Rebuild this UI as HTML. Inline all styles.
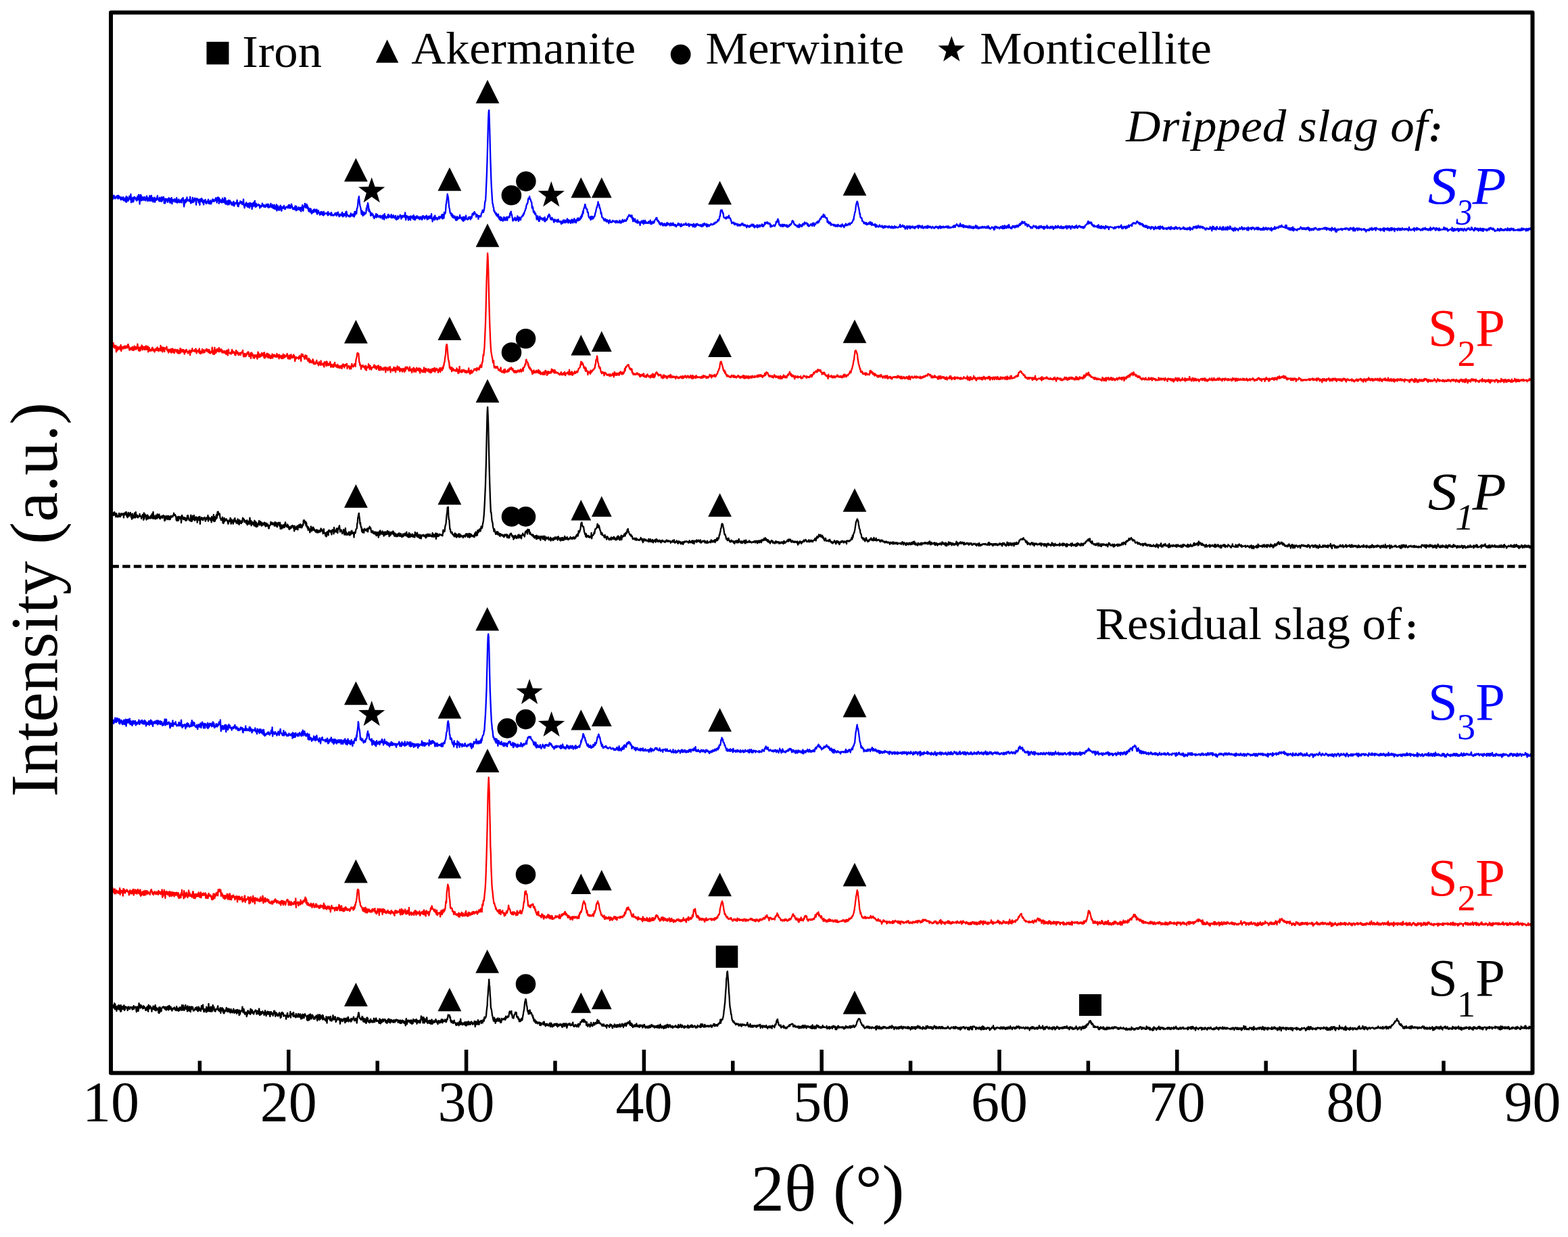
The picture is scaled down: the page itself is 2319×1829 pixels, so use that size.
<!DOCTYPE html>
<html><head><meta charset="utf-8"><title>XRD patterns</title><style>html,body{margin:0;padding:0;background:#fff;}svg{display:block;}</style></head><body>
<svg width="2319" height="1829" viewBox="0 0 2319 1829" font-family="'Liberation Serif', 'Times New Roman', serif">
<rect width="100%" height="100%" fill="#fff"/>
<path transform="translate(164.00 0) scale(0.52560 0.1)" vector-effect="non-scaling-stroke" fill="none" stroke="#0000ff" stroke-width="2.3" stroke-linejoin="round" d="M0 2914l1-17 1 6 1 34 1-67 1 52 1 21 1-34 1 12 1-29 1 32 1-9 1 21 1-8 1 2 1-29 1 0 1 5 1 14 1-29 1 48 1-9 1-36 1 8 1 16 1 14 1-14 1 14 1 22 1-40 1 33 1-17 1 21 1-10 1-23 1-3 1 51 1-8 1-7 1 1 1-22 1 52 1-26 1-51 1 84 1-29 1-45 1 29 1 12 1 14 1-20 1-23 1-26 1 39 1-31 1 41 1-79 1 123 1-78 1 24 1 22 1 20 1 5 1-65 1 51 1-26 1-36 1 2 1 10 1 15 1-1 1 21 1-31 1 41 1-36 1-29 1 37 1 12 1-74 1 73 1-10 1 75 1-65 1-69 1 15 1-11 1 80 1-51 1 43 1-42 1 4 1-5 1 43 1-9 1-25 1-11 1 41 1 12 1-8 1-10 1-32 1-18 1 43 1 32 1-18 1-28 1 29 1 13 1-3 1-72 1 39 1 2 1 37 1-59 1-22 1 73 1-12 1 21 1-49 1 62 1-40 1 8 1-7 1-28 1 70 1-36 1-1 1-15 1 23 1-29 1-11 1-26 1 43 1 15 1 6 1-18 1 37 1-53 1-4 1 50 1-28 1-1 1 39 1-67 1 58 1-45 1 26 1-7 1-33 1 10 1 85 1-46 1-13 1 55 1-63 1 36 1-35 1 13 1-7 1-4 1 48 1-23 1-22 1-21 1 28 1 8 1 33 1 6 1-65 1 1 1 46 1-59 1 91 1-48 1-7 1-6 1 3 1 4 1 24 1-41 1 4 1 0 1 4 1 41 1-5 1-64 1 45 1 31 1-36 1 0 1 22 1-39 1 42 1 5 1-1 1-5 1-28 1 20 1-22 1 39 1-58 1 1 1 16 1-32 1 36 1 57 1 39 1-92 1 47 1-29 1-31 1 10 1 26 1-15 1-54 1 49 1-7 1-4 1 14 1-1 1-17 1 3 1 25 1-67 1 58 1 37 1-24 1 11 1-31 1 1 1-43 1 72 1-48 1 40 1-14 1-20 1-23 1 25 1-3 1 22 1 56 1-95 1 21 1 0 1-14 1 14 1 14 1 28 1-16 1-32 1 84 1-78 1-10 1 18 1 14 1-41 1 40 1-31 1 51 1-14 1 1 1 45 1-66 1 10 1 12 1-9 1-22 1 49 1 8 1 2 1-33 1 0 1-5 1 17 1-42 1 61 1-32 1 5 1 31 1-9 1-39 1 16 1 34 1-20 1-13 1-19 1-18 1 30 1-6 1-16 1 26 1-13 1 7 1-10 1-22 1-15 1 38 1-21 1 53 1-70 1 39 1-48 1 3 1 5 1 84 1-79 1 30 1 25 1-31 1 7 1 31 1-33 1 29 1 7 1-63 1 54 1-31 1 15 1 22 1-26 1-43 1 84 1-76 1 61 1 28 1-21 1-20 1-7 1 11 1 45 1-20 1-46 1 48 1 12 1-20 1-38 1 14 1 17 1-6 1 37 1-33 1 39 1-10 1-6 1 17 1-54 1 5 1 63 1-47 1 21 1-20 1 7 1-2 1-13 1 20 1-55 1 72 1 18 1-48 1 53 1-52 1 17 1-11 1 2 1-36 1 29 1-15 1 2 1-6 1 37 1-6 1-17 1 26 1-76 1 78 1 16 1 32 1-46 1 20 1-37 1 28 1-45 1 31 1 13 1 23 1-48 1 28 1 21 1-10 1-48 1 70 1-54 1-18 1 18 1 28 1-37 1 10 1 72 1-82 1 22 1 22 1-59 1 44 1 4 1-31 1-43 1 84 1 10 1-22 1-32 1 44 1-21 1 6 1-5 1-6 1-8 1 19 1-9 1 0 1 48 1-19 1-6 1-9 1 16 1-7 1-10 1-36 1 37 1-18 1 2 1 30 1-20 1-2 1 27 1 0 1-3 1-4 1-33 1 17 1-11 1 12 1 18 1-42 1 54 1-43 1 37 1 1 1-7 1-12 1 1 1-37 1 52 1-10 1 14 1-15 1-24 1 33 1 21 1-10 1-23 1-20 1 63 1-43 1 33 1 10 1-25 1-42 1 93 1-64 1 21 1-30 1 56 1-27 1 34 1 0 1-51 1-1 1-18 1 10 1 60 1 12 1-18 1-41 1 7 1 8 1 2 1-16 1-21 1 47 1-22 1 29 1-4 1-25 1 1 1-8 1 4 1-5 1 10 1 8 1-32 1-10 1 31 1-34 1 48 1-37 1 14 1 20 1-8 1-50 1 20 1 14 1 15 1 27 1-20 1 19 1-17 1 22 1-11 1-28 1-13 1 49 1 19 1-62 1 51 1 1 1-20 1 18 1-12 1-26 1 32 1-18 1 21 1 10 1-39 1 19 1 39 1-56 1-9 1 14 1-44 1 75 1 11 1-41 1-27 1-4 1 9 1-45 1 47 1 15 1-33 1 30 1-49 1 55 1-33 1 43 1-22 1 47 1 16 1-26 1-9 1-8 1 54 1-23 1-22 1 45 1 22 1-40 1 4 1 21 1-30 1-12 1 36 1-42 1 20 1-19 1 28 1-5 1 3 1 19 1-45 1 64 1 6 1-27 1-23 1-5 1 35 1-1 1 3 1 30 1-7 1-37 1-2 1 32 1-6 1-27 1 45 1 0 1-6 1 16 1-58 1 42 1-1 1-12 1-4 1 0 1 4 1-1 1-8 1 16 1-8 1 26 1-51 1 48 1-25 1 8 1 2 1-9 1 13 1-13 1 29 1-43 1 9 1 33 1-4 1-3 1 9 1-10 1 12 1-3 1-16 1-9 1 14 1-25 1 22 1 12 1 8 1-45 1 26 1-12 1-24 1 32 1 19 1 11 1 5 1-33 1 8 1-3 1-7 1 22 1-24 1-12 1-15 1 44 1 21 1-23 1-19 1 29 1-11 1 5 1-27 1 17 1-42 1 73 1-79 1 37 1 4 1 13 1 4 1 12 1-9 1-1 1 17 1-16 1 7 1 7 1-48 1 20 1 14 1 0 1 4 1-26 1 24 1-9 1-17 1 43 1-10 1-67 1 48 1-29 1-20 1 19 1 13 1-68 1-16 1-12 1-48 1-65 1-16 1-31 1 52 1 52 1 30 1 22 1 17 1 38 1 49 1 4 1-52 1 35 1 38 1-27 1 10 1-36 1 39 1-7 1-19 1-2 1 10 1-20 1-61 1 33 1-71 1 7 1-44 1 24 1 27 1 73 1-32 1 37 1-6 1 9 1 55 1-24 1 19 1-32 1 28 1-16 1 5 1 4 1 39 1-7 1 25 1-30 1 3 1-15 1 17 1-44 1 55 1-47 1 26 1-22 1 15 1 20 1-12 1 5 1 3 1-10 1-8 1 35 1-12 1-7 1-9 1 18 1-12 1 36 1-38 1-17 1 33 1-35 1 68 1-84 1 52 1-24 1 17 1 4 1 16 1-4 1-17 1-1 1-12 1-21 1 47 1-45 1 31 1-1 1-10 1 12 1-7 1 17 1-45 1 49 1-8 1-18 1 24 1-24 1-11 1 13 1 20 1 7 1-10 1 5 1-30 1 55 1-11 1 17 1-24 1 0 1-30 1 40 1-30 1 24 1-16 1-16 1 2 1-22 1 11 1 16 1 32 1-45 1 0 1 26 1-27 1 15 1-15 1-2 1 14 1 7 1-25 1-39 1 77 1 30 1-42 1-20 1 16 1-8 1 21 1-19 1 55 1-34 1-14 1 35 1-12 1-32 1 55 1-57 1 4 1 4 1 16 1 1 1-26 1 35 1 9 1-57 1 64 1 1 1-44 1 48 1-27 1 9 1-27 1-11 1 29 1-30 1 29 1-11 1 17 1-5 1-19 1 33 1 6 1-12 1-7 1-21 1 26 1 4 1 14 1-1 1-54 1 16 1-17 1 27 1 3 1 2 1 13 1-39 1 18 1-9 1 15 1-36 1 16 1 44 1-12 1 7 1-38 1-5 1 34 1-6 1-3 1-29 1 24 1 10 1-23 1-44 1 73 1 2 1 41 1-38 1-1 1-23 1 32 1-50 1 55 1-66 1 49 1-4 1-12 1 15 1-15 1 29 1-4 1-3 1-12 1-12 1-14 1 15 1 17 1-32 1 1 1-2 1 8 1 11 1-46 1 33 1 27 1-63 1 45 1-22 1 32 1-88 1 26 1-13 1 4 1-40 1-93 1-15 1-49 1-36 1-53 1 29 1 15 1 50 1 60 1 46 1 18 1 43 1 23 1 4 1-9 1 37 1 6 1-28 1 47 1-3 1-25 1 38 1-24 1 12 1 16 1-29 1 9 1 41 1 10 1-40 1 41 1-55 1 42 1 0 1-31 1 10 1-3 1 10 1-18 1-33 1 45 1-14 1 2 1 20 1 8 1-17 1 34 1-45 1 26 1 32 1-63 1 36 1-31 1 41 1-25 1 4 1-46 1 34 1 17 1 5 1 6 1-4 1-1 1-30 1 23 1-27 1 0 1 11 1-13 1 39 1-40 1 22 1-3 1-20 1-43 1 5 1 0 1-19 1 29 1-26 1-20 1 23 1-3 1 11 1 5 1 41 1-23 1-13 1 9 1 7 1 12 1 38 1-50 1 15 1-12 1 13 1 2 1-5 1 1 1-32 1-22 1 1 1-17 1-26 1 10 1 23 1-13 1-24 1-28 1-55 1-44 1 1 1-78 1-124 1-111 1-143 1-165 1-202 1-213 1-168 1-117 1-26 1 138 1 180 1 203 1 199 1 152 1 161 1 111 1 88 1 87 1 62 1 8 1 44 1 7 1 56 1-8 1 7 1 26 1-1 1 19 1-19 1 39 1-16 1 20 1-23 1 36 1-39 1 34 1 30 1-3 1 20 1-27 1-15 1 55 1-24 1 12 1-32 1 41 1-4 1 15 1-22 1 3 1-40 1 7 1 39 1-3 1 5 1-15 1-29 1 31 1-35 1 50 1-20 1-31 1 12 1-2 1-5 1-20 1 21 1-62 1 10 1-22 1-12 1 52 1-9 1 33 1 22 1 39 1-28 1 1 1 7 1 8 1-24 1-14 1 20 1 9 1 18 1-32 1 22 1-23 1-36 1 43 1-19 1 54 1-40 1-18 1 19 1 20 1-25 1 24 1-39 1-3 1-2 1-1 1-23 1 4 1 3 1-33 1 12 1-20 1-18 1-14 1-8 1-24 1-4 1-41 1-13 1-17 1 3 1-20 1-44 1-19 1-3 1 17 1-39 1 36 1-2 1 14 1 23 1 8 1 9 1 84 1-20 1-1 1 32 1 48 1-17 1 28 1-19 1 39 1-16 1 5 1 28 1 5 1 56 1-26 1 22 1-48 1 22 1 27 1 29 1-38 1 35 1-70 1 40 1 1 1-10 1-10 1 8 1 1 1 25 1-5 1-10 1-14 1 4 1 31 1 12 1-60 1 65 1-37 1 4 1 2 1 11 1-24 1 8 1-27 1-23 1 16 1-21 1-17 1 18 1-2 1 30 1 25 1-6 1 16 1-22 1-9 1 29 1-14 1 16 1 0 1 28 1 10 1-37 1-7 1 6 1 20 1-3 1-6 1 13 1-21 1 31 1-28 1 23 1-33 1 34 1-2 1-4 1 10 1-8 1-4 1 5 1 36 1-29 1 23 1-35 1 16 1 10 1-44 1 28 1-9 1-16 1 37 1-22 1-12 1 32 1-20 1 14 1-26 1-25 1 17 1 25 1 20 1-44 1 32 1-13 1-12 1 4 1 29 1 8 1-20 1-31 1 36 1-40 1 5 1 45 1-35 1 9 1-12 1-26 1 56 1-26 1 24 1-30 1 38 1-26 1-18 1-8 1-13 1 36 1-11 1-30 1 9 1 25 1-19 1 9 1-8 1-37 1 26 1-15 1-39 1 28 1-38 1-39 1 32 1-60 1-14 1-14 1-14 1-34 1 8 1 28 1 28 1-5 1 12 1 1 1 46 1-6 1 10 1 49 1 21 1-3 1 16 1-17 1 13 1 30 1-54 1 25 1 6 1 8 1-35 1 32 1-1 1-13 1-5 1-17 1 5 1-22 1-33 1-6 1-30 1-23 1-24 1 2 1-30 1-20 1-33 1 38 1 10 1-7 1 51 1-5 1 20 1 26 1 45 1-19 1 37 1 32 1 5 1 6 1-3 1 20 1 5 1 18 1-16 1-11 1 23 1-19 1 31 1-21 1 31 1-20 1-8 1 16 1-9 1 25 1 18 1-34 1-7 1-9 1 17 1 17 1 2 1-5 1-3 1 4 1-16 1-9 1 16 1-6 1-2 1 1 1 4 1 13 1-17 1 16 1 9 1-29 1 20 1-11 1-8 1 25 1 2 1-10 1-1 1 7 1-30 1 34 1-20 1-5 1 29 1-3 1-11 1-4 1-25 1-7 1 36 1-3 1-7 1-12 1 9 1-20 1 10 1 7 1-7 1 8 1-18 1-21 1 13 1-27 1-7 1-15 1 1 1-17 1 17 1-13 1 16 1 3 1-11 1 22 1-28 1 0 1 54 1-22 1 58 1-50 1 44 1-12 1-9 1 23 1-32 1 46 1-14 1 1 1-3 1 26 1 0 1-39 1 45 1-22 1 3 1 1 1 6 1 3 1 41 1-46 1-6 1 9 1-22 1 30 1 0 1-21 1 8 1-25 1 55 1-14 1 0 1-23 1-17 1 37 1 5 1-20 1 5 1 13 1-7 1 7 1 2 1-7 1-17 1 22 1-26 1 12 1-7 1-21 1 56 1-35 1 17 1 17 1-23 1 5 1-20 1 15 1 12 1-25 1 11 1-25 1-8 1-8 1-5 1-17 1 19 1-25 1 24 1 25 1-7 1 0 1 24 1-10 1 30 1 10 1-16 1 2 1 27 1-16 1-16 1 3 1 17 1-15 1 36 1-8 1 1 1-17 1 22 1-29 1 19 1 10 1-18 1 23 1-12 1-31 1 32 1-33 1 21 1 5 1-17 1 3 1 15 1-5 1 20 1-29 1-7 1-1 1 31 1-3 1 3 1-5 1-25 1-5 1 33 1 0 1 7 1-17 1 9 1 12 1-18 1 25 1 5 1-17 1-1 1-7 1-8 1-17 1 26 1-3 1-19 1 22 1-11 1 13 1 20 1-8 1-32 1 33 1-5 1-6 1-1 1-2 1-15 1-1 1 16 1-11 1 2 1-3 1-13 1-5 1 29 1 0 1-3 1 5 1-11 1-6 1-5 1 22 1 18 1-10 1-23 1 3 1 8 1 1 1-8 1 14 1-13 1 12 1-11 1 32 1-21 1-24 1 20 1 9 1 21 1-33 1 16 1 8 1-41 1 24 1-6 1 1 1-16 1 8 1 10 1-1 1 6 1-10 1 11 1 3 1 6 1-23 1 15 1 0 1 16 1-26 1 15 1-31 1 31 1-4 1-20 1-15 1 2 1 18 1 4 1-5 1 17 1-27 1 42 1-35 1 15 1 7 1-16 1 0 1 23 1-15 1-6 1 3 1-1 1-7 1-13 1 8 1 4 1 6 1-8 1-2 1-8 1 10 1-4 1-17 1 12 1-17 1-8 1 10 1-5 1 2 1-9 1-3 1-19 1-11 1 14 1 2 1-19 1-11 1-37 1 0 1-42 1-47 1-1 1 13 1-16 1 7 1 25 1 17 1-3 1 45 1 21 1 1 1 5 1 1 1-8 1 1 1 19 1-13 1-17 1 5 1-2 1 16 1-23 1 14 1-29 1 36 1 2 1 0 1 1 1 26 1 3 1 25 1 23 1-11 1-4 1 4 1-2 1 16 1-18 1 21 1 16 1-10 1 2 1-15 1 6 1 8 1-3 1 0 1 26 1-27 1 15 1 4 1 4 1-1 1-14 1 17 1-18 1 3 1 11 1-7 1-21 1 9 1-10 1-2 1 32 1-13 1 1 1 13 1-13 1 15 1-13 1 17 1-6 1 8 1 22 1-25 1-10 1 15 1 3 1-5 1 14 1-11 1-10 1 20 1-10 1-15 1 1 1 8 1-23 1 3 1 4 1 17 1-25 1 25 1 14 1-27 1 37 1-26 1 1 1 11 1-1 1 5 1-2 1-29 1 5 1 36 1-12 1-7 1-5 1-14 1 17 1 11 1-23 1 11 1-6 1-8 1-1 1-13 1 33 1-25 1 2 1 24 1-10 1-13 1-1 1-37 1 25 1-1 1-23 1 3 1 5 1-10 1-4 1 21 1 5 1-14 1 16 1 1 1-1 1-10 1 15 1 39 1-32 1 11 1 16 1-12 1 7 1-4 1 0 1-3 1-12 1 3 1 4 1 13 1-11 1-15 1-12 1-32 1 7 1 4 1-21 1-19 1-9 1 39 1-14 1 53 1 11 1-9 1 9 1 17 1-19 1 22 1-5 1-16 1-9 1 29 1 5 1-3 1-26 1 15 1-17 1 11 1 11 1-16 1 14 1 5 1-9 1-11 1 32 1-7 1-11 1 16 1-7 1 0 1-25 1 5 1 6 1-20 1 11 1-11 1-7 1-13 1-28 1-4 1 20 1-12 1 9 1 28 1 12 1-4 1 14 1-7 1 6 1 7 1 7 1-8 1 9 1 13 1-23 1 23 1 2 1 4 1-48 1 42 1-28 1-4 1 11 1-9 1 21 1 4 1-6 1-19 1-19 1 3 1 0 1 16 1-20 1-21 1 8 1 11 1 5 1-12 1-1 1 0 1 14 1 18 1-20 1 34 1-18 1 23 1-12 1 3 1-3 1-7 1-13 1 1 1 2 1 7 1 16 1-39 1 5 1 1 1 17 1-28 1 47 1-27 1 2 1 0 1-2 1-22 1 0 1-9 1-1 1-8 1 21 1-28 1 6 1 9 1-15 1-17 1-11 1-13 1 14 1-13 1-16 1-14 1 13 1-12 1-1 1-13 1-18 1 41 1-30 1 0 1 23 1 1 1 16 1 4 1-2 1 4 1-1 1 62 1-30 1 29 1-8 1 24 1 6 1-16 1-7 1 5 1 7 1 34 1-16 1-6 1 13 1-4 1 4 1 1 1 13 1-11 1-7 1 6 1 20 1-12 1-4 1 20 1-22 1 5 1 11 1-12 1 20 1-30 1 13 1 3 1-2 1 12 1-6 1 7 1 1 1-22 1 28 1-13 1 1 1-27 1 12 1 3 1 17 1 4 1 11 1-23 1-10 1-9 1 15 1-29 1 12 1 5 1 12 1-9 1-3 1-9 1 11 1-15 1-6 1-4 1 23 1-2 1-15 1-8 1-3 1 4 1-4 1-14 1-3 1-19 1-16 1 7 1-48 1-19 1-34 1-14 1-18 1-53 1-35 1-23 1-16 1-12 1 12 1 18 1 44 1 13 1 25 1 30 1 46 1-10 1 54 1 11 1-4 1 8 1 1 1 43 1-5 1 6 1 9 1 11 1 15 1-10 1-9 1 9 1 17 1 2 1-9 1-13 1 31 1-6 1-12 1 14 1-9 1 1 1-18 1 18 1-27 1 13 1 20 1-33 1 16 1 5 1 26 1-36 1 15 1 6 1 11 1 0 1-2 1-6 1 16 1-24 1 38 1-5 1 14 1-33 1 2 1 15 1 3 1 4 1 6 1 1 1-5 1-21 1-5 1 19 1 1 1 9 1-8 1-3 1 9 1-17 1 30 1 2 1-6 1-12 1 23 1-19 1-13 1 5 1 18 1-18 1-4 1 10 1 5 1 0 1 0 1-9 1 20 1-7 1-5 1-14 1 10 1 10 1 6 1-4 1-11 1 19 1-24 1 9 1-7 1 24 1-13 1-1 1 13 1-15 1-14 1 24 1-11 1 12 1-16 1 6 1-2 1 7 1 0 1 3 1 1 1-9 1 0 1-10 1 5 1-18 1-15 1 38 1-9 1 4 1-11 1 0 1 7 1-20 1 13 1 7 1 10 1-18 1 21 1-17 1 42 1-13 1-13 1 5 1-5 1-19 1 43 1-25 1-9 1 7 1-13 1 22 1-24 1 31 1 6 1-33 1 18 1-11 1 10 1-15 1 17 1-22 1 9 1 5 1 11 1-9 1 18 1-26 1 22 1-11 1-1 1-16 1 0 1 9 1 2 1-20 1-2 1 40 1-28 1 14 1-27 1 11 1 1 1-3 1 21 1 4 1-19 1 16 1-29 1 18 1 16 1 7 1-18 1-1 1 5 1-14 1 18 1-10 1 8 1-8 1-12 1 25 1 4 1-2 1-36 1 12 1 8 1 8 1-12 1 10 1-15 1 4 1 5 1 5 1 15 1-14 1-1 1-12 1 12 1 0 1 6 1 8 1-12 1 11 1-16 1 5 1-14 1-3 1 11 1 7 1-2 1-4 1-5 1 26 1-2 1-23 1 10 1-17 1-5 1 21 1 13 1-27 1 7 1-1 1 13 1-14 1-4 1 2 1-5 1 20 1-13 1 1 1 5 1 0 1 1 1-14 1 13 1-12 1 13 1-16 1 9 1 19 1-29 1 7 1 8 1 3 1 10 1-14 1 0 1 4 1 3 1-4 1-2 1-4 1-9 1 4 1 12 1-26 1-1 1 21 1 3 1-1 1-29 1 6 1-12 1-10 1 11 1 2 1 3 1 17 1 3 1-17 1 18 1-7 1-9 1-30 1 42 1-19 1 9 1 6 1 8 1-27 1 21 1 11 1-29 1 38 1-21 1-5 1 12 1 3 1-13 1 22 1-16 1 11 1-15 1 12 1 10 1 3 1-14 1 9 1-25 1 32 1-9 1-8 1 13 1-22 1 28 1-12 1 12 1-10 1 14 1-26 1 10 1 18 1-21 1 12 1-2 1-1 1-30 1 0 1 34 1 3 1-27 1 1 1 26 1 0 1 9 1-17 1-5 1 17 1-4 1-14 1 0 1 2 1 13 1-20 1 2 1 11 1-17 1 19 1-1 1-5 1-7 1 11 1-15 1 7 1 9 1 6 1-10 1 5 1-21 1 12 1 14 1-16 1-15 1 20 1 9 1-8 1 19 1-7 1 11 1-11 1-1 1-7 1-12 1 11 1-5 1 12 1-9 1 2 1 32 1-37 1 31 1-46 1 15 1 0 1-11 1 12 1-8 1 20 1-3 1-7 1-3 1 0 1 2 1 19 1-16 1-1 1 4 1-19 1 22 1 1 1-1 1-15 1-18 1 42 1-19 1-15 1 10 1 22 1-45 1 35 1-15 1 15 1-22 1 26 1-16 1-14 1 18 1-26 1 31 1 2 1-47 1 27 1 12 1-3 1 9 1 11 1-12 1 3 1 13 1-35 1 12 1-19 1 12 1 10 1-8 1-12 1 19 1 7 1-8 1-20 1-2 1 5 1 15 1-25 1 13 1-12 1 21 1-14 1 1 1-22 1-9 1 1 1 20 1-29 1-8 1 10 1 7 1-36 1 11 1 4 1 11 1-17 1 12 1-14 1-2 1 19 1 29 1-14 1 3 1-9 1 7 1 22 1 13 1-10 1-9 1-11 1 13 1 10 1 1 1 7 1 8 1-5 1 21 1-17 1 8 1-8 1 16 1-15 1-3 1-21 1 13 1-4 1 7 1-6 1 11 1 5 1-19 1 9 1 27 1-19 1-1 1 3 1 9 1 8 1-32 1 14 1 13 1-28 1 21 1-8 1-8 1-10 1 16 1 13 1-11 1-7 1 21 1-22 1 37 1 0 1-23 1-14 1 10 1 8 1-12 1 7 1 0 1-28 1 40 1-12 1-11 1 8 1 11 1-9 1 5 1 9 1-20 1-4 1-5 1 24 1-2 1-15 1 12 1-20 1 22 1 22 1-16 1-15 1 15 1-19 1-1 1-14 1 32 1-8 1-13 1 14 1-6 1 7 1-29 1 22 1 4 1 3 1-8 1-5 1 21 1-18 1 1 1-14 1 22 1 12 1-14 1-4 1-7 1 25 1-1 1-18 1-4 1 10 1 1 1-13 1-11 1 19 1-17 1 41 1-20 1-14 1-7 1 7 1 16 1-2 1-23 1 1 1 7 1 0 1 37 1-34 1-2 1-2 1-9 1 14 1 17 1-16 1 3 1-5 1 15 1 6 1-24 1-6 1 22 1-14 1-19 1 24 1 0 1 18 1-7 1-18 1 3 1-12 1-4 1 8 1 6 1 13 1-15 1 6 1 0 1-2 1 17 1-11 1 13 1-19 1 21 1-16 1-6 1 13 1-25 1-8 1-5 1 0 1 0 1-11 1-13 1 6 1-28 1-10 1 38 1-21 1-3 1 20 1-6 1-13 1 12 1-4 1-6 1 38 1-14 1 13 1 6 1 16 1-18 1 1 1 24 1-9 1-6 1 10 1 3 1 2 1-1 1-5 1-11 1 26 1 4 1-5 1-37 1 43 1-9 1-2 1-8 1 29 1-20 1 6 1-23 1 36 1-10 1-14 1-2 1 4 1-6 1 29 1-14 1 8 1 11 1-25 1-18 1 24 1-18 1 8 1 12 1-12 1-4 1 3 1 11 1 29 1-34 1 0 1-4 1 1 1 1 1 1 1 3 1 1 1 0 1 3 1 0 1 5 1 1 1 14 1-8 1-14 1-7 1 8 1 14 1-19 1-2 1 6 1-7 1-1 1-1 1-1 1-6 1 23 1-7 1-5 1-7 1 1 1 9 1-23 1-9 1 25 1 27 1-4 1-21 1 24 1-21 1-2 1-8 1 14 1 4 1-14 1 15 1 13 1-34 1 19 1-15 1 19 1-17 1-15 1-2 1-8 1 31 1-14 1-8 1-1 1-4 1 0 1-11 1 7 1 17 1-37 1-4 1 4 1-12 1-1 1 9 1-3 1-2 1 9 1-4 1 4 1-10 1-17 1 8 1-18 1 19 1-8 1 10 1 13 1 3 1-12 1-2 1 30 1-22 1 15 1-9 1 4 1 13 1-16 1 31 1-21 1 4 1 28 1-14 1 10 1 4 1 7 1-23 1 23 1 2 1-6 1-16 1 16 1 24 1-13 1 9 1-21 1 14 1-11 1 3 1 17 1-9 1 21 1-31 1 17 1-22 1 14 1-1 1 4 1-10 1 17 1 19 1-8 1-15 1 7 1-29 1 18 1 14 1-5 1-8 1-2 1 10 1-7 1-17 1 14 1 18 1-33 1 14 1 23 1-43 1 10 1 9 1 2 1 5 1-18 1-7 1 38 1-20 1 24 1-15 1-2 1 10 1-2 1 1 1-5 1-5 1 17 1-5 1 9 1-22 1 5 1-3 1-8 1 18 1-21 1 24 1 0 1 3 1 6 1-41 1 21 1 2 1 5 1 0 1-14 1 7 1 11 1-6 1-8 1 20 1-18 1-16 1-1 1 19 1-17 1 26 1-17 1 16 1 4 1-11 1-5 1-3 1 0 1-2 1 1 1 27 1-9 1 2 1 0 1-9 1-1 1 5 1-11 1 10 1-23 1 26 1 4 1-18 1 18 1 3 1-12 1 9 1-11 1 10 1 9 1-18 1-6 1 5 1 16 1-9 1-17 1 13 1-19 1 43 1-32 1 2 1 7 1 6 1 0 1 7 1-1 1-29 1-10 1 15 1-17 1 15 1-6 1 7 1-17 1 12 1-18 1 33 1-30 1-1 1 10 1 10 1-33 1 25 1-3 1 11 1-17 1 20 1-12 1-12 1 14 1 3 1 1 1 7 1-20 1 25 1-5 1-7 1 5 1 5 1 1 1 20 1-14 1 17 1-13 1-11 1-2 1 11 1-6 1 9 1-4 1 9 1-10 1 3 1 3 1-31 1 22 1-14 1 19 1-12 1 43 1-24 1-43 1 30 1 4 1-29 1 39 1-14 1-2 1 17 1-22 1 14 1 14 1-34 1-12 1 11 1 17 1-1 1 7 1-3 1 2 1 7 1-4 1-32 1 29 1-7 1 6 1 13 1 3 1-36 1 19 1-28 1 44 1-41 1 30 1 3 1 4 1 2 1-3 1-33 1 36 1-14 1-8 1-13 1 38 1-47 1 24 1-5 1 3 1 14 1-18 1-25 1 37 1-25 1 23 1 10 1 2 1-7 1 17 1-29 1 15 1 27 1-34 1 5 1-1 1-20 1 44 1-24 1 4 1 2 1-13 1 8 1 9 1-9 1 23 1-19 1 0 1-5 1-18 1 10 1 12 1-9 1 3 1-1 1-29 1 19 1-5 1 29 1-9 1-5 1-6 1-8 1 24 1-14 1 1 1 3 1-4 1-9 1 6 1 28 1-13 1 4 1-36 1 48 1-36 1 16 1-7 1-6 1 0 1-5 1 18 1 8 1-30 1 9 1 7 1-19 1 11 1 0 1-5 1 22 1 7 1-19 1 1 1 9 1 0 1-23 1 23 1-19 1 26 1-4 1-29 1 10 1 24 1-22 1 7 1 9 1 5 1-14 1 22 1-21 1 13 1-9 1-6 1 23 1-22 1-18 1 7 1 29 1-11 1 4 1 1 1-25 1 14 1-15 1 23 1 7 1-13 1 13 1-24 1 15 1-9 1-5 1 5 1 2 1 19 1-7 1-11 1-14 1 46 1-32 1 1 1 7 1 5 1-16 1-7 1 15 1-11 1-23 1 36 1-14 1 5 1-1 1-11 1-5 1-5 1 7 1 4 1 5 1-10 1-18 1 1 1 3 1 9 1-11 1-7 1 16 1-27 1 6 1 18 1 4 1-3 1 1 1 4 1 3 1-1 1-7 1 15 1-38 1 43 1-7 1-35 1 34 1 10 1 8 1-9 1 5 1-13 1 28 1-7 1-13 1-4 1 32 1-24 1-4 1-7 1 26 1 11 1-22 1-27 1 23 1 34 1-26 1-7 1 17 1-2 1-6 1 3 1 8 1 3 1-10 1 14 1-12 1-12 1 1 1 6 1-7 1 2 1 5 1-18 1-1 1-16 1 17 1 5 1-7 1 21 1-11 1 6 1-17 1 4 1 17 1-13 1-7 1 10 1 12 1-8 1 8 1-22 1 21 1-24 1 1 1 13 1-19 1 33 1-7 1-16 1 40 1-27 1-2 1 0 1 15 1-12 1 19 1-26 1 15 1-6 1 6 1 8 1-23 1-8 1 7 1 7 1-8 1-10 1 13 1-2 1 8 1 7 1 5 1-9 1 11 1-8 1-13 1 21 1-9 1-9 1 12 1-12 1 4 1-2 1-2 1 3 1 1 1-8 1-3 1 8 1 2 1-18 1 18 1-2 1 2 1-22 1 26 1-21 1 34 1-8 1-23 1 9 1 4 1 2 1-9 1 21 1 5 1-14 1-10 1 18 1-8 1 24 1-40 1-8 1 10 1 7 1 18 1-4 1-13 1 6 1 12 1-29 1 6 1 47 1-28 1-3 1 34 1-37 1 4 1 4 1 4 1-18 1 7 1 6 1-5 1-2 1-5 1 5 1-9 1 13 1-15 1 12 1 12 1-21 1 3 1 3 1-6 1 0 1 4 1-12 1 8 1 9 1 1 1-22 1 7 1 4 1-4 1-2 1 2 1 25 1-8 1-1 1-10 1 17 1-30 1-3 1 13 1 0 1 7 1 0 1-15 1 22 1-2 1 22 1-51 1 13 1 12 1 16 1 10 1-16 1-19 1 4 1 0 1-10 1-2 1 33 1-4 1-16 1 7 1-19 1 24 1-11 1 1 1 5 1-8 1-2 1 23 1-7 1-5 1 0 1-7 1 7 1 4 1-16 1 1 1 22 1-11 1 17 1-7 1 24 1-31 1 7 1 2 1-4 1-4 1-6 1 17 1 2 1-20 1 12 1-26 1 14 1-13 1 11 1 10 1-31 1 22 1 13 1-17 1 9 1-8 1-9 1 8 1 3 1-20 1 26 1 13 1-28 1-11 1 11 1 5 1-1 1 3 1-3 1 4 1 3 1 8 1-4 1-11 1-3 1 30 1-14 1-6 1-3 1 8 1-2 1-14 1 31 1-9 1-33 1 52 1-22 1-13 1-4 1-4 1 13 1-9 1 15 1 4 1-15 1-15 1 19 1 11 1-18 1 30 1-8 1-26 1 27 1-2 1-33 1 14 1 22 1-38 1 20 1 1 1-5 1 14 1-1 1-22 1 47 1-27 1-2 1-7 1-7 1 7 1 9 1-9 1 22 1-14 1-20 1 9 1-6 1 16 1 11 1-12 1-14 1 25 1-23 1 19 1-13 1 13 1-28 1 15 1 5 1-1 1-6 1 13 1 2 1-16 1 12 1-13 1 10 1 2 1-5 1-10 1 17 1-2 1-5 1 23 1-15 1-37 1 33 1 1 1 7 1-9 1 14 1-15 1 5 1 0 1-3 1 3 1-14 1 17 1-13 1-16 1 47 1-36 1 11 1-13 1 8 1-9 1 24 1-35 1 29 1-17 1 7 1-7 1 14 1-8 1 0 1 7 1-1 1 15 1 2 1-12 1-9 1 5 1-8 1 22 1-31 1 15 1 4 1-14 1 8 1-5 1-17 1 30 1-16 1 10 1-8 1 14 1-13 1 19 1-2 1 6 1-15 1-9 1 20 1-13 1-4 1-23 1 45 1-27 1 9 1-7 1-3 1 13 1-10 1-17 1 12 1-10 1 12 1 7 1 2 1 19 1-3 1-35 1 24 1-5 1 6 1-18 1 13 1-1 1 21 1-18 1-17 1 11 1 20 1-8 1-7 1 6 1-1 1-1 1 2 1-4 1 1 1-9 1 7 1-32 1 25 1 12 1-8 1-16 1 10 1 14 1-18 1-1 1 1 1 25 1 14 1-20 1 0 1 7 1-3 1-4 1-3 1-8 1 5 1-1 1-2 1 19 1-43 1 24 1 22 1 7 1-32 1 29 1-20 1-14 1 29 1-8 1-11 1 12 1-15 1 11 1-15 1 18 1-22 1 0 1 43 1-35 1 5 1 17 1-15 1-14 1 10 1 7 1-13 1 22 1-27 1 13 1 3 1 9 1 10 1-18 1-17 1 1 1 6 1 4 1 18 1 4 1-10 1-5 1-18 1 15 1-17 1 1 1 5 1-12 1 9 1 18 1-3 1 1 1 5 1-4 1-35 1 26 1-22 1 28 1-1 1-4 1 8 1 16 1-4 1-6 1-34 1 28 1-25 1 12 1 10 1-15 1 0 1 19 1-10 1-10 1 37 1-17 1-10 1 11 1 6 1-30 1 14 1 19 1-20 1-7 1 21 1 13 1-37 1 30 1 9 1-35 1 4 1 7 1-3 1 2 1 9 1 1 1-14 1 20 1 5 1-10 1 0 1-18 1 10 1-19 1 24 1-10 1-19 1 12 1-17 1 17 1-13 1 18 1 3 1-1 1-13 1 21 1-22 1 8 1 9 1 9 1 18 1-17 1 8 1 3 1-6 1 1 1-1 1-12 1-16 1 29 1-23 1 10 1 13 1-16 1 22 1-26 1-11 1 24 1-21 1 5 1 21 1-7 1-5 1 2 1 11 1-14 1 15 1-2 1-10 1-10 1-5 1 19 1-4 1-4 1 16 1-2 1-36 1 33 1-20 1 18 1-5 1 12 1-27 1 26 1-12 1 3 1-22 1 22 1-20 1 10 1 2 1-6 1 23 1-29 1 30 1-4 1-1 1-4 1 4 1 2 1-3 1 0 1-6 1 6 1-10 1 13 1 2 1-8 1-14 1 19 1 5 1 0 1-17 1 16 1-1 1-33 1 8 1 12 1 7 1-26 1 2 1 19 1-5 1-8 1 1 1 6 1 8 1-4 1 20 1-36 1 27 1-1 1 2 1-24 1 25 1-29 1 1 1 10 1-3 1 7 1-22 1 15 1 5 1-19 1 37 1-14 1-4"/>
<path transform="translate(164.00 0) scale(0.52560 0.1)" vector-effect="non-scaling-stroke" fill="none" stroke="#ff0000" stroke-width="2.3" stroke-linejoin="round" d="M0 5128l1 35 1-5 1-38 1 8 1 8 1-42 1-22 1 47 1-9 1 37 1-39 1 18 1 13 1-31 1 95 1-27 1-45 1 52 1-56 1 28 1 11 1-24 1 14 1-28 1 30 1 8 1-45 1-21 1 90 1-29 1 3 1-35 1 14 1-13 1-2 1 27 1-13 1-24 1-2 1 8 1 27 1-30 1-6 1 14 1 13 1 1 1-27 1-24 1 0 1 51 1-23 1 57 1-29 1 23 1-11 1 8 1-30 1 22 1-12 1 27 1-46 1 31 1-12 1 33 1-7 1-57 1 47 1-9 1-23 1-4 1 39 1-18 1 3 1-3 1-62 1 43 1 11 1 42 1-43 1 25 1 23 1-55 1 51 1-40 1 17 1-35 1-21 1 45 1 24 1-51 1 11 1 23 1 4 1-31 1 42 1-45 1 11 1 30 1-54 1 33 1 19 1-20 1-6 1-19 1 82 1-62 1-3 1 4 1 35 1 13 1-18 1 3 1-8 1 20 1-17 1-29 1-3 1 14 1 34 1-22 1 16 1-2 1 26 1-39 1 5 1-8 1 19 1-31 1 19 1 10 1-44 1 47 1-13 1 24 1-40 1 15 1-9 1-5 1 31 1-75 1 73 1-28 1 29 1-51 1 70 1-62 1 6 1-10 1 51 1 2 1 9 1-56 1 18 1-10 1-5 1 4 1-24 1 51 1 10 1-19 1 7 1 42 1-51 1 20 1-14 1 19 1 11 1-22 1-21 1 58 1-37 1 24 1-46 1-4 1 28 1 31 1-39 1 20 1 25 1-50 1-3 1 13 1-3 1 15 1 13 1-33 1 47 1-47 1 46 1-15 1 25 1-42 1 0 1 39 1-73 1 64 1-57 1 42 1 2 1-12 1-15 1-6 1 35 1-33 1 10 1 20 1 35 1-55 1 17 1 13 1-18 1-24 1 2 1 28 1-3 1 3 1 27 1-13 1-20 1 13 1-27 1 23 1 48 1-65 1 20 1-18 1 19 1-11 1-43 1 36 1-5 1-2 1 10 1 3 1-13 1-9 1 26 1-37 1-5 1 26 1 42 1-31 1 8 1-9 1-13 1 12 1-17 1 42 1-61 1 54 1-8 1 31 1-37 1 26 1-19 1 19 1-60 1 26 1-17 1 23 1 23 1-31 1-8 1 32 1-24 1-6 1 1 1-17 1-2 1 35 1-33 1 11 1 20 1-4 1 21 1-43 1 30 1-13 1 41 1-19 1-5 1 13 1-18 1 9 1-69 1 34 1 64 1-24 1-21 1 44 1 5 1-100 1 52 1 31 1-48 1 41 1-19 1-11 1-25 1 30 1-14 1 5 1 19 1-59 1 19 1 40 1-28 1 7 1 6 1-23 1 36 1-11 1 29 1-38 1 32 1-1 1-12 1 20 1-15 1-13 1 30 1-24 1 32 1 8 1-44 1-12 1 63 1-27 1 39 1-68 1-20 1 51 1 2 1 1 1 9 1-9 1-8 1-2 1 24 1-46 1-18 1 47 1 3 1-23 1 5 1 16 1-13 1 9 1 34 1 0 1 6 1-72 1 0 1 43 1-18 1-5 1 5 1 36 1-16 1 24 1-29 1 15 1-21 1 13 1 20 1-32 1-6 1 6 1-8 1-10 1-20 1 53 1 36 1-19 1 25 1-45 1 12 1-12 1 43 1-25 1 10 1-10 1-23 1-13 1-3 1 23 1-26 1 37 1 28 1-25 1 23 1-5 1-44 1 80 1-60 1-25 1 17 1-1 1 31 1-8 1 38 1-41 1 13 1 34 1-45 1 11 1 11 1-26 1 23 1-18 1 33 1 21 1-65 1-37 1 54 1-35 1 60 1-14 1-14 1-15 1 34 1-19 1 5 1-42 1 7 1 34 1-26 1 21 1-35 1 36 1 32 1-77 1 85 1-50 1 36 1-36 1 2 1-8 1-14 1 50 1 9 1-55 1 38 1 23 1-29 1-19 1 18 1 30 1 8 1-27 1-12 1 33 1-20 1-39 1 61 1-34 1 16 1-9 1-24 1 0 1 19 1 11 1-17 1 20 1-15 1 15 1-49 1 50 1-18 1-13 1 19 1-2 1 39 1-58 1 26 1 5 1-6 1 17 1-27 1 41 1-33 1-11 1 9 1 36 1-66 1 33 1 18 1-40 1 40 1-17 1 4 1 0 1-20 1 8 1-7 1-25 1 21 1 51 1-25 1 4 1 25 1-51 1-1 1 51 1 0 1-32 1-32 1 41 1-21 1 29 1-20 1 2 1 15 1-44 1 28 1-13 1 26 1 57 1-61 1 15 1 10 1-11 1-12 1 3 1 7 1 2 1 2 1 11 1-35 1 3 1-14 1 40 1-3 1-7 1 49 1-107 1 38 1-8 1 5 1-29 1 32 1 0 1 1 1 20 1 16 1-17 1-39 1 29 1-10 1 32 1-43 1 54 1-1 1 12 1 16 1-28 1-15 1 14 1 50 1-23 1-16 1 16 1 2 1 21 1-19 1 2 1 15 1-49 1 16 1 53 1-38 1 23 1 9 1 10 1-4 1 1 1-30 1-8 1-15 1 37 1-3 1 16 1 1 1 25 1-21 1-31 1 19 1 5 1 15 1 8 1-64 1 56 1-10 1 2 1 5 1 9 1-25 1 9 1 12 1 32 1-73 1 16 1 2 1-15 1 20 1 37 1-68 1 4 1 37 1 2 1 16 1-13 1-15 1 23 1-9 1-4 1-37 1 49 1 32 1-35 1-7 1 21 1 3 1 14 1 2 1-40 1 39 1-20 1-18 1-29 1 39 1 7 1 16 1-19 1 17 1 9 1-20 1-18 1 45 1-7 1-19 1 9 1 23 1-20 1-10 1 13 1 1 1 19 1-39 1 43 1-28 1 1 1-38 1 19 1-13 1 21 1 27 1-28 1 2 1-23 1 18 1-14 1-4 1-10 1 72 1-31 1 10 1-15 1-4 1 3 1 13 1 29 1-16 1-19 1 23 1 10 1-48 1-26 1 24 1 10 1-1 1 13 1-17 1-9 1-18 1 26 1-29 1 40 1-70 1-32 1-24 1-22 1-38 1-16 1 18 1-6 1 3 1 69 1 62 1-5 1 46 1-3 1-5 1 64 1-28 1-19 1 14 1-18 1-8 1 22 1 1 1 1 1 16 1-26 1 16 1 34 1-58 1 21 1 48 1-43 1-7 1 12 1-12 1 8 1-51 1 36 1-16 1 59 1-45 1-8 1 35 1-4 1 27 1-18 1-17 1 4 1-5 1-1 1 1 1-21 1-14 1 43 1 3 1-32 1 30 1-1 1 22 1-14 1-32 1 1 1 27 1-9 1-28 1 66 1-30 1 6 1 27 1-56 1 22 1-12 1 28 1 15 1-25 1 2 1-1 1 12 1 13 1-36 1 25 1 1 1-8 1-26 1 75 1-44 1-8 1 2 1-20 1 17 1 28 1-12 1-11 1-2 1-26 1 44 1-21 1-25 1 78 1-26 1-12 1-1 1-6 1-2 1 28 1-16 1 6 1-44 1 4 1 45 1-23 1-19 1 66 1-24 1-35 1 10 1 4 1-44 1 58 1-3 1-3 1-10 1-30 1 44 1 23 1-43 1 30 1-25 1 5 1-5 1 21 1 20 1-21 1-26 1 7 1 5 1 24 1 16 1-54 1-9 1 46 1-58 1 23 1 0 1 3 1-25 1 9 1 20 1 1 1 23 1 3 1-35 1-23 1 54 1 1 1-1 1-3 1-20 1 53 1-30 1-7 1-22 1 20 1-33 1 62 1-40 1-5 1 33 1-3 1 15 1-15 1-48 1 39 1-18 1 14 1-1 1-23 1 36 1-22 1-17 1 17 1 55 1-64 1 21 1-8 1 18 1-9 1 25 1-5 1-19 1 27 1-36 1-32 1 66 1-3 1-40 1 49 1-58 1 3 1 27 1-12 1 16 1 4 1-27 1 3 1-7 1 47 1-36 1 26 1-8 1 28 1-50 1 7 1 37 1-20 1-33 1 1 1 25 1 8 1-37 1 36 1-24 1-24 1 60 1-27 1 12 1-29 1 9 1-15 1 24 1 4 1 3 1 30 1-48 1 7 1 18 1-44 1 22 1 38 1-49 1-13 1 32 1-25 1 30 1-23 1-29 1 25 1-49 1 3 1-45 1-3 1-61 1-28 1-33 1-91 1-38 1-14 1 14 1 63 1 66 1 62 1 27 1 21 1 29 1 66 1-17 1 33 1-6 1 12 1-30 1 62 1-19 1-36 1 38 1-24 1 7 1 21 1-15 1 8 1 9 1-11 1 13 1 3 1-5 1-37 1 42 1-28 1 20 1 40 1-43 1 40 1-38 1-59 1 73 1-15 1 22 1-11 1 3 1 16 1-41 1 34 1-6 1-10 1 1 1-18 1 4 1 22 1 12 1-6 1 1 1-22 1 34 1-7 1 1 1-20 1 13 1 4 1-31 1-29 1 62 1-9 1 32 1-43 1 38 1-30 1-20 1 11 1 32 1-16 1 2 1-8 1-13 1-1 1-22 1-3 1 13 1 0 1-2 1-15 1 26 1 6 1-43 1 19 1-9 1 13 1-17 1-7 1 28 1-14 1-39 1 20 1-37 1 12 1 18 1 2 1-51 1-26 1 2 1-69 1-45 1 17 1-74 1-25 1-118 1-122 1-126 1-176 1-214 1-226 1-148 1-153 1-131 1 82 1 151 1 224 1 216 1 211 1 164 1 136 1 121 1 91 1 62 1 32 1 31 1 21 1 29 1 47 1-11 1-20 1 84 1 22 1-11 1-9 1 16 1 10 1-3 1-19 1 18 1-21 1 20 1 1 1 29 1-4 1 9 1 8 1-13 1-11 1 29 1-52 1 46 1 22 1-5 1 7 1-1 1-21 1 6 1 21 1-45 1 22 1 27 1-53 1 30 1 8 1-8 1-3 1 8 1 6 1-12 1-24 1 24 1 4 1-3 1-35 1-10 1 7 1 10 1-14 1-14 1 1 1 22 1 11 1 12 1-28 1 26 1 5 1 17 1 7 1-28 1 5 1 14 1 11 1-26 1 4 1 21 1-20 1 11 1-24 1 9 1-2 1-7 1 23 1-17 1 7 1-11 1-17 1 21 1 17 1-21 1-9 1 0 1-27 1 44 1-48 1-11 1 4 1-13 1-20 1-16 1 10 1-66 1-9 1 21 1 12 1 5 1 4 1 45 1-17 1 44 1 13 1-16 1 6 1 32 1-5 1-5 1 16 1 24 1 2 1 34 1-45 1 35 1-39 1-7 1 27 1 8 1-11 1 10 1-22 1 25 1-18 1-16 1 10 1 1 1 20 1-6 1-34 1 49 1 2 1-15 1-20 1 40 1-24 1 35 1-24 1 11 1-5 1 12 1-19 1 30 1-41 1 12 1 17 1-20 1 30 1-58 1-2 1 10 1 17 1-9 1 52 1-37 1-19 1 37 1-8 1-28 1 15 1 8 1 1 1-20 1 16 1-22 1 21 1-56 1 3 1 37 1-27 1 12 1-11 1 33 1-19 1 32 1-46 1 18 1 21 1 4 1-7 1-5 1 13 1-3 1 1 1-3 1 17 1-5 1 4 1 14 1 4 1-6 1-18 1-1 1-18 1 37 1-13 1 19 1-7 1-12 1-4 1-8 1 26 1-32 1-8 1 25 1 28 1-31 1 4 1-8 1 4 1-12 1 15 1-22 1 26 1-14 1 27 1-74 1 72 1-34 1 3 1-1 1 31 1-19 1-25 1 10 1 45 1-14 1-11 1-9 1 10 1-10 1-26 1 29 1 3 1-4 1-15 1-6 1-7 1-2 1 20 1-19 1-12 1-25 1-4 1-4 1-8 1-4 1-35 1-11 1-38 1 10 1 35 1-34 1 11 1 6 1 16 1 22 1 26 1-5 1 18 1-25 1 51 1 9 1-44 1 37 1-1 1 13 1-4 1 53 1-39 1 5 1-10 1 15 1-12 1-6 1 34 1-52 1 37 1-21 1-1 1 3 1-16 1-11 1 6 1-6 1-5 1-17 1 2 1-13 1-50 1 4 1-70 1 1 1-8 1-46 1 23 1 61 1 16 1 13 1 44 1-2 1 24 1-15 1 11 1 37 1 24 1 3 1 19 1-24 1 3 1-3 1 18 1 2 1-11 1 45 1-35 1-8 1 15 1-14 1 19 1-3 1 17 1 2 1 2 1-10 1 3 1 5 1 4 1-17 1 28 1-10 1-1 1-16 1 24 1-3 1-7 1-1 1-4 1-23 1 29 1-8 1 32 1-46 1-28 1 48 1-26 1-4 1 18 1 14 1-22 1-9 1 18 1 8 1-16 1-8 1 12 1 16 1-40 1 4 1 13 1-30 1 15 1 15 1 2 1 9 1-33 1 0 1 19 1 7 1-18 1-1 1-24 1-36 1 32 1-34 1-27 1 10 1-10 1-4 1-19 1 8 1-4 1-9 1 3 1 32 1 8 1 19 1 4 1-14 1 18 1 13 1-21 1 1 1 57 1-9 1 10 1 25 1 0 1-17 1 7 1 9 1 3 1-4 1 1 1-18 1-4 1 16 1 3 1-20 1 10 1 14 1 4 1-5 1-8 1 33 1 7 1-29 1 25 1-23 1 15 1-18 1-5 1 4 1-4 1 27 1-39 1 14 1 36 1-4 1-2 1 6 1-8 1-16 1 28 1-33 1-2 1-10 1 24 1-4 1 14 1 7 1-11 1-4 1 0 1 28 1-37 1 3 1 9 1 16 1-44 1 16 1-22 1 53 1-28 1-14 1 42 1-31 1 14 1-29 1-19 1-5 1-4 1-4 1 14 1 21 1 1 1-10 1 28 1-12 1-3 1 0 1 6 1-7 1-4 1 17 1 30 1-10 1-6 1 2 1 25 1-48 1 35 1 5 1-39 1 21 1-4 1 0 1-6 1 26 1-15 1-5 1 32 1-27 1 15 1-24 1 8 1-11 1-6 1 12 1 20 1-25 1-19 1 21 1 6 1 17 1-22 1 15 1 4 1-16 1 15 1-9 1-4 1 10 1 5 1-8 1 27 1-30 1-6 1 4 1 3 1 14 1-5 1-2 1 17 1-4 1-15 1 14 1-11 1-7 1 8 1-15 1 1 1 22 1-8 1 15 1-35 1 14 1 17 1-19 1 11 1-20 1 5 1-15 1 8 1 19 1-10 1 17 1-17 1-12 1 0 1-4 1 19 1 13 1-2 1-15 1 11 1 3 1-33 1 25 1-16 1 29 1 10 1-37 1-11 1 46 1-35 1 26 1-6 1 2 1-16 1-2 1 25 1-15 1-24 1 33 1-12 1 2 1-3 1 13 1-10 1 4 1 1 1-6 1 10 1-9 1 12 1 0 1 5 1-25 1 13 1-9 1 17 1-34 1 16 1-18 1 27 1-9 1-8 1-2 1 13 1-7 1 25 1 2 1-20 1-2 1 0 1 17 1-10 1 5 1-17 1-7 1-20 1 24 1 3 1-5 1-14 1 41 1-23 1 4 1-18 1 3 1 11 1-13 1 9 1-21 1 5 1 28 1-4 1-12 1 3 1-24 1-6 1 2 1-17 1-17 1-14 1-3 1-27 1 0 1-22 1-44 1-29 1-11 1-2 1 13 1 25 1 12 1 24 1 12 1 30 1 17 1 5 1 14 1-21 1 42 1-19 1 28 1 15 1-8 1 22 1 12 1-21 1 7 1-1 1 10 1 7 1-5 1 5 1 9 1 0 1-18 1 20 1-23 1-11 1 13 1-5 1 7 1 13 1 5 1-30 1 29 1-13 1 11 1 2 1-16 1 9 1 14 1-16 1 4 1-4 1-13 1-8 1 12 1 15 1 2 1-14 1 24 1-18 1 17 1-2 1-19 1 2 1 4 1 9 1-27 1 10 1 20 1-33 1 45 1-32 1 1 1-4 1 31 1-13 1-13 1-6 1 27 1-20 1-2 1 22 1 9 1-34 1 11 1 16 1-2 1-15 1-6 1 12 1-16 1 27 1-14 1 0 1-18 1 19 1 1 1 1 1 3 1-4 1-20 1 19 1 1 1-4 1-9 1-4 1-4 1-9 1 30 1-24 1 9 1 6 1-26 1 21 1-5 1 4 1-9 1-13 1 27 1-8 1-3 1-1 1 24 1-25 1 7 1-6 1 4 1-8 1-33 1 36 1-26 1 12 1-35 1-3 1 11 1-1 1 0 1 15 1 21 1 5 1 14 1-18 1 16 1 5 1-16 1 4 1 5 1 0 1 16 1-24 1 13 1 5 1 13 1-14 1-11 1-20 1 28 1-13 1 4 1 21 1-22 1 5 1 12 1-1 1 1 1-11 1 29 1-30 1 17 1 5 1-6 1 20 1-44 1 15 1 28 1-13 1-14 1 25 1-31 1-5 1 18 1-34 1 13 1 21 1-18 1 22 1-21 1 12 1 9 1-16 1 16 1-27 1-9 1-10 1 15 1-17 1-14 1 4 1-28 1 20 1 13 1 21 1-24 1 25 1 15 1-7 1-3 1-12 1 26 1-4 1-7 1 22 1 21 1-34 1-12 1 14 1 8 1-2 1-5 1 5 1-15 1 24 1-19 1 3 1 7 1-1 1-5 1 6 1 2 1-17 1 35 1-13 1-1 1 9 1-10 1 5 1-22 1-7 1-5 1 6 1 5 1 7 1 0 1-6 1-3 1 27 1-11 1-13 1 5 1 9 1-8 1 0 1 10 1-10 1 10 1-12 1-20 1-1 1 12 1-19 1 33 1-20 1-9 1 1 1-19 1-9 1-13 1 21 1-16 1-9 1-1 1-13 1 13 1-15 1 0 1 20 1-29 1-13 1 20 1-11 1 12 1-16 1 10 1 5 1 5 1-17 1 31 1 2 1 2 1 29 1-23 1-2 1 14 1 6 1-24 1 15 1-11 1 23 1 12 1-8 1 17 1 8 1 1 1-11 1 14 1-6 1 39 1-63 1 19 1 15 1-5 1-1 1 3 1 5 1-6 1-15 1 4 1 27 1-5 1-4 1 13 1-28 1 8 1 11 1-6 1-8 1 22 1-16 1 0 1 1 1-3 1-19 1-4 1 3 1 23 1 5 1-13 1 12 1-8 1 10 1 1 1-19 1 0 1 21 1-11 1-4 1 21 1-26 1 9 1-6 1-24 1 38 1-36 1-5 1 16 1 5 1-8 1 26 1-26 1 4 1-9 1 0 1 11 1-20 1-3 1-1 1-6 1-20 1-15 1 8 1 15 1-29 1-12 1-21 1-5 1-36 1-7 1-35 1-35 1-6 1-57 1-31 1-49 1 10 1-19 1 14 1 8 1 24 1 2 1 46 1 47 1 24 1 38 1 10 1 30 1 9 1 29 1-7 1 48 1-4 1 6 1 2 1-16 1 15 1 24 1-3 1 4 1-11 1-1 1 14 1-19 1 26 1 8 1-17 1-15 1 7 1 7 1 11 1-1 1-4 1-1 1-2 1 11 1-14 1-46 1 23 1-26 1 33 1 0 1-20 1 9 1 2 1 30 1-12 1-5 1 25 1-8 1 22 1-32 1 21 1-10 1 14 1-3 1 15 1 7 1 1 1-17 1 27 1-13 1 0 1-17 1 19 1 4 1-5 1 3 1-30 1 21 1 7 1-4 1 3 1 22 1-24 1 0 1 4 1-7 1 10 1 17 1-25 1-9 1 4 1 25 1-26 1 25 1-28 1 43 1-3 1-13 1-3 1-8 1 11 1-8 1-7 1 29 1-21 1 19 1-9 1 20 1-19 1-11 1 3 1-3 1-2 1 7 1-9 1-1 1 11 1-8 1 10 1-9 1 10 1-21 1 23 1-15 1-16 1 20 1-11 1 19 1-13 1-3 1 16 1 15 1-31 1 4 1-5 1 34 1-14 1-3 1-2 1 12 1-25 1 22 1 2 1 7 1-18 1 13 1-15 1 10 1-19 1 25 1-1 1-15 1-3 1 33 1-45 1-5 1 26 1-18 1 45 1-20 1-14 1 3 1-4 1-13 1 8 1 11 1 6 1-1 1-10 1 6 1-20 1 1 1 11 1 2 1 9 1-24 1 0 1 19 1 2 1-11 1-2 1 10 1-1 1 2 1 6 1 4 1-27 1 5 1 24 1-6 1 5 1-3 1-22 1 16 1-13 1 9 1-17 1 15 1-18 1 6 1 2 1-14 1 8 1-7 1-8 1 0 1 5 1 5 1-28 1-2 1 3 1 4 1 4 1 13 1 5 1-17 1 12 1 11 1 23 1-5 1-21 1 9 1 17 1-20 1 12 1 2 1 2 1-30 1 19 1 9 1-11 1 7 1 0 1 4 1 12 1-12 1 25 1-39 1 40 1-19 1-19 1-5 1 34 1-34 1-1 1 37 1-14 1 4 1-6 1-13 1 11 1 10 1-4 1-14 1 18 1 9 1-13 1 22 1-16 1-12 1 20 1-25 1 41 1-24 1-1 1 0 1-3 1-5 1 15 1-35 1 18 1 14 1-37 1 18 1 5 1 33 1-31 1 4 1 8 1-4 1-5 1 9 1 10 1-30 1 34 1-9 1-22 1 9 1-2 1 5 1 4 1-17 1 22 1-7 1 0 1-8 1 9 1-4 1 17 1 2 1-23 1-4 1 9 1 13 1 1 1-5 1 2 1-1 1-23 1-6 1 20 1-1 1 1 1-1 1 7 1-8 1 7 1-14 1 20 1-40 1 54 1 0 1-29 1 9 1-17 1 44 1-41 1 33 1-43 1 15 1 14 1 7 1 4 1-24 1 17 1-10 1-10 1-27 1 38 1-9 1-5 1 21 1-20 1 28 1 16 1-18 1 1 1-19 1-8 1 18 1-7 1-4 1 14 1-24 1 11 1-7 1 20 1-15 1-7 1 30 1-22 1-9 1 34 1-20 1-17 1-10 1 29 1-7 1-13 1 33 1-10 1-2 1-7 1-9 1 10 1-7 1 13 1-8 1-18 1 22 1 6 1-34 1 25 1 27 1-11 1-26 1 5 1 3 1-4 1 10 1 18 1-34 1-1 1-1 1 21 1-12 1 26 1-36 1 1 1 12 1-11 1 7 1 24 1-13 1-26 1 18 1-7 1 29 1-9 1 7 1-1 1 1 1-34 1 31 1-24 1-1 1 15 1-16 1 3 1 22 1-21 1-2 1 3 1-2 1 4 1 23 1-36 1 14 1-7 1 23 1 8 1-47 1 10 1 33 1-19 1-8 1 16 1 2 1-9 1 15 1-43 1 36 1-31 1-9 1 31 1 9 1-5 1-1 1-3 1 1 1-3 1-12 1 14 1-10 1-7 1-10 1 9 1 1 1-16 1 11 1-1 1-23 1 19 1-51 1 2 1-5 1-10 1 7 1-19 1 6 1 9 1-7 1 23 1 7 1 0 1 1 1 5 1 20 1-8 1 8 1-5 1 34 1-15 1 20 1 5 1-4 1 0 1 2 1 19 1-9 1-14 1 8 1-3 1 18 1-19 1-5 1 3 1 6 1 4 1-1 1-9 1 24 1 13 1-38 1 28 1-15 1-4 1-7 1 13 1 11 1-52 1 44 1-5 1 11 1 17 1-19 1-2 1 2 1-1 1-3 1-9 1 7 1 0 1 5 1-6 1-13 1 26 1 2 1 14 1-56 1 39 1-1 1-7 1 7 1-24 1 14 1-7 1 5 1-1 1-12 1 13 1-8 1-15 1 5 1 18 1 3 1-11 1 6 1 10 1-1 1 5 1-12 1 8 1-19 1 19 1 4 1-1 1-5 1 6 1-9 1 15 1-22 1 15 1-26 1 20 1-23 1 31 1-11 1 4 1 34 1-40 1 9 1-24 1 22 1-11 1 7 1 4 1-12 1 1 1 7 1 14 1 3 1-23 1 28 1-8 1-3 1 14 1-18 1-1 1 0 1 10 1-21 1-5 1-12 1 26 1 2 1-3 1-12 1-11 1 37 1-11 1-1 1 12 1-28 1 19 1-8 1-22 1 31 1-8 1-12 1-3 1-9 1 13 1 16 1-14 1-10 1 13 1 7 1-10 1 21 1-2 1 2 1 3 1-33 1 10 1-25 1 39 1 5 1-11 1-19 1 27 1-4 1 9 1-5 1-19 1-18 1 15 1 3 1 7 1-3 1-15 1 13 1-6 1-5 1 21 1-24 1-13 1-19 1 40 1-36 1 26 1-8 1-8 1-34 1 22 1-29 1 26 1-16 1 13 1-15 1-21 1 23 1 28 1-19 1 7 1 5 1 15 1 11 1-10 1 11 1-4 1 10 1-2 1 4 1 5 1 12 1-22 1 29 1-22 1 17 1-21 1 5 1 11 1 13 1 1 1-8 1-13 1 17 1 1 1-3 1 4 1-8 1 9 1-6 1 13 1-8 1 7 1 14 1-16 1-37 1 20 1-2 1-3 1 34 1-15 1-17 1 13 1 19 1-25 1-19 1 47 1-32 1-12 1 18 1-11 1-1 1-12 1 35 1-8 1-10 1 17 1-6 1-4 1-24 1 4 1 26 1 10 1-28 1-1 1 24 1-23 1 4 1 12 1-6 1 22 1-2 1-14 1 3 1-18 1 13 1-16 1 19 1 7 1-17 1 2 1-17 1-5 1 23 1-20 1 11 1-7 1 20 1-13 1-12 1 33 1-15 1-17 1 3 1-5 1-5 1 54 1-35 1-11 1 20 1-23 1-3 1 24 1-32 1-2 1-2 1-6 1 22 1-27 1-5 1 7 1-12 1 25 1-37 1 16 1-2 1-15 1-15 1 13 1-1 1-12 1 33 1-44 1-2 1 13 1 18 1 6 1 0 1 17 1-21 1 25 1-3 1-9 1 23 1-7 1 15 1-6 1-16 1 13 1 9 1-16 1 12 1 23 1-13 1 7 1 8 1 13 1-5 1-7 1-14 1 17 1-7 1-1 1 7 1 10 1-16 1-12 1-2 1 25 1 0 1 4 1 1 1-4 1 0 1-9 1-19 1 32 1-21 1 9 1 7 1-13 1 6 1-17 1 26 1-24 1 37 1-16 1-17 1 11 1-10 1 15 1-8 1 6 1 9 1-15 1 25 1-18 1 12 1 2 1 1 1-2 1 3 1-7 1-33 1 24 1-12 1 24 1-21 1-2 1 17 1-19 1 16 1 6 1-16 1 2 1-5 1-2 1 18 1-5 1-9 1 27 1-13 1-25 1 16 1 7 1 2 1-4 1 16 1 13 1-41 1 11 1-12 1 0 1 14 1 2 1-9 1 15 1-19 1 25 1-15 1 21 1-26 1 10 1 15 1-26 1 42 1-39 1 19 1 6 1-17 1-4 1-23 1 1 1 29 1-5 1 15 1 8 1-45 1 35 1-4 1-27 1 19 1-16 1 30 1 5 1-10 1-5 1-5 1 11 1-14 1-22 1 19 1 12 1-8 1 3 1 8 1-14 1-16 1 46 1-16 1-21 1 4 1 4 1 17 1-17 1-8 1 2 1 13 1 4 1 0 1-49 1 14 1 26 1-5 1 13 1 11 1 5 1-16 1-30 1 22 1-18 1 8 1 33 1-8 1-21 1-9 1 26 1 4 1-25 1 27 1 0 1-18 1 14 1-9 1-3 1-3 1 5 1 27 1-21 1 0 1-7 1 3 1-15 1 2 1 11 1-14 1 25 1-27 1 14 1 5 1-17 1-3 1 1 1 32 1-34 1 36 1-13 1-11 1 7 1 6 1 17 1-23 1 18 1-20 1-6 1 8 1 3 1-24 1 19 1 2 1 4 1 0 1-6 1-21 1 36 1-6 1-6 1 8 1-15 1-20 1 22 1 5 1 8 1-2 1-14 1-1 1 15 1-15 1 10 1-22 1-1 1 4 1 25 1-11 1-22 1 22 1 1 1-5 1-4 1 19 1-15 1 16 1 9 1-33 1 0 1 10 1-4 1-1 1-6 1 29 1-16 1-8 1-8 1 12 1 3 1-4 1 17 1 1 1-23 1 13 1-12 1 19 1 2 1-12 1-2 1-5 1 2 1 10 1 14 1-13 1 9 1-36 1 12 1 13 1 0 1-17 1-4 1 14 1-4 1 32 1-15 1-28 1 19 1-10 1 29 1-27 1 16 1-23 1 11 1 12 1-8 1 8 1-2 1-19 1 13 1 6 1-2 1-1 1-11 1 13 1-3 1-19 1 24 1-6 1 10 1-21 1 10 1 3 1 3 1-10 1 9 1-22 1 16 1 17 1 3 1-21 1 9 1-2 1-9 1-8 1 22 1 4 1-23 1 5 1 0 1 1 1 6 1-16 1-9 1 12 1 8 1-3 1 19 1 8 1-24 1 5 1 9 1-4 1-9 1-7 1 18 1-5 1-7 1-22 1 14 1-16 1 4 1 11 1 14 1-14 1 19 1-15 1-5 1 35 1-26 1 6 1-11 1 2 1 3 1-3 1-9 1 9 1 33 1-30 1 5 1-20 1-13 1 20 1 9 1-1 1-11 1 9 1 10 1 20 1-30 1-12 1 30 1-12 1-8 1 4 1-6 1-9 1 13 1-14 1-6 1 16 1 7 1-16 1 26 1-33 1 10 1-10 1 21 1-22 1 7 1 4 1 19 1-13 1-32 1 4 1 7 1 6 1 8 1-35 1 12 1 21 1-6 1-3 1-8 1-7 1 14 1-8 1 3 1-19 1 5 1-9 1 35 1-1 1-10 1-14 1-1 1 8 1 28 1-14 1 26 1 1 1-21 1-4 1 18 1-9 1 1 1 0 1-3 1 8 1-11 1 27 1-12 1-5 1 18 1-28 1 22 1-14 1 22 1-27 1 17 1-20 1 10 1-7 1 3 1 14 1 26 1-37 1 10 1 1 1 2 1-5 1 4 1 0 1-30 1 16 1-3 1-1 1 5 1 2 1 26 1-12 1 6 1-11 1 17 1-4 1 3 1-14 1-1 1 3 1-3 1 9 1-7 1 6 1-7 1 5 1 5 1-13 1 3 1-1 1-5 1 2 1 10 1-21 1 11 1 14 1-2 1-19 1 3 1 5 1 0 1-7 1-9 1 1 1 28 1-7 1-17 1 11 1 7 1-10 1 5 1 4 1-15 1-8 1 38 1-37 1 23 1-12 1 1 1-14 1 21 1-10 1 0 1 32 1-26 1-2 1 2 1 9 1-4 1 38 1-46 1-7 1 9 1 2 1 19 1-28 1 24 1-21 1 5 1 9 1 13 1 5 1-36 1 5 1 2 1 8 1-12 1 6 1-20 1 23 1 5 1 17 1-16 1-16 1 6 1 16 1 4 1-6 1-26 1 33 1-17 1-2 1-13 1 13 1-3 1 12 1-26 1 13 1 18 1-3 1 18 1-39 1 17 1 0 1 2 1-14 1-3 1 18 1-17 1 23 1-8 1-11 1-5 1 30 1-23 1 25 1-6 1-3 1-29 1 9 1 8 1-18 1 19 1-3 1-10 1 28 1-18 1 33 1-33 1 6 1-15 1 16 1 1 1-12 1 7 1 6 1 6 1-5 1-5 1-1 1 0 1-5 1 22 1-29 1 20 1-3 1 13 1-17 1 11 1 13 1 3 1-16 1-6 1-2 1 7 1-19 1-1 1 16 1 9 1-24 1 28 1-21 1 8 1-13 1 6 1-1 1-9 1-9 1 8 1 6 1 20 1-25 1 6 1 13 1 10 1 12 1-15 1-31 1 9 1-4 1 17 1-10 1 30 1-38 1 6 1 7 1-14 1 19 1 0 1-6 1-33 1 28 1 2 1-15 1 22 1 6 1-15 1-8 1 15 1-19 1 0 1 30 1-15 1 7 1-17 1 23 1-16 1-1 1-4 1-9 1 21 1-2 1-7 1 2 1-13 1 25 1-25 1 17 1-5 1 10 1 13 1-33 1-8 1 17 1 2 1 16 1-20 1-2 1 34 1-10 1-17 1-7 1 0 1 10 1-18 1 25 1-2 1-26 1 29 1-17 1 20 1-6 1-4 1-7 1 20 1-44 1 14 1 17 1 14 1-20 1 18 1 1 1-13 1-18 1 21 1 15 1-15 1 4 1-13 1-5 1 29 1-32 1 21 1 23 1-14 1-23 1 8 1 10 1-6 1-1 1-16 1 31 1-9 1-24 1 17 1-6 1 0 1 11 1-22 1 7 1-8 1 14 1 12 1-12 1-9 1 3 1 13 1 5 1-11 1 5 1 0 1 23 1-41 1 7 1 9 1-5 1 5 1 2 1-8 1 5 1 10 1-9 1 9 1-10 1 22 1 13 1-10 1-33 1 13 1 3 1-14 1-9 1 16 1-12 1 20 1-11 1 5 1 18 1 10 1-1 1-49 1 45 1-15 1 3 1-28 1 16 1-4 1 37 1-33 1 6 1-6 1 27 1-26 1-13 1 13 1-6 1 11 1 10 1-25 1 10 1 10 1-14 1-1 1 21 1-15 1-15 1 9 1 12 1-30 1 9 1-6 1 6 1 9 1-14 1 29 1-7 1-8 1 34 1-23 1-15 1 19 1 3 1-6 1-12 1 23 1-14 1 6 1-12 1 2 1 18 1-12 1-4 1 1 1 4 1-4 1-23 1 24 1-13 1 13 1 5 1 2 1 19 1-23 1 2 1-30 1 21 1-11 1 17 1-12 1 22 1-15 1-6 1 12 1 2 1-3 1-2 1 5 1 3 1 5 1-25 1 3 1 21 1-14 1-1 1 21 1-13 1-7 1-2 1 15 1-4 1 6 1-7 1-19 1 16 1-15 1 20 1-18 1 3 1-3 1 17 1 3 1 8 1-12 1-8 1-13 1 6 1 3 1 7 1-13 1-4 1 23 1-10 1 4 1-9 1 2 1 26 1-12 1-22 1 5 1 1 1 11 1 14 1-14 1 10 1-14 1 28 1-33 1 15 1 0 1-16 1-12 1 6 1 19 1-16 1 29 1-5 1-27 1 30 1 1 1-26 1 34 1-16 1-30 1 44 1-47 1 23 1-14 1 12 1 1 1 39 1-34 1-9 1-5 1 21 1-13 1 6 1-8 1 25 1-35 1 2 1-11 1 23 1-5 1-3 1-13 1 25 1-15 1 6 1-10 1 15 1 6 1 14 1-37 1 17 1 5 1 3 1-7 1 6 1-1 1 2 1 17 1-1 1-11 1-18 1 11 1-8 1 2 1-9 1 5 1 21 1-43 1 32 1-1 1-9 1 18 1-19 1-6 1 13 1 0 1 22 1-28 1 14 1-6 1-10 1 19 1-3 1-2 1-21 1-1 1 36 1-2 1-24 1 41 1-18 1-29 1 12 1 12 1-17 1-4 1 12 1-2 1-4 1-2 1 14 1 4 1 8 1-19 1-14 1 4 1 9 1-17 1 21 1-4 1-7 1 34 1-30 1 5 1-3 1 7 1-2 1 14 1-13 1 10 1-44 1 39 1-25 1-3 1 20 1 5 1-20 1 22 1 17 1-40 1 4 1 3 1-12 1 28 1 13 1-27 1 23 1-30 1 24 1-17 1 0 1-12 1 26 1-22 1 19 1 3 1-4 1 16 1-27 1 7 1-23 1 41 1-18 1 14 1-15 1 3 1 4 1-10 1-28 1 27 1-16 1 27 1 12 1-19 1-21 1 9 1 10 1 13 1-3 1-26 1 5 1 20 1 4 1-10 1-11 1 6 1-3 1-10 1 16 1-3 1-2 1-12 1 21 1-23 1 24 1-13 1-1 1 6 1-4 1 0 1 3 1-7 1 17 1 8 1-21 1 3 1 0 1 0 1 5 1-26 1-4 1 19 1 1 1-5 1-1 1 20 1 16 1-17 1 5"/>
<path transform="translate(164.00 0) scale(0.52560 0.1)" vector-effect="non-scaling-stroke" fill="none" stroke="#000000" stroke-width="2.3" stroke-linejoin="round" d="M0 7584l1 0 1-30 1 40 1-23 1 17 1-5 1 4 1 35 1-20 1-31 1 43 1-27 1 4 1 52 1-10 1-38 1 42 1 3 1-15 1 18 1-13 1 7 1-47 1 43 1 6 1-7 1 7 1-45 1 22 1-23 1 22 1-9 1-11 1 11 1-7 1 54 1-61 1 11 1 7 1-31 1 29 1-7 1-32 1 46 1 21 1-15 1 31 1-53 1-20 1 31 1 21 1-31 1-11 1 20 1-29 1 43 1 24 1-42 1 72 1-21 1-60 1 38 1 12 1 12 1-42 1 14 1-45 1 55 1 15 1-84 1 51 1 4 1 14 1-23 1 33 1 4 1-24 1 7 1 1 1-5 1-34 1 32 1-2 1 10 1 2 1 27 1-36 1 9 1-32 1 25 1-2 1 56 1-105 1 85 1-31 1-33 1 6 1 18 1-7 1 64 1-39 1 20 1-52 1 57 1-42 1 15 1 23 1-10 1-11 1 10 1 6 1-35 1 37 1-47 1 22 1-42 1 38 1 32 1-98 1 71 1 25 1-38 1 11 1 9 1 26 1-2 1-54 1 8 1 21 1 21 1-66 1 50 1-2 1-15 1-22 1-7 1 61 1-15 1 20 1-31 1-5 1 15 1-20 1 9 1 21 1-16 1-21 1-3 1 20 1 7 1 55 1-70 1 58 1-29 1 5 1-35 1 6 1-7 1 51 1-51 1 22 1-24 1 45 1 10 1-37 1-10 1 42 1-32 1-18 1 20 1-4 1-14 1 2 1 9 1-21 1-3 1-30 1 18 1 14 1 6 1-15 1 20 1 2 1 58 1-44 1 55 1-47 1 18 1-34 1 59 1-34 1-24 1 8 1 17 1-15 1 25 1-35 1 90 1-96 1-14 1 13 1 20 1 14 1 14 1-31 1 30 1-10 1-16 1 25 1 20 1-37 1 36 1-29 1 18 1-61 1 41 1-44 1 29 1 8 1 32 1-6 1-6 1 23 1-25 1-61 1 92 1-25 1 23 1-56 1-21 1 17 1 38 1-44 1-20 1 27 1 48 1-40 1 24 1 5 1-41 1 41 1-33 1 75 1-46 1-24 1 14 1-27 1 49 1-17 1-37 1 110 1-84 1 18 1 1 1-32 1 20 1 6 1-19 1 36 1-17 1-14 1-6 1-7 1 1 1 27 1 28 1-18 1-5 1-30 1 19 1-7 1 11 1-56 1 86 1-63 1 13 1 8 1-3 1 17 1 14 1-32 1 13 1 50 1-83 1 49 1-29 1 27 1 9 1-88 1 102 1-72 1 34 1 33 1-57 1 32 1-52 1-18 1 53 1-32 1-62 1 46 1-48 1 39 1-12 1 13 1-12 1 47 1 23 1 0 1 26 1-5 1-11 1 9 1-38 1 86 1-8 1 13 1-24 1-55 1 53 1-36 1 7 1 12 1-12 1-10 1 23 1 1 1-2 1 34 1 19 1-28 1-5 1-22 1 12 1 6 1-51 1 4 1 83 1-17 1-43 1 0 1 31 1-16 1 45 1-24 1-37 1 28 1-49 1-3 1 50 1-12 1-1 1 39 1-15 1 10 1-11 1-48 1 70 1-34 1-15 1 63 1-69 1 8 1 36 1-26 1 31 1 2 1-10 1-32 1 21 1-62 1 20 1-7 1 5 1 11 1 36 1-14 1-9 1 2 1 7 1 33 1-35 1-14 1 71 1-53 1-2 1 26 1-19 1 36 1-49 1-45 1 84 1-46 1 39 1 39 1-66 1 30 1-15 1 18 1 16 1-29 1 1 1 46 1-76 1 23 1-11 1 75 1-26 1-35 1 67 1-44 1 17 1 18 1-25 1-28 1 20 1-48 1 57 1 6 1-29 1-22 1 24 1 4 1 36 1-50 1 18 1 19 1-21 1 4 1-12 1 26 1-36 1 9 1 1 1 51 1-49 1 33 1-33 1 43 1-30 1 20 1-15 1 30 1 30 1-3 1-37 1-4 1-2 1-15 1-36 1 37 1-7 1-15 1-4 1 29 1-9 1 0 1-14 1 18 1 24 1-18 1-38 1 54 1-36 1-10 1 38 1 21 1 4 1-58 1 14 1 3 1-23 1 39 1-8 1 22 1-54 1 93 1-24 1-33 1 11 1 44 1-50 1 7 1 20 1 8 1-43 1 39 1-21 1 19 1-58 1-15 1 31 1 24 1 1 1 10 1 2 1-37 1 42 1-9 1-12 1 42 1 12 1-33 1-1 1 21 1-3 1-31 1 22 1-12 1-23 1 0 1 14 1-6 1 35 1-33 1 74 1-76 1 28 1 21 1-17 1 17 1-35 1-10 1 19 1 20 1 13 1-63 1 25 1-4 1-31 1 9 1 31 1-49 1 47 1-40 1 25 1 20 1-12 1-12 1-26 1 14 1-74 1 27 1-28 1 27 1-7 1 30 1-30 1 63 1-45 1 34 1 26 1 18 1-23 1 53 1-42 1 25 1-2 1 7 1 48 1-31 1 5 1-63 1 12 1 57 1-18 1-2 1-16 1-23 1 44 1-30 1 25 1-7 1 24 1 0 1 14 1-22 1-2 1-9 1 44 1-18 1-18 1 25 1 8 1-2 1-23 1-5 1-2 1 24 1-25 1-27 1 17 1-5 1 28 1-8 1 14 1 33 1-42 1-29 1 58 1-1 1 7 1 12 1 27 1-45 1 55 1-4 1-64 1-2 1-5 1 12 1 43 1-69 1-7 1 18 1-9 1 16 1-17 1 27 1 4 1 26 1-61 1 0 1-10 1 18 1-21 1 65 1-94 1 61 1 4 1-9 1-13 1 9 1 14 1-53 1 21 1-16 1 64 1-70 1 5 1-1 1-30 1-14 1 45 1 47 1-33 1 18 1-8 1-3 1 26 1 25 1-25 1 13 1-2 1-47 1 35 1 44 1-64 1 57 1-90 1 96 1-43 1 45 1-11 1-7 1-4 1 22 1-28 1 17 1-33 1 16 1 37 1-22 1-27 1 35 1-49 1 13 1-21 1 45 1-18 1-1 1 9 1-5 1 69 1-71 1 15 1-24 1 15 1-37 1-19 1-7 1-2 1-75 1-8 1-79 1-16 1-33 1-15 1 52 1 32 1 73 1-18 1 42 1 29 1-5 1 59 1 9 1 10 1-45 1 22 1 27 1 1 1-46 1-13 1 19 1-12 1 10 1 12 1 2 1 0 1-35 1 0 1 49 1-38 1-4 1-18 1-2 1-16 1 26 1 7 1-13 1 36 1 30 1-21 1 18 1 6 1-26 1 35 1-1 1 7 1 4 1-29 1 4 1 19 1 16 1-37 1 56 1-45 1 33 1-14 1-27 1 29 1 49 1-56 1-21 1-16 1 56 1-65 1 33 1 6 1-10 1 23 1-3 1-41 1 29 1 17 1-30 1 58 1-42 1 17 1-39 1 45 1-41 1 2 1 13 1 19 1-27 1-26 1 30 1 19 1-14 1-24 1 73 1-11 1-25 1 20 1-46 1 37 1-16 1-25 1 6 1 11 1 8 1-37 1 50 1-36 1 21 1 39 1-18 1-24 1 13 1 30 1 3 1-32 1 29 1-26 1 27 1-36 1 4 1 13 1-30 1 46 1-12 1 12 1-14 1-23 1 29 1 19 1-17 1 17 1-20 1-23 1 36 1-32 1-2 1 12 1-23 1 32 1-24 1 23 1-27 1-24 1 64 1-30 1 23 1 1 1 20 1-24 1-40 1 49 1 14 1-50 1 9 1 31 1-6 1 4 1-12 1-24 1 11 1 32 1-3 1 2 1-28 1 4 1 32 1-77 1 10 1 22 1 15 1-18 1 37 1-58 1 41 1 25 1-36 1 21 1 20 1-37 1 49 1-52 1 29 1 16 1 12 1-39 1-13 1-2 1 2 1 13 1-2 1-17 1 20 1 4 1-10 1 10 1-15 1 39 1-51 1 38 1-29 1 9 1-23 1-2 1 36 1-14 1-16 1 0 1 27 1-31 1 29 1-3 1-3 1 1 1 13 1-22 1-33 1 55 1-35 1 37 1-32 1-1 1 30 1-26 1 19 1-44 1 86 1-73 1 23 1-30 1 43 1-34 1 28 1 3 1-12 1 0 1-20 1 8 1 3 1 0 1-3 1 10 1-6 1 0 1 13 1-33 1-53 1 32 1-23 1 11 1 2 1-44 1-45 1-5 1-35 1-61 1-60 1-22 1-81 1 48 1-57 1 128 1 57 1 6 1 74 1 66 1-5 1 41 1 10 1 10 1-16 1 5 1 17 1 18 1 0 1 7 1-9 1 29 1-19 1-32 1 4 1 3 1 50 1-39 1 45 1-32 1-8 1 25 1-17 1-3 1-18 1 51 1-11 1-37 1 27 1 15 1-25 1 13 1 4 1-7 1 0 1 2 1 26 1-22 1-10 1-3 1 9 1-2 1 15 1-33 1-8 1-6 1 31 1-2 1-26 1 48 1-24 1-21 1 28 1-35 1 59 1-24 1-34 1 28 1 16 1-34 1 20 1 1 1 5 1-7 1-4 1 20 1-6 1-19 1 29 1-53 1-7 1 8 1-24 1 58 1-21 1-13 1 26 1-72 1 9 1 25 1-22 1-23 1 23 1-26 1-12 1 37 1-29 1-39 1 24 1 1 1-14 1-38 1-25 1-26 1-50 1-60 1-89 1-99 1-118 1-122 1-185 1-171 1-262 1-244 1-208 1-80 1 114 1 137 1 248 1 225 1 225 1 192 1 159 1 134 1 118 1 2 1 50 1 63 1 32 1 6 1 58 1 27 1 16 1 34 1-38 1 22 1 11 1 27 1 17 1-5 1 1 1-32 1 31 1 5 1-34 1 44 1-4 1 4 1-22 1 29 1 15 1-39 1 12 1-2 1 10 1 8 1-14 1 19 1-14 1 3 1 25 1-12 1 11 1-34 1 13 1 3 1-15 1 19 1-10 1-10 1 46 1-41 1 23 1-11 1 34 1-21 1 19 1-24 1-29 1-6 1 3 1-10 1 11 1 29 1-10 1 22 1-18 1 21 1 35 1-26 1-23 1 30 1-27 1-12 1 5 1 11 1 24 1 2 1-12 1-4 1-29 1 3 1 36 1-51 1 33 1-17 1 30 1-7 1-26 1 11 1 36 1-50 1 3 1-4 1-26 1 19 1 3 1 11 1 1 1 15 1-30 1-39 1-8 1 14 1-8 1-19 1 14 1 36 1-69 1 13 1 12 1 4 1-23 1 62 1-19 1-2 1 29 1-5 1 3 1 8 1 13 1-16 1 19 1-19 1 34 1-18 1 21 1 14 1-26 1-4 1-1 1-3 1 50 1-56 1 28 1 23 1-28 1-12 1 15 1 17 1-29 1 25 1 7 1 14 1 12 1-60 1 20 1-6 1-10 1-2 1 40 1 2 1-32 1-12 1 45 1-44 1-1 1 63 1-36 1-7 1 15 1-19 1 24 1-7 1-5 1 5 1-18 1 32 1 7 1-8 1 0 1 6 1-33 1 48 1-36 1 18 1-1 1-12 1 5 1 22 1-37 1 4 1 21 1-13 1-16 1-9 1 30 1-7 1-5 1 4 1-22 1 17 1 28 1-32 1-22 1 27 1 5 1 7 1 13 1-29 1 40 1-11 1-23 1-8 1 12 1 24 1-39 1 27 1-1 1 12 1-9 1-34 1-16 1 31 1 14 1-26 1 22 1 0 1-9 1-20 1 36 1-13 1-1 1 17 1-12 1-8 1-1 1 4 1-24 1 18 1 9 1-4 1-10 1 18 1-7 1-6 1-17 1 23 1-15 1 8 1 11 1-25 1-6 1 17 1-20 1-20 1 14 1-27 1 17 1 9 1-22 1-54 1 30 1-23 1 6 1-21 1-16 1-33 1-56 1 10 1-23 1 31 1 26 1-1 1 15 1-7 1 35 1 42 1 10 1 25 1-9 1 41 1-43 1 54 1-29 1 3 1 4 1 5 1 15 1-21 1 19 1 1 1 8 1-16 1 2 1 9 1 1 1-66 1 86 1-35 1-16 1 5 1-4 1-6 1-23 1-17 1 19 1-44 1-22 1-1 1 0 1-10 1-14 1-16 1-34 1 39 1 16 1-35 1 2 1 15 1 26 1 21 1 15 1 11 1 36 1 10 1-23 1 0 1 31 1-3 1 9 1 7 1 0 1 15 1 12 1-40 1 31 1-6 1 1 1 20 1 21 1-32 1-13 1 13 1 7 1 9 1 11 1 10 1-12 1 9 1-22 1-2 1 23 1-34 1 35 1-19 1 4 1-14 1 8 1 13 1-35 1 18 1-9 1 31 1-8 1-8 1 24 1-18 1 13 1-40 1 34 1-5 1-43 1 37 1 6 1-30 1 45 1 2 1-23 1-20 1-6 1-20 1 65 1-29 1-25 1 11 1-14 1 8 1-4 1-26 1 21 1-32 1 35 1-26 1-25 1 9 1 5 1-19 1-38 1 12 1-26 1 47 1-6 1 19 1 17 1 6 1 12 1-8 1-4 1 30 1-13 1 15 1-3 1 33 1 10 1-12 1 3 1 2 1 4 1-12 1 25 1-21 1 9 1-13 1 31 1-22 1 1 1 8 1 2 1 8 1-3 1 6 1-12 1 9 1-12 1 4 1-29 1 12 1 13 1 5 1 19 1-29 1 52 1-48 1 15 1 9 1-28 1 22 1-4 1 2 1-13 1 21 1-6 1-3 1 8 1-4 1 1 1 16 1-40 1 43 1-23 1-10 1 15 1-23 1 39 1-23 1 9 1 6 1 9 1-31 1 12 1 32 1-30 1 8 1-1 1 1 1-24 1 15 1 24 1-25 1-22 1 5 1 20 1-9 1 25 1-3 1-14 1 15 1-4 1-19 1 10 1 3 1 20 1 5 1-29 1 11 1-4 1-16 1 21 1-6 1 2 1-3 1 13 1-7 1 13 1-5 1-19 1 9 1-12 1-8 1 23 1 0 1-3 1-12 1 16 1-11 1 3 1-3 1 7 1-3 1 27 1-23 1 7 1-3 1 5 1-7 1-17 1 24 1-4 1-10 1-17 1 38 1 5 1 0 1-12 1-3 1-2 1-15 1 23 1 7 1 6 1 7 1-36 1 2 1 4 1 16 1-12 1-1 1 20 1 14 1-3 1-22 1-3 1-2 1 17 1 18 1-19 1-22 1 13 1-1 1-14 1-3 1 3 1 5 1 2 1-12 1 10 1-2 1 0 1 7 1 11 1-3 1-22 1-10 1 27 1-10 1 13 1-10 1 9 1-23 1-4 1 20 1 18 1-38 1 19 1 9 1 18 1-43 1 2 1 3 1-4 1 4 1 15 1-32 1 29 1-22 1 14 1-6 1-13 1 0 1 19 1-2 1-11 1 28 1-37 1 34 1 8 1-6 1-6 1-5 1-12 1 5 1 4 1-10 1 3 1 15 1-19 1 30 1-19 1 11 1 8 1 1 1 3 1-32 1 18 1 10 1-8 1 6 1-6 1-3 1-5 1-4 1 3 1 15 1-38 1 25 1-16 1 7 1 11 1 4 1-23 1 6 1 7 1 1 1-26 1 40 1-20 1-6 1-19 1 19 1-32 1-11 1 38 1-20 1-4 1 1 1-24 1-36 1 4 1-39 1-9 1-44 1-5 1-33 1-31 1-7 1 6 1 7 1 40 1 10 1 38 1 38 1 22 1-7 1 20 1 9 1 31 1 16 1-15 1 15 1 20 1-6 1-12 1-18 1 31 1-4 1 16 1 12 1-13 1 13 1-7 1-19 1 21 1 1 1 3 1-11 1 1 1 25 1-15 1-3 1 31 1-32 1-7 1 3 1 10 1-19 1 29 1-5 1-25 1 30 1 0 1-15 1-40 1 43 1-6 1 7 1-7 1 21 1-12 1-12 1 12 1 18 1-23 1 15 1-19 1 9 1-6 1-18 1 37 1-16 1 24 1-32 1-18 1 23 1 16 1-2 1-6 1-6 1-1 1 1 1 8 1-24 1 21 1 2 1-8 1-3 1 15 1-7 1 11 1-5 1-6 1 2 1-7 1 10 1-13 1 8 1-4 1-12 1 25 1-17 1 7 1-15 1 18 1-17 1 35 1-35 1 9 1 10 1-25 1 31 1-3 1-25 1 6 1-12 1 11 1 21 1-11 1-33 1 14 1-1 1 1 1 0 1-28 1 25 1-17 1-9 1-10 1 32 1 2 1-22 1 25 1-9 1 19 1 10 1-29 1 8 1 27 1-4 1-10 1 21 1 12 1-28 1 5 1-11 1-11 1 21 1-7 1-6 1 31 1-10 1-3 1 1 1 0 1 20 1-5 1-10 1-22 1 16 1-8 1 19 1-10 1-1 1-7 1 3 1 15 1 10 1-22 1 11 1-7 1 16 1-7 1-11 1-4 1 16 1-8 1-1 1-9 1 29 1-30 1-12 1 32 1-12 1-7 1 15 1-10 1-2 1-7 1-3 1-14 1 5 1-12 1 24 1-34 1 6 1 10 1 7 1-23 1 5 1 9 1 25 1-17 1 22 1-20 1-3 1 16 1-5 1 14 1-13 1 14 1-13 1-3 1 3 1 12 1-9 1 5 1-7 1 20 1-23 1 50 1-34 1-3 1 21 1-24 1 6 1-19 1 21 1-11 1 0 1 27 1-28 1 13 1-14 1 2 1-15 1 12 1-24 1 23 1-16 1-6 1 2 1-11 1 12 1 15 1 7 1-4 1-8 1 10 1-2 1-14 1-10 1 11 1 20 1-10 1-5 1-7 1-6 1 22 1-2 1-12 1 3 1 14 1-19 1-3 1-3 1 1 1-1 1-24 1 27 1-13 1 18 1-48 1 19 1-33 1 21 1-9 1 5 1-14 1-31 1 5 1 3 1 19 1-22 1-3 1 14 1 22 1-14 1 4 1-14 1 32 1 8 1-14 1 28 1 7 1 16 1-27 1-2 1-9 1 23 1 19 1-2 1 2 1-8 1 0 1 5 1-10 1 19 1-15 1-8 1-5 1 29 1-2 1 0 1 19 1 3 1-7 1-6 1 22 1-14 1-7 1 7 1-4 1-26 1 12 1 6 1 15 1 19 1-38 1 22 1-31 1 22 1-13 1 16 1-16 1 31 1-23 1 37 1-15 1-9 1-15 1 2 1-12 1 17 1-9 1-7 1-5 1 16 1-1 1 13 1-4 1-18 1 4 1 7 1-8 1 14 1-12 1 33 1-47 1 5 1-1 1-4 1 6 1 6 1 1 1-16 1 9 1-14 1 5 1-6 1-11 1-20 1-7 1 27 1-58 1 28 1-37 1-14 1-14 1-12 1-25 1-28 1-38 1-33 1-31 1-7 1-13 1-19 1 9 1 14 1 14 1 50 1 15 1 42 1 4 1 15 1 43 1 16 1 3 1 26 1 30 1-4 1 12 1-9 1 27 1-12 1-9 1 26 1 4 1 16 1-29 1-6 1-18 1 14 1 23 1 3 1 12 1 6 1-21 1-1 1 14 1-23 1 5 1-9 1 2 1 3 1-25 1 18 1 13 1 2 1-16 1 12 1 10 1-14 1-32 1 31 1 9 1 2 1-11 1 11 1-33 1 26 1 13 1-15 1 6 1 0 1-5 1 3 1-8 1 14 1 4 1 11 1 4 1-23 1 3 1-5 1 19 1-4 1-13 1 6 1 17 1-1 1-2 1 2 1 15 1-18 1 16 1-5 1 2 1-14 1 3 1 15 1 4 1-5 1-8 1 9 1-7 1 14 1 2 1 16 1-26 1-6 1 5 1 10 1-3 1 9 1 5 1-27 1-1 1 12 1 17 1-25 1 17 1 1 1-3 1 7 1-19 1 12 1-9 1 10 1 13 1-22 1 17 1-7 1-4 1 1 1 3 1-2 1 8 1-11 1 13 1 4 1-22 1 9 1-23 1 16 1 2 1 25 1-15 1-18 1 16 1-7 1 10 1 18 1-19 1 22 1-35 1 11 1 1 1 8 1-14 1 22 1-11 1 0 1-18 1 20 1 0 1 8 1-16 1-15 1 18 1 8 1-3 1-29 1 19 1-25 1 34 1-4 1-33 1 27 1 19 1 3 1-26 1 19 1 2 1 6 1-11 1 21 1-38 1-1 1 10 1 7 1 8 1-1 1 2 1-23 1 11 1 14 1-30 1 27 1-15 1-5 1-5 1 12 1-7 1 5 1-3 1-15 1 17 1-12 1 5 1 9 1-16 1 2 1 8 1-4 1 17 1-28 1 21 1-1 1-31 1-4 1 27 1 24 1-31 1 28 1-33 1 19 1 4 1-7 1 8 1-11 1 6 1 0 1-15 1 33 1-3 1 8 1-31 1 23 1-22 1 6 1 1 1 29 1-13 1-13 1 7 1-6 1 3 1 7 1-20 1-2 1 3 1 5 1 20 1-5 1-37 1 26 1-21 1 6 1 14 1 10 1-9 1 6 1-21 1 39 1-35 1-3 1 24 1 21 1-27 1-1 1 3 1 6 1-40 1 42 1-27 1-1 1-8 1 26 1-7 1 6 1-16 1 36 1-24 1-9 1 2 1 16 1 6 1-16 1 22 1-16 1-3 1 1 1-9 1 18 1-45 1 17 1-3 1 2 1 45 1-29 1 8 1-16 1-4 1 11 1-20 1 8 1-13 1 24 1-4 1 5 1-11 1-11 1 5 1 14 1 2 1 16 1-32 1 21 1 8 1-13 1 3 1 6 1-10 1-9 1 10 1 6 1-13 1 0 1 4 1 24 1-18 1 11 1-20 1 5 1-4 1 12 1-13 1 11 1 18 1-2 1-7 1 2 1-16 1 5 1 3 1-2 1-7 1 1 1 19 1-1 1 1 1 14 1-29 1 0 1 10 1-5 1 14 1 11 1-41 1 32 1 6 1-14 1 16 1-18 1 1 1 7 1 1 1-17 1 3 1 1 1-6 1 4 1 0 1-4 1-1 1 12 1-13 1 12 1-1 1-5 1 12 1-10 1 9 1 1 1-33 1 0 1-5 1 41 1-20 1 12 1-16 1 2 1 9 1-6 1 1 1 20 1-20 1 28 1-19 1-10 1-1 1 15 1-7 1-10 1 19 1-20 1 10 1 8 1-13 1 20 1-9 1-5 1 11 1-6 1-15 1 9 1-15 1 20 1-15 1 3 1 0 1 0 1 25 1 8 1-45 1 19 1-16 1-2 1 0 1 24 1-18 1 22 1-1 1 7 1 9 1-24 1-3 1-29 1 15 1 29 1-18 1 23 1-40 1 24 1 3 1 6 1-8 1-25 1 16 1-5 1 29 1-20 1-1 1-14 1 5 1 1 1 37 1-32 1-17 1 24 1-11 1-1 1 11 1-29 1 30 1-21 1-1 1 8 1 7 1-15 1-12 1-24 1 4 1-11 1-8 1-4 1 4 1-4 1-3 1 12 1-18 1 0 1 7 1-17 1 24 1 1 1 2 1 5 1 3 1 27 1-7 1-8 1 27 1-20 1 40 1 4 1-27 1 8 1 2 1 1 1 10 1 9 1 2 1-21 1 3 1-2 1-15 1 8 1 25 1-22 1-5 1 18 1 14 1 12 1-38 1 16 1-11 1-2 1 13 1-8 1-7 1 17 1-4 1 8 1-8 1 2 1-6 1 4 1-12 1 17 1-18 1-2 1 14 1 24 1-36 1 14 1 2 1-8 1 12 1 0 1-9 1 27 1-34 1 10 1 18 1-2 1-21 1 28 1 15 1-41 1 13 1-1 1-24 1 6 1 22 1-5 1-9 1 8 1 1 1 8 1 7 1-24 1 12 1-36 1 37 1-17 1 7 1-10 1 34 1-19 1 9 1 4 1-31 1 21 1-5 1-2 1 13 1-7 1-2 1 7 1-8 1-1 1-3 1 2 1 19 1-36 1 24 1 2 1 1 1-11 1-3 1-1 1-11 1 32 1-5 1-28 1 25 1-16 1-4 1 20 1-12 1 19 1-19 1 36 1-29 1-16 1 40 1-23 1-4 1 5 1-5 1 3 1 3 1 4 1-7 1 4 1-22 1 18 1 21 1-29 1-15 1 28 1 0 1-9 1 3 1 13 1-4 1-14 1 5 1-5 1 28 1-18 1-20 1 35 1-14 1-31 1 24 1 0 1-14 1 8 1 10 1-9 1 4 1 17 1-17 1-17 1 3 1 26 1 0 1-25 1-1 1 26 1-14 1-15 1-6 1 5 1 1 1-2 1-26 1-2 1 4 1-5 1-16 1 1 1-11 1 15 1-13 1-13 1 29 1-6 1-25 1 50 1-7 1 14 1-7 1 22 1-36 1 16 1 23 1 2 1 3 1-4 1 14 1 0 1-14 1 14 1-9 1 17 1-15 1 2 1-17 1 11 1 7 1 20 1-12 1-28 1 30 1 4 1 8 1-15 1-4 1-12 1 39 1-25 1 3 1-14 1 15 1-17 1 5 1 11 1-13 1 4 1 10 1-7 1 0 1 14 1-7 1-14 1 15 1-1 1 23 1-35 1 10 1-31 1 18 1 1 1-8 1 20 1 8 1-4 1 5 1-1 1-11 1-8 1 21 1-11 1 29 1-23 1-16 1 34 1-17 1-3 1-1 1 4 1-10 1 6 1-5 1-8 1 28 1-26 1 20 1-20 1 21 1-21 1 2 1 14 1-14 1 7 1 2 1-15 1-14 1-6 1 6 1 22 1-15 1-19 1 12 1-8 1 15 1-18 1 32 1-46 1 14 1-24 1 3 1-6 1 12 1-9 1-4 1-19 1-13 1 19 1 6 1-5 1-16 1 2 1-16 1 13 1 4 1 20 1-12 1 22 1-17 1 12 1 1 1-6 1 12 1 24 1 4 1-7 1 2 1-3 1 1 1-6 1 25 1 6 1-20 1 5 1 10 1-12 1 20 1-7 1 1 1 16 1-14 1 0 1 7 1 2 1-14 1 32 1-7 1-6 1-20 1 6 1-7 1 18 1-21 1 27 1-18 1 24 1-8 1-6 1 18 1-14 1-2 1-3 1 3 1 9 1 11 1-21 1 22 1-16 1 0 1 18 1 1 1-6 1 3 1-8 1-9 1-4 1 21 1-8 1 1 1 6 1 10 1 1 1-32 1-1 1-9 1 36 1-25 1 14 1 29 1-37 1-3 1 6 1-1 1 10 1-2 1-26 1-12 1 52 1-1 1-14 1-4 1 19 1-28 1-3 1-6 1 9 1 11 1-17 1-11 1 18 1 14 1-7 1 5 1 6 1-17 1 2 1 11 1 22 1-22 1-32 1 43 1 8 1-26 1 3 1 1 1 7 1-14 1 12 1-7 1 13 1-6 1-18 1 10 1 4 1 6 1-1 1 6 1-23 1 4 1-8 1 35 1-29 1 11 1-15 1-1 1 21 1 0 1-3 1 7 1-2 1-14 1 20 1 3 1-23 1 1 1 28 1-34 1 13 1-22 1 30 1-29 1 3 1 2 1 7 1 4 1 1 1 10 1-11 1 0 1 18 1-13 1-23 1 2 1 38 1-14 1-4 1-11 1 20 1-14 1-19 1 25 1-9 1 5 1 13 1-12 1-9 1 7 1-16 1-19 1 33 1-36 1 27 1-15 1 18 1-1 1-6 1-16 1 8 1-15 1-1 1 39 1-16 1-47 1 50 1-24 1-6 1 6 1-5 1 14 1 17 1 5 1-6 1-20 1 8 1 18 1-11 1 17 1-10 1 7 1-4 1 29 1-13 1 5 1-29 1 19 1 15 1-16 1 0 1 2 1-4 1 6 1 0 1-20 1 35 1-17 1 10 1-20 1 13 1-6 1 0 1 0 1-11 1 18 1 3 1-1 1 4 1-15 1-19 1 42 1-2 1-37 1 36 1-15 1 0 1-3 1-2 1-16 1 32 1-20 1 7 1 11 1 6 1-6 1 19 1-39 1 10 1 28 1-30 1 2 1-1 1-11 1 11 1 6 1-25 1 29 1-1 1-23 1 35 1-10 1-6 1-6 1 4 1 8 1 5 1-12 1-23 1 10 1 6 1 1 1 3 1 12 1 4 1-3 1 14 1-22 1-3 1 4 1-34 1 32 1-1 1 4 1 0 1 7 1 2 1-6 1 2 1-28 1 37 1-6 1-20 1 4 1-11 1 31 1-27 1 5 1-15 1-9 1 19 1-1 1 11 1-8 1 15 1-24 1 32 1-8 1 3 1-11 1 4 1 0 1 0 1 1 1-4 1 0 1-9 1 27 1-4 1-9 1-1 1 2 1-12 1 9 1-4 1 12 1 5 1-4 1 14 1-28 1 3 1 16 1-11 1-18 1 39 1 10 1-20 1-11 1-9 1 3 1 37 1-27 1 3 1 0 1-1 1-3 1 8 1-24 1 31 1-23 1 24 1-21 1-30 1 43 1-13 1-12 1 6 1-3 1 4 1 7 1-5 1-2 1 10 1-19 1 20 1 5 1-27 1 0 1 14 1-24 1 36 1-3 1-7 1 3 1-8 1-17 1 28 1 9 1-32 1 18 1-24 1 4 1 15 1 3 1-2 1 12 1-22 1-17 1 22 1 10 1-26 1 19 1-12 1 8 1 29 1-32 1 24 1-32 1 11 1-27 1 33 1-8 1-15 1-4 1 17 1-6 1-30 1 17 1-12 1-19 1-2 1 13 1 23 1-5 1-1 1-11 1 7 1-22 1 7 1 18 1-18 1 9 1 26 1-3 1-20 1 12 1 1 1 25 1-13 1 16 1-1 1-7 1 4 1 1 1 11 1-25 1 10 1 0 1 7 1-32 1 30 1-11 1 1 1 9 1 32 1-33 1-4 1-15 1-2 1 23 1 30 1-18 1-25 1 5 1 26 1 9 1-36 1 3 1 14 1-11 1-10 1 12 1-3 1 2 1 21 1-15 1-2 1-8 1 12 1-14 1 14 1 24 1-30 1-9 1 9 1-19 1 13 1 1 1-5 1 12 1-17 1 5 1 7 1 4 1 6 1-15 1 13 1-4 1 6 1-9 1 18 1-26 1 20 1-31 1 13 1-7 1 18 1-1 1 25 1-22 1-5 1-3 1-2 1-6 1 8 1-6 1-4 1 31 1-15 1-1 1-8 1 18 1-8 1-21 1 9 1 10 1 21 1-11 1-19 1 4 1 10 1 25 1-8 1-12 1-14 1-17 1 35 1-14 1 6 1 3 1 6 1-5 1-2 1 6 1-25 1 16 1 8 1-20 1-8 1 17 1-5 1 12 1-20 1 19 1 3 1-16 1 17 1-21 1-6 1 34 1-19 1-3 1-8 1 6 1 4 1 2 1-37 1 45 1-19 1 33 1 11 1-46 1 9 1-10 1 2 1 4 1-12 1 16 1 26 1-21 1-6 1 10 1 17 1-11 1 14 1-23 1 7 1-8 1 16 1-16 1 6 1-3 1-9 1-14 1 20 1-12 1 18 1-5 1-7 1 6 1-22 1 32 1 6 1-19 1-1 1 3 1 7 1-12 1 0 1-18 1 22 1 16 1-25 1 15 1-5 1-2 1-5 1 6 1 1 1-21 1 15 1 16 1-2 1-21 1 28 1-20 1-19 1 23 1 8 1 4 1-5 1-15 1 4 1 5 1-10 1 3 1 14 1-5 1-12 1 13 1 1 1 16 1-6 1-21 1-9 1 11 1 21 1-24 1 13 1-2 1 12 1-5 1-5 1-1 1-12 1 11 1-4 1 14 1-8 1-25 1 29 1-13 1 3 1 9 1-9 1-3 1 10 1 14 1-34 1 9 1 11 1-1 1 5 1 7 1-19 1 9 1 15 1-26 1 20 1-25 1 8 1 17 1-8 1-31 1 13 1 16 1-5 1 17 1-27 1 24 1-8 1 5 1-8 1-10 1-3 1 11 1 9 1-11 1-15 1 12 1 6 1-2 1-12 1 13 1 2 1 16 1-17 1 23 1-34 1-2 1 3 1 7 1 15 1-16 1-15 1 22 1 9 1-14 1 3 1 11 1-42 1 36 1 9 1-7 1 9 1-24 1-3 1 0 1 7 1-2 1 8 1-9 1-15 1 51 1-7 1-18 1-8 1-12 1 26 1 4 1-14 1 0 1 2 1-6 1 3 1-3 1 7 1-17 1-1 1 2 1-2 1 23 1-4 1 3 1-3 1 2 1-2 1 0 1-10 1-6 1 1 1 28 1-3 1-14 1 27 1-47 1 13 1 18 1-33 1 35 1-19 1-1 1-17 1 2 1 27 1-9 1 18 1-31 1 19 1-22 1 23 1 1 1 3 1 8 1-7 1 2 1-18 1 6 1 3 1-10 1 6 1-3 1-9 1 17 1 1 1 3 1-8 1 4 1-13 1 12 1 10 1-14 1-11 1 6 1 18 1-11 1 2 1-8 1 17 1-3 1-3 1-2 1 12 1-17 1 5 1 12 1-11 1-4 1 5 1-4 1 0 1 15 1-34 1 8 1-15 1 11 1 3 1 7 1-1 1-16 1 19 1 9 1-3 1-26 1 6 1 38 1-46 1 27 1-4 1-12 1 12 1-14 1 3 1 20 1-15 1-9 1-12 1 18 1 11 1 2 1-18 1-5 1 16 1-2 1 24 1-19 1-12 1 8 1 17 1-11 1-21 1 18 1 17 1-29 1 40 1-22 1-5 1 1 1-33 1 32 1-19 1 14 1 17 1-2 1 5 1 2 1-30 1 25 1-14 1 10 1 4 1-30 1 20 1-11 1 15 1-11 1 1 1 14 1-10 1 17 1 1 1-39 1 19 1 14 1-4 1 16 1-35 1 18 1-28 1 19 1-11 1 11 1-21 1 27 1-2 1 4 1-7 1 9 1-19 1 14 1 11 1-11 1-30 1 29 1-11 1 12 1-19 1 14 1-2 1-1 1 8 1 20 1-7 1-26 1 3 1 6 1 15 1-8 1-13 1 21 1-16 1 13 1-8 1 8 1-19 1-7 1 9 1 3 1 30 1-35 1 10 1 14 1-10 1-16 1 4 1 16 1 13 1-7 1-7 1 3 1-4 1 8 1-13 1-14 1 22 1-4 1 6 1-6 1-7 1-19 1 19 1 12 1 1 1-14 1-2 1 6 1-2 1 6 1 16 1-39 1 32 1-11 1-10 1-4 1 3 1 11 1-30 1 26 1 11 1-30 1 32 1-10 1 5 1 4 1-5 1-3 1-4 1 0 1-9 1-7 1 36 1-30 1-13 1 17 1 0 1 5 1-17 1-2 1 2 1 12 1-2 1-28 1 37 1-11 1 22 1-15 1 16 1-10 1-10 1 26 1-20 1 2 1-20 1 36 1-35 1 8 1 25 1-17 1 4 1 5 1-26 1 2 1 7 1 14 1-6 1 6 1-14 1 15 1-27 1 25 1 5 1-12 1 14 1-3 1-17 1 11 1-2 1 14 1-16 1 2 1 8 1-24 1 25 1-5 1-9 1 17 1-31 1 25 1-13 1 20 1-7 1-13 1-11 1 14 1 20 1-43 1 17 1-3 1 7 1 5 1 3 1 24 1-7 1-16 1-2 1-5 1 6 1-15 1 10 1 5 1-2 1-2 1-1 1-18 1 27 1-22 1 19 1-12 1 0 1 20 1-1 1-25 1 26 1-35 1 21 1 11 1-2 1-25 1 13 1-21 1 29 1-16 1 23 1-9 1-1 1-9 1 39 1-34 1 5 1 18 1-12 1 2 1-14 1-13 1 10 1 11 1 19 1-33 1 9 1 4 1-4 1 20 1-23 1-15 1 17 1-1 1 17 1-13 1-12 1 5 1 19 1-12 1 8 1-23 1 4 1 26 1 7 1-26 1 15 1-9 1 4 1 23 1-21 1-1 1 0"/>
<path transform="translate(164.00 0) scale(0.52560 0.1)" vector-effect="non-scaling-stroke" fill="none" stroke="#0000ff" stroke-width="2.3" stroke-linejoin="round" d="M0 10677l1-26 1 19 1-3 1 28 1-22 1 15 1-42 1 52 1-34 1 14 1-7 1-56 1 60 1-9 1 14 1-8 1-53 1 45 1-43 1 21 1-7 1 10 1 48 1-62 1 72 1-43 1 24 1-2 1-35 1 29 1 12 1 23 1-47 1 8 1-13 1 46 1-60 1 64 1-33 1 35 1-53 1-22 1 101 1-54 1-23 1-18 1 20 1 25 1-50 1 35 1-12 1 31 1-65 1 84 1-49 1 0 1 51 1-44 1 30 1 30 1-29 1-42 1 37 1-29 1 39 1-34 1-9 1 20 1-21 1 64 1-42 1 28 1-16 1-9 1 17 1-26 1 13 1-22 1-22 1 63 1 1 1-36 1-6 1 16 1-29 1 17 1 23 1-46 1 52 1-1 1 2 1-38 1 42 1-37 1-18 1 20 1 34 1-37 1 67 1-48 1 3 1 22 1-18 1-10 1 18 1 9 1-50 1 60 1-48 1 16 1-15 1-27 1 63 1-31 1-19 1 26 1 11 1 43 1-61 1 6 1 16 1-32 1 8 1 16 1-28 1 23 1 12 1-16 1-30 1 12 1 33 1 15 1-59 1 5 1 28 1-17 1 32 1 1 1-42 1 50 1-21 1 9 1-29 1 29 1 30 1-24 1-5 1 22 1-44 1 18 1-43 1-19 1 90 1-4 1-40 1-43 1 49 1-1 1 27 1-13 1 1 1-14 1-11 1 14 1 8 1 62 1 3 1-67 1 0 1 9 1 33 1-25 1 9 1-67 1 85 1-42 1-4 1 16 1-17 1 20 1-3 1-37 1 32 1 9 1 20 1-17 1 3 1 4 1 8 1 0 1-43 1-8 1 20 1 31 1-4 1-33 1-3 1-45 1 96 1-3 1 20 1-15 1-28 1 25 1-15 1-2 1 0 1-14 1 25 1 39 1-47 1 21 1-47 1 46 1-55 1 31 1 11 1-35 1 39 1-12 1 23 1-7 1-7 1-14 1 21 1-55 1 38 1-74 1 86 1-63 1 27 1-10 1-11 1 49 1-42 1 37 1 9 1 16 1-1 1-12 1 17 1-37 1 43 1 23 1-54 1 14 1-31 1 24 1 13 1-3 1-1 1-50 1 20 1 48 1-65 1 10 1-30 1 40 1 4 1 11 1 35 1-70 1 12 1-1 1 55 1-61 1 23 1-12 1 12 1 6 1 27 1-70 1 82 1-42 1 13 1 14 1-59 1 37 1-30 1 21 1-9 1-19 1 30 1 18 1-39 1 19 1-50 1 63 1-13 1-31 1 67 1-11 1 5 1-19 1 7 1-38 1 11 1-10 1 41 1-7 1-25 1-2 1 12 1-48 1 33 1-8 1 8 1-66 1 106 1 62 1-65 1 8 1-22 1-3 1 55 1-48 1 22 1 22 1 0 1-56 1 19 1-26 1 38 1 67 1-87 1-11 1 22 1 30 1 14 1-7 1-44 1-28 1 48 1-3 1-26 1 29 1 8 1-6 1 5 1 30 1-43 1 8 1 1 1-7 1 17 1-30 1 2 1-6 1-20 1 46 1-1 1 14 1-26 1-6 1 25 1-2 1 29 1-31 1 8 1 27 1-5 1-4 1-16 1 16 1-39 1 22 1-19 1 26 1-5 1-14 1 58 1 12 1-57 1 7 1-4 1 18 1-19 1 23 1-67 1 61 1 6 1-27 1 21 1-14 1 0 1 21 1-15 1 7 1-23 1-23 1 63 1-57 1 29 1-11 1 18 1 20 1 24 1-48 1 25 1-6 1-7 1-6 1 8 1-14 1 12 1-33 1 53 1-14 1 4 1 3 1 41 1-75 1 14 1-7 1 27 1 11 1-6 1 26 1-60 1 50 1-8 1-41 1 35 1-7 1 33 1-45 1 35 1-46 1 75 1-74 1 40 1 18 1 35 1-26 1 17 1-21 1-6 1 12 1-9 1-3 1-18 1 22 1 6 1-32 1 13 1 24 1 4 1-14 1-6 1-11 1-34 1 16 1 28 1-90 1 132 1-72 1 33 1-10 1 15 1 4 1-23 1-13 1 18 1 3 1 15 1-16 1 36 1-13 1-23 1-5 1-20 1 34 1 19 1 1 1-31 1-40 1-18 1 44 1 16 1-2 1 12 1 15 1 9 1-14 1-6 1-53 1 76 1-12 1-3 1-16 1-22 1 40 1-20 1 11 1 26 1-20 1 11 1 9 1-12 1 8 1-33 1 12 1 0 1 11 1-7 1 15 1-19 1 17 1-6 1-24 1 74 1-85 1 11 1 58 1-13 1-41 1 16 1 37 1-2 1-62 1 22 1 5 1 6 1-8 1 23 1-37 1 28 1-4 1 12 1-28 1-23 1 29 1-10 1 10 1 15 1 8 1-61 1 34 1 9 1-69 1 80 1-56 1-5 1 2 1-6 1 56 1 7 1-26 1 34 1-14 1 12 1-3 1-35 1 32 1 57 1-47 1 52 1-81 1 81 1-38 1 9 1 23 1-20 1 4 1 44 1-41 1 15 1 6 1 2 1-1 1-56 1 43 1-1 1-19 1 43 1-59 1 56 1-26 1-48 1 29 1 35 1-6 1 10 1 9 1 16 1-43 1-12 1 48 1-15 1 49 1-44 1-17 1-22 1 21 1-29 1 35 1 11 1-4 1-2 1-1 1 0 1 2 1 23 1-18 1-15 1 26 1 6 1-29 1-19 1 22 1 55 1-30 1 23 1-22 1-31 1 14 1 14 1-17 1-23 1-18 1 44 1 10 1 21 1-30 1-16 1 21 1 48 1-52 1-20 1 53 1-10 1-40 1 20 1 12 1 30 1-30 1-20 1 18 1 17 1-21 1-19 1 23 1 17 1-24 1-16 1 33 1-8 1 37 1-60 1 21 1-7 1 2 1 43 1-52 1 23 1 3 1-39 1 23 1-34 1 66 1 11 1 0 1-54 1 37 1 27 1-61 1-25 1 62 1-1 1-34 1 41 1-15 1-23 1 53 1-46 1 32 1-57 1 55 1-2 1 41 1-64 1-2 1 25 1 0 1-50 1 8 1-32 1 18 1 4 1 10 1-77 1 25 1-74 1-28 1-43 1-81 1 20 1 78 1 9 1 36 1 38 1 82 1-29 1 20 1 21 1 5 1-17 1-10 1 26 1 18 1 15 1-14 1-13 1-6 1 4 1 20 1-40 1-5 1-12 1 4 1-69 1-19 1-21 1 64 1-24 1 1 1 63 1 18 1-5 1 13 1-2 1 0 1 24 1-39 1 90 1-7 1-18 1-39 1 2 1 48 1-37 1 36 1 16 1-14 1-33 1 64 1-27 1-55 1 29 1-2 1 23 1-23 1-4 1-4 1-7 1 49 1-21 1-10 1-20 1-5 1 23 1-16 1-33 1 16 1 38 1-17 1 48 1-20 1-25 1-39 1 59 1-25 1 2 1 26 1-27 1 4 1 44 1-35 1 12 1-8 1 36 1-4 1-11 1 37 1-52 1 9 1 11 1 9 1-50 1 23 1 28 1-37 1 37 1-25 1 18 1-8 1-9 1 7 1-5 1 25 1-24 1 1 1 49 1-44 1-5 1 16 1-9 1-2 1-10 1-5 1-22 1 22 1 43 1-25 1-14 1 27 1 16 1-21 1-44 1 29 1 16 1-24 1 19 1-17 1 19 1 15 1-63 1 16 1 22 1 22 1-16 1-1 1 0 1-39 1 38 1-14 1 2 1-2 1-17 1 52 1-13 1-40 1 63 1-64 1 53 1 7 1-26 1-4 1-15 1 6 1 11 1 42 1-46 1 35 1-39 1 27 1 9 1-3 1-16 1-12 1 19 1-18 1-4 1 58 1-23 1-33 1 5 1 24 1-11 1-3 1-9 1-4 1-4 1 18 1-61 1 22 1 38 1 11 1-35 1-13 1 10 1-3 1 45 1-49 1 2 1 29 1-15 1 10 1-10 1-12 1 0 1 7 1-1 1 17 1 16 1-84 1 60 1-3 1-37 1 12 1 26 1-2 1-43 1-3 1 24 1 10 1-30 1 14 1 16 1-15 1 33 1 32 1-49 1 10 1 16 1 16 1-31 1-10 1 46 1-31 1 11 1 5 1 3 1-12 1 10 1-6 1-6 1 11 1 16 1-40 1 41 1-41 1 9 1 31 1-50 1 5 1 4 1-19 1 19 1-38 1-11 1-22 1-37 1-51 1-12 1-18 1-86 1-42 1-15 1 25 1 20 1 73 1 85 1-2 1 65 1-8 1-9 1 27 1-12 1 54 1 7 1 18 1-4 1-26 1 66 1-88 1 57 1-4 1-13 1 11 1-6 1-1 1 4 1 54 1-98 1 57 1-19 1-16 1-4 1 44 1 28 1-33 1-18 1 16 1-9 1 17 1 2 1 19 1-43 1 8 1 23 1 1 1-11 1-3 1 16 1-41 1 5 1 30 1-4 1-1 1 17 1-16 1 0 1 11 1-27 1 17 1-7 1-8 1 3 1-14 1 6 1 34 1-46 1 44 1 32 1-64 1 1 1 13 1 29 1-48 1-18 1-15 1 19 1 10 1-23 1 11 1-1 1-51 1 44 1 23 1-26 1-7 1 14 1-18 1 36 1-26 1-14 1 22 1 9 1-10 1-43 1 47 1-61 1 29 1-45 1-22 1-11 1-1 1-18 1-47 1 2 1-98 1-67 1-83 1-107 1-132 1-127 1-223 1-195 1-230 1-129 1-42 1 40 1 134 1 218 1 254 1 188 1 127 1 132 1 104 1 104 1 47 1 66 1 10 1 55 1 52 1-12 1 19 1 25 1-4 1-12 1 45 1-18 1 38 1-62 1 8 1 15 1 22 1 59 1-76 1 12 1-9 1 31 1 15 1-20 1 22 1 4 1-11 1-33 1 37 1 10 1 2 1-15 1 31 1-45 1 51 1-47 1 41 1-13 1-3 1-24 1 9 1 26 1 9 1 6 1-50 1 5 1 1 1-24 1 6 1-15 1 18 1 4 1-16 1 43 1-12 1 23 1-5 1-17 1 18 1-37 1 71 1-21 1 14 1-56 1 28 1 1 1-14 1-2 1 36 1-3 1-15 1 29 1-35 1-9 1 33 1-22 1 20 1-6 1 2 1-16 1 11 1 9 1-52 1 21 1 20 1-15 1 31 1-25 1 0 1-19 1 26 1-22 1 3 1 4 1-19 1 6 1-8 1-33 1 49 1-53 1-9 1-35 1 6 1-1 1-18 1 0 1 3 1 15 1-14 1-4 1 27 1 12 1 1 1 8 1 14 1-2 1 15 1 23 1 21 1-24 1-14 1 1 1 57 1-16 1-33 1 72 1 1 1-27 1 6 1-20 1 31 1-10 1-2 1 19 1-17 1 13 1-37 1 25 1 9 1 24 1-19 1-6 1-6 1-32 1 32 1-1 1-10 1 34 1-37 1 34 1-43 1 11 1-16 1 1 1 2 1 6 1 12 1-17 1 1 1 3 1 14 1-26 1-22 1 0 1 21 1-9 1 19 1-17 1 15 1 18 1-5 1 25 1-9 1 6 1-4 1 31 1-28 1 2 1-17 1 24 1-15 1 8 1-23 1 25 1-19 1-2 1 1 1 2 1 7 1-5 1 8 1 11 1-10 1-23 1 48 1-47 1 2 1 37 1-18 1-39 1 18 1 31 1-11 1 20 1-17 1 21 1-17 1-3 1 28 1-14 1-17 1-27 1 31 1-22 1 29 1 6 1-25 1 36 1-8 1-8 1-4 1-24 1 12 1 24 1-7 1-1 1-29 1 28 1-21 1 44 1-30 1 6 1-1 1 6 1-29 1 41 1-48 1 21 1 18 1-20 1 19 1-13 1 0 1-9 1-3 1 7 1-14 1 20 1-31 1-6 1-16 1-45 1 21 1-36 1-11 1-7 1-42 1-27 1 13 1 11 1 25 1 13 1-4 1 47 1-9 1 30 1 16 1 8 1 25 1 6 1 3 1-27 1 29 1 16 1-6 1-17 1 18 1 5 1-31 1 42 1-8 1-8 1-5 1 10 1-6 1-36 1 34 1-31 1 17 1-11 1-36 1 34 1-33 1 1 1 6 1-43 1-10 1-40 1 2 1-14 1-28 1 3 1 26 1 26 1-8 1 32 1 23 1 40 1-18 1 53 1-14 1-9 1 28 1 22 1-6 1 4 1-16 1 1 1-6 1 5 1 5 1-19 1 28 1-6 1 0 1 4 1 11 1 4 1-2 1-10 1-1 1-3 1-6 1 8 1 10 1 2 1 9 1-8 1-5 1 2 1 1 1-4 1 19 1-15 1 25 1-14 1 8 1 6 1 1 1-24 1 9 1-7 1-21 1 19 1 18 1-13 1 22 1-37 1-27 1 64 1-32 1 6 1 10 1-1 1 23 1-32 1-15 1 27 1-33 1 15 1-32 1 45 1-9 1-52 1 21 1 3 1-12 1-8 1 28 1-52 1 14 1-28 1 13 1 3 1-8 1-23 1 18 1-13 1 5 1 30 1-17 1 29 1-8 1 11 1 50 1-18 1-17 1 13 1-6 1 9 1 3 1 26 1-17 1 8 1-18 1 44 1-20 1-15 1 15 1-21 1 6 1 8 1 20 1-5 1 4 1-6 1 9 1-26 1 35 1-21 1-12 1 6 1 16 1-13 1 20 1-36 1 28 1 5 1 9 1-9 1-9 1-2 1-10 1 22 1 8 1-4 1-5 1-5 1-5 1 12 1 10 1-15 1 28 1-42 1 13 1 5 1 1 1-34 1 52 1-22 1-19 1-1 1 13 1 16 1-14 1 11 1-11 1 4 1-20 1-3 1-12 1 14 1 4 1-17 1 25 1-20 1 21 1 3 1 6 1 4 1 0 1-11 1-24 1 31 1-6 1 20 1-17 1 3 1 2 1-4 1-4 1 34 1-40 1 7 1-7 1 6 1-2 1 3 1-13 1 32 1-20 1 17 1-9 1-21 1 31 1-9 1 2 1 9 1-2 1-2 1 5 1-4 1-16 1 11 1 14 1-4 1 17 1-17 1 0 1 6 1-34 1 47 1 1 1-9 1-3 1 4 1-26 1 19 1 18 1-22 1-2 1 19 1-18 1-9 1 14 1-22 1 12 1-4 1 5 1-2 1 32 1-20 1-4 1-21 1 25 1-31 1 11 1 29 1-4 1-23 1-2 1 3 1 18 1-26 1 17 1 13 1-15 1 22 1-21 1-6 1 18 1-14 1 0 1 17 1-33 1-1 1 25 1-12 1-20 1 16 1 22 1-25 1-9 1 5 1-5 1-8 1 24 1-3 1-4 1-31 1 21 1 11 1-20 1-32 1 58 1 10 1-5 1-15 1 19 1-6 1 2 1-21 1 24 1-9 1 13 1 8 1 4 1-23 1 12 1-26 1 10 1 8 1-12 1 21 1-19 1-6 1 23 1-14 1-1 1 26 1-10 1 13 1-15 1-27 1 18 1 5 1-6 1-7 1 20 1-10 1 3 1 20 1 13 1-29 1 13 1-1 1-17 1 10 1 8 1-25 1 19 1-17 1-12 1 7 1 11 1-3 1 2 1-25 1-3 1 15 1 3 1 3 1-28 1-1 1-4 1 4 1 16 1-34 1-9 1 21 1-47 1 10 1-13 1 3 1-37 1-40 1 7 1-40 1 14 1 5 1 7 1 44 1 2 1 1 1 17 1 27 1-7 1 20 1 22 1 5 1 31 1-12 1-15 1 38 1-14 1 2 1 9 1-22 1 4 1 3 1 20 1-33 1 15 1 15 1-19 1 3 1-4 1 5 1 34 1-56 1 14 1 29 1-6 1 2 1-1 1-10 1 24 1-26 1 6 1-6 1 21 1 1 1-26 1 20 1-12 1 10 1 3 1 6 1 6 1-31 1 0 1 30 1-17 1 9 1-2 1-4 1-15 1 4 1 29 1-22 1 0 1 15 1-2 1-31 1 10 1 9 1 3 1-1 1 1 1 0 1-16 1 26 1-12 1 13 1 12 1-49 1 18 1 13 1 3 1 1 1-35 1 45 1-15 1-10 1 27 1-3 1-33 1 18 1-12 1 6 1-6 1 11 1 15 1-25 1 12 1-4 1 1 1 4 1 2 1-1 1-6 1-6 1 24 1-18 1-3 1 12 1-2 1 2 1-10 1 12 1-8 1-28 1 19 1-4 1-6 1 0 1 17 1-35 1 5 1-25 1 10 1-29 1 21 1-9 1 32 1-15 1 9 1-21 1 34 1 4 1 13 1-4 1-1 1-15 1 0 1 15 1 2 1 6 1 2 1-14 1 16 1-7 1 12 1-21 1 17 1-3 1-8 1-14 1 2 1 23 1 7 1 5 1-21 1-11 1 15 1 4 1-6 1 27 1-25 1-10 1-30 1 35 1-5 1-6 1 38 1 5 1-30 1 17 1-45 1 17 1 24 1-3 1-6 1 11 1-4 1 11 1 2 1-1 1-26 1 13 1-10 1 4 1-2 1-18 1-5 1 23 1-25 1-6 1-6 1 17 1-10 1-5 1 26 1-16 1 44 1-15 1-16 1 3 1 19 1-25 1 26 1-11 1 6 1-5 1 31 1-9 1-33 1 36 1-15 1-8 1 26 1-26 1-15 1 22 1 5 1-22 1 10 1 11 1-1 1 5 1-19 1 25 1-9 1 5 1 12 1-52 1 24 1 35 1-41 1 21 1-4 1-1 1-17 1 27 1-13 1-13 1 4 1-5 1-23 1 22 1 15 1-23 1 22 1-11 1-23 1 36 1-3 1-1 1-12 1 18 1-16 1 9 1-16 1 0 1 15 1-19 1-6 1 0 1 27 1-31 1-18 1-12 1 2 1 18 1-19 1-13 1-3 1-11 1-4 1-15 1 4 1 35 1-12 1 11 1-10 1 21 1-4 1 19 1 14 1-19 1 4 1-11 1 11 1-13 1 1 1-23 1 20 1-8 1 1 1-5 1-15 1 10 1-24 1 24 1-6 1 14 1-3 1 15 1-19 1 30 1-13 1 35 1-20 1 21 1-2 1-27 1 42 1-29 1 10 1 41 1-38 1-6 1 19 1 31 1-49 1 24 1-2 1-5 1 18 1 8 1-9 1 4 1-7 1-12 1 19 1-8 1-1 1 13 1-7 1 8 1 1 1 18 1-33 1 12 1-1 1-5 1-8 1 7 1-2 1 7 1 1 1-13 1 12 1-15 1 8 1 11 1-47 1 43 1-20 1-6 1 27 1-19 1 13 1-13 1-16 1 15 1-24 1 7 1 1 1 37 1-35 1 3 1-18 1-12 1 14 1 7 1-39 1-15 1 1 1-19 1-20 1-4 1-57 1-52 1-53 1-17 1-36 1-36 1-22 1 50 1 3 1 25 1 37 1 36 1 39 1 47 1 23 1 11 1 33 1 36 1-23 1 29 1-12 1 2 1 19 1-4 1 25 1 23 1-27 1 9 1-6 1 14 1-5 1 11 1-5 1-18 1 18 1-18 1-10 1 29 1-22 1 7 1-10 1-4 1 2 1 31 1-29 1 9 1-13 1-9 1-17 1 16 1 36 1-19 1-14 1 27 1-17 1 12 1 11 1-10 1-16 1 27 1-14 1 26 1-17 1-2 1 13 1 11 1-24 1 28 1-8 1 23 1-39 1 35 1-17 1-5 1-3 1 1 1 23 1 0 1-16 1 10 1-17 1 3 1-3 1 17 1-31 1 8 1 13 1-2 1-4 1 7 1-2 1 13 1 0 1-17 1 19 1-13 1 32 1 0 1-44 1 23 1-11 1 8 1 0 1-5 1 28 1-12 1-15 1 18 1-19 1 12 1-7 1-10 1 33 1-15 1-13 1 15 1-1 1 5 1 6 1-30 1 33 1-16 1-3 1-8 1 13 1-3 1 5 1 1 1-13 1-6 1 6 1 6 1 17 1-20 1-12 1 16 1 8 1-8 1-18 1 1 1 25 1-2 1-8 1-1 1-13 1 16 1 25 1-27 1 12 1-8 1-17 1 21 1-13 1 14 1-10 1 15 1-23 1-11 1 16 1 11 1-3 1 5 1-4 1 23 1-42 1 29 1 2 1-20 1 16 1-9 1-21 1 7 1 15 1-17 1 0 1 17 1 22 1-22 1 4 1-9 1-16 1 21 1-18 1 55 1-62 1 24 1-7 1 32 1-18 1-5 1-7 1 1 1 25 1-17 1-22 1 9 1 15 1-9 1 6 1-1 1-1 1-8 1 13 1-31 1 9 1 30 1-20 1-6 1 16 1-2 1 3 1 13 1-18 1 4 1 20 1-34 1 15 1 9 1-6 1-6 1-2 1 26 1-16 1 1 1-13 1-19 1 38 1-14 1 30 1-15 1 13 1-38 1 11 1-1 1 4 1-9 1 1 1 16 1-28 1 24 1-14 1-11 1 39 1-17 1 6 1-24 1 11 1-2 1 2 1 16 1-17 1 5 1 5 1-12 1 14 1-25 1 10 1 14 1 14 1-9 1 6 1-11 1-26 1 30 1-23 1 1 1 1 1 25 1-29 1 1 1-11 1 37 1-2 1-21 1 18 1 8 1-15 1-1 1-2 1-26 1 1 1 4 1 14 1 1 1 15 1-4 1-21 1 35 1-15 1 5 1 3 1 4 1-29 1 2 1-1 1-17 1 44 1-23 1 20 1-4 1-4 1-13 1-1 1 5 1-16 1 34 1-2 1 5 1-14 1-23 1 22 1 12 1 10 1-31 1 8 1 3 1-18 1 16 1 7 1-12 1 20 1-6 1-4 1-9 1 16 1-4 1-28 1 12 1 1 1 22 1 2 1-2 1-10 1-5 1-3 1-14 1 26 1-8 1-6 1-2 1 1 1 17 1 3 1-28 1 23 1-16 1-10 1-9 1 16 1-2 1 23 1-5 1-14 1-2 1-1 1 16 1-22 1 25 1-1 1-11 1 8 1 15 1-35 1 23 1-4 1-16 1 16 1-35 1 38 1-10 1 21 1-22 1-14 1 35 1-9 1-11 1 15 1-3 1-22 1-8 1 13 1-10 1 24 1-22 1 2 1 20 1 10 1 3 1-9 1-15 1-2 1 6 1-2 1-13 1-2 1 22 1-2 1-13 1-3 1 24 1-22 1 13 1-16 1 16 1 11 1-10 1 0 1 16 1-14 1 8 1-7 1 2 1-14 1 3 1 7 1-2 1 16 1-1 1-28 1 10 1 20 1-4 1-22 1 7 1 7 1-21 1 27 1-21 1-13 1 11 1-8 1 10 1-17 1 8 1 24 1-12 1 9 1-7 1-2 1-10 1-8 1 19 1-10 1 11 1 9 1-14 1-6 1 6 1-10 1 16 1 11 1-11 1 0 1-38 1 8 1 8 1-2 1 5 1-22 1 5 1-32 1-19 1 7 1 8 1-28 1 19 1 21 1-14 1-5 1 9 1 6 1-21 1 51 1-8 1-8 1 0 1 16 1 22 1-10 1 14 1-12 1 14 1-1 1-7 1-7 1-6 1 25 1-23 1 56 1-28 1-16 1 21 1 17 1-36 1 13 1-19 1-7 1 10 1 0 1 28 1-10 1 10 1-4 1-32 1 41 1 9 1-19 1-26 1 11 1 13 1 5 1-4 1-3 1-3 1 10 1 11 1-21 1 17 1-4 1-1 1-5 1 11 1-24 1 18 1-9 1-4 1-2 1 22 1-6 1 4 1-3 1-24 1 25 1-3 1-8 1 16 1-5 1-17 1-7 1 5 1 9 1-2 1-5 1 2 1 15 1-28 1 22 1 10 1 5 1-28 1 13 1-21 1 25 1-5 1 20 1-3 1-33 1 9 1-1 1-5 1 29 1-27 1 15 1-14 1-23 1 31 1 1 1-4 1 12 1-2 1-18 1 4 1-12 1 18 1 20 1-26 1 11 1 4 1-14 1 19 1-21 1 18 1 3 1-11 1-9 1 23 1-3 1-18 1 10 1-11 1 7 1-14 1 17 1-3 1 13 1 2 1-8 1-3 1-5 1-9 1 2 1-6 1 8 1 26 1-27 1-18 1 43 1-30 1-1 1 1 1 4 1 12 1-8 1 8 1-23 1 13 1 24 1-10 1 3 1-11 1-15 1 30 1-21 1-8 1 1 1 8 1 19 1-16 1 6 1-8 1-13 1 27 1-20 1-14 1 46 1-38 1 32 1-4 1-11 1-18 1 18 1-4 1-2 1-13 1 12 1-8 1 17 1-17 1-15 1-12 1-4 1 19 1-18 1 7 1-19 1 10 1-9 1-24 1 34 1-22 1 22 1-9 1 6 1 10 1 2 1 5 1-6 1 17 1-10 1 18 1-14 1-5 1-5 1 10 1 17 1 8 1 20 1-53 1 30 1 1 1 6 1-21 1 9 1-23 1 32 1-15 1 31 1-13 1-2 1-2 1-2 1 6 1 5 1-18 1 14 1 10 1-11 1 21 1-35 1 4 1 5 1 0 1 11 1 0 1-13 1 4 1-14 1-4 1 21 1-7 1-3 1-19 1 2 1 35 1 13 1-25 1-10 1 31 1-19 1-1 1 5 1-10 1 16 1 2 1-17 1 32 1-2 1-18 1 0 1-8 1 2 1 0 1 6 1-19 1 18 1 19 1-4 1-17 1-10 1 10 1-28 1 27 1-16 1 16 1-9 1-1 1-9 1 38 1-40 1-1 1 14 1-5 1-3 1 25 1-29 1 15 1 3 1-24 1-5 1 9 1 3 1 30 1-33 1 28 1-46 1 19 1 11 1-12 1-21 1-11 1 14 1-21 1 26 1-35 1 1 1-17 1 8 1 6 1-13 1 1 1 34 1-53 1 9 1-15 1-3 1 2 1 3 1-22 1 17 1-3 1 1 1 30 1 10 1 33 1-36 1 35 1-35 1-11 1 34 1 5 1-9 1 44 1-20 1 7 1-23 1 37 1 8 1-36 1 28 1-17 1-9 1 9 1 24 1-1 1-25 1 8 1-2 1 15 1-19 1 14 1 19 1-14 1 6 1-11 1-2 1-3 1 30 1-21 1 8 1-6 1 8 1 1 1-26 1 18 1-7 1 1 1 24 1 0 1-12 1 3 1-4 1-6 1 17 1-3 1-20 1 22 1 6 1-27 1 15 1-5 1-2 1 25 1 3 1-12 1-9 1 7 1-18 1-11 1 30 1-5 1 2 1 10 1-4 1-21 1 8 1 8 1-2 1-1 1-2 1-14 1 22 1-3 1-19 1 10 1-1 1 21 1-17 1 6 1-10 1 5 1-20 1 10 1 2 1 23 1-13 1 12 1-7 1-4 1 3 1-1 1 2 1 9 1-22 1-7 1 9 1 1 1-1 1-4 1 1 1-6 1 13 1 8 1 21 1-13 1-34 1 39 1-15 1-3 1 6 1-6 1-22 1 6 1-10 1 27 1-2 1-7 1 17 1-2 1-1 1 4 1-22 1 17 1 9 1-30 1 5 1 42 1-10 1-1 1 12 1-30 1 5 1 8 1-9 1 2 1 12 1 9 1-17 1-29 1 19 1-5 1 8 1-21 1 18 1-20 1 30 1-11 1-17 1 28 1-33 1 34 1-16 1-1 1 7 1-2 1 2 1-5 1 11 1 5 1 6 1-25 1 10 1 6 1-4 1-3 1 7 1-3 1-3 1-9 1 5 1-1 1-3 1 20 1-7 1-9 1 14 1-23 1-7 1 8 1 13 1-19 1 28 1-6 1-7 1 7 1-3 1 1 1-14 1 17 1 6 1 2 1-25 1 5 1 0 1-22 1 35 1-18 1 12 1-7 1 11 1-29 1 10 1 3 1-5 1 12 1-20 1 10 1 28 1-37 1 15 1 5 1 2 1 10 1-10 1-3 1 1 1 27 1-31 1 13 1-1 1 32 1-26 1 0 1-7 1 1 1-17 1 1 1 14 1-7 1-13 1 11 1 8 1-17 1 10 1-6 1 13 1-3 1 9 1 10 1-30 1-3 1-4 1 1 1 19 1 4 1-26 1 7 1 14 1-14 1 20 1-4 1-1 1-11 1-13 1 9 1 0 1 17 1-2 1 1 1-1 1-14 1 16 1-9 1 8 1 4 1-10 1 2 1 9 1-14 1 25 1-20 1-6 1 31 1-42 1 9 1 21 1-2 1-11 1-4 1 3 1 15 1-19 1 11 1-1 1 10 1-11 1-19 1 8 1 13 1 2 1 12 1-14 1-8 1 8 1-16 1 8 1 29 1-17 1-17 1 13 1 5 1-11 1 23 1-12 1-15 1-7 1-2 1 12 1 1 1-6 1 13 1-10 1 13 1-3 1 14 1-19 1 13 1-1 1-10 1-2 1 14 1-1 1-23 1 2 1-5 1 5 1 22 1 7 1-30 1 28 1-32 1 9 1 19 1 8 1-19 1-13 1 13 1-20 1 2 1 4 1 6 1 7 1 0 1-21 1 14 1 8 1-5 1 3 1-20 1 32 1-16 1-2 1-2 1 16 1-9 1-4 1 13 1 6 1-13 1-2 1 21 1-14 1-23 1 50 1-37 1-7 1 13 1 2 1-8 1-9 1-3 1 14 1-6 1 1 1-1 1 29 1-47 1 4 1 33 1-14 1-3 1-4 1-4 1 2 1 6 1-13 1-6 1 30 1-10 1-4 1-5 1 5 1-19 1 24 1-17 1-15 1-2 1 13 1-11 1 15 1 6 1-11 1-14 1 10 1 1 1-1 1 10 1-10 1-16 1 8 1 34 1-17 1-7 1 12 1-3 1 21 1-14 1 17 1-18 1 26 1-28 1 12 1-6 1 10 1-1 1-1 1-16 1 7 1 7 1 8 1-13 1 6 1 22 1-43 1 26 1 2 1-4 1-7 1 18 1-6 1 5 1-29 1-1 1 15 1 7 1 2 1 5 1-11 1 14 1-22 1-9 1 24 1-8 1-7 1 1 1-17 1 30 1-9 1-10 1 13 1-9 1 28 1-1 1-8 1-3 1-5 1-13 1 28 1-15 1 4 1 7 1-14 1-23 1 17 1 16 1 1 1 7 1-5 1-5 1 12 1 8 1-18 1-6 1-11 1 8 1 1 1 6 1-16 1 3 1 16 1 30 1-26 1-1 1-17 1 21 1-13 1 12 1-14 1-5 1-7 1 12 1-9 1 3 1 5 1 10 1-7 1-18 1 4 1-23 1 19 1 15 1-5 1 10 1 11 1-3 1-27 1 8 1-9 1 6 1 11 1 6 1-1 1 5 1-5 1-9 1-17 1 10 1 3 1-8 1 15 1 4 1 9 1-15 1 21 1-16 1-2 1 8 1-14 1 15 1 1 1-12 1 17 1-21 1-4 1-3 1 34 1-15 1 15 1 8 1-35 1 10 1-17 1 9 1-1 1 2 1 26 1-24 1-8 1 11 1-14 1-8 1 11 1-5 1 15 1 22 1-9 1-3 1-8 1-20 1 20 1-17 1 7 1 10 1 1 1-8 1 1 1-16 1 17 1 10 1-3 1-7 1 20 1 8 1-39 1 14 1-24 1 22 1-7 1 16 1 18 1-19 1-6 1 7 1-6 1 9 1 3 1-24 1 17 1-19 1 29 1-28 1 4 1 21 1-19 1-5 1 14 1-12 1 3 1-4 1 6 1-3 1-9 1 12 1-19 1 35 1-3 1-15 1 32 1-47 1 36 1-22 1 3 1 15 1-14 1 6 1 11 1-29 1 0 1 15 1-3 1-10 1-3 1 11 1-8 1 21 1-11 1 11 1-23 1 3 1 1 1 7 1 7 1-2 1 3 1 4 1 11 1-20 1-26 1 17 1 7 1 3 1 2 1-6 1-14 1 23 1-20 1-11 1 15 1 15 1-11 1 4 1 1 1-18 1 32 1-6 1-12 1-12 1 15 1 1 1-11 1 13 1 3 1-9 1 14 1-1 1 6 1-11 1-14 1 22 1-24 1 20 1-26 1 18 1 6 1 5 1-16 1 4 1-17 1 13 1-11 1 29 1-16 1 11 1 3 1 10 1-30 1 14 1-5 1-7 1 3 1 18 1-17 1-29 1 17 1 27 1-17 1 3 1 5 1-16 1 9 1 11 1-28 1 8 1 13 1 7 1 1 1-22 1 15 1 29 1-20 1-18 1 12 1-6 1-1 1 16 1-9 1-2 1 21 1-16 1 11 1-7 1-13 1 5 1-4 1 3 1-3 1 19 1-23 1 15 1-3 1 17 1-30 1-2 1 12 1-13 1 20 1-15 1-3 1 5 1 18 1-27 1 1 1 2 1 19 1-35 1 13 1 21 1-2 1-13 1-4 1 9 1 6 1-23 1 11 1 25 1-17 1-15 1 17 1 0 1-4 1 6 1-7 1-7 1 28 1-21 1 5 1 13 1-15 1 6 1-6 1-4 1 5 1 22 1-52 1 18 1 35 1-23 1-15 1 1 1 13 1-5 1 3 1 18 1-9 1 4 1-17 1 1 1-10 1 10 1 28 1-11 1-6 1 7 1-15 1-9 1 12 1-13 1 6 1-5 1 21 1-20 1-4 1-3 1 12 1 20 1-47 1 34 1 10 1-11 1 0 1 12 1-31 1-2 1 22 1 9 1-17 1 26 1-34 1 3 1-10 1 15 1 19 1 7 1-6 1-51 1 23 1-4 1 24 1 4 1-2 1-7 1-16 1 1 1 16 1 8 1-15 1 5 1-1 1 16 1 0 1-6 1 1 1 7 1-33 1 12 1-8 1 19 1-26 1 31 1-25 1 41 1-26 1 8 1-6 1 28 1-23 1-13 1-10 1-4 1 17 1 8 1 1 1-12 1 4 1 14 1-13 1 21 1-27 1 20 1-17 1 12 1-1 1-16 1 21 1-22 1-8 1 23 1-27 1 29 1-15 1 0 1 21 1-34 1 27 1-20 1-3 1 29 1-21 1 28 1-17 1 0 1 14 1-20 1-3 1 12 1 4 1-1 1-37 1 25 1 0 1-6 1 27 1-33 1 15 1-26 1 32 1-18 1 20 1-10 1 5 1-21 1 12 1 3 1-16 1 6 1-1 1 15 1-11 1 12 1-13 1 4 1 10 1-2 1-6 1-20 1-15 1 39 1 9 1-7 1 12 1 4 1 1 1-21 1 5 1 7 1-21 1 17 1 2 1-9 1-15 1 14 1-12 1 3 1-1 1 8 1-16 1 22 1-9 1 18 1-19 1 3 1-3 1-4 1 5 1 14 1 0 1-19 1 8 1 27 1-28 1 1 1-14 1 22 1-8 1 6 1-9 1 0 1 5 1 21 1-38 1 10 1-4 1 14 1 8 1-28 1 13 1 22 1-8 1-18 1-11 1 33 1-11 1-3 1 0 1-30 1 28 1 21 1-15 1 17 1-20 1 8 1-11 1 7 1 16 1-31 1-8 1 19 1-1 1 6 1-11 1 17 1-13 1 16 1-6 1-3 1-9 1 18 1-19 1 4 1 9 1-12 1 39 1-41 1-5 1 32 1-33 1-3 1 3 1 3 1 17 1-5 1-11 1-2 1 12 1-4 1-1 1 5 1 9 1 5 1 8 1-18 1 2 1-10 1 19 1-33 1 20 1-22 1 14 1-14 1 3 1 7 1 26 1-17 1-11 1 25 1-29 1 3 1 12 1 7 1-15 1 18 1-13 1 24 1-8 1-34 1 37 1-2 1-25 1 13 1 11 1-7 1-21 1 10 1-12 1 13 1-6 1 30 1-18 1 3 1-15 1 6 1 0 1 1 1 9 1-6 1-4 1-4 1-24 1 31 1-19 1 20 1-18 1 52 1-47 1 15 1-11 1 26 1-4 1-2 1 5 1-14 1-10 1 11 1 18 1-44 1 28 1-21 1 18"/>
<path transform="translate(164.00 0) scale(0.52560 0.1)" vector-effect="non-scaling-stroke" fill="none" stroke="#ff0000" stroke-width="2.3" stroke-linejoin="round" d="M0 13221l1 2 1-68 1 54 1-94 1 35 1 41 1-44 1 13 1 4 1 49 1-68 1 34 1-14 1 49 1-32 1-19 1 8 1 20 1-12 1 26 1-26 1 29 1-18 1-22 1-36 1 96 1-68 1 31 1 0 1-16 1-6 1 40 1-31 1 68 1-105 1 58 1-53 1 28 1-11 1 43 1-29 1-8 1 11 1-10 1-16 1 24 1 8 1-11 1 9 1 2 1 48 1-17 1-48 1-7 1 25 1 11 1 16 1-19 1-24 1 40 1-15 1-44 1-3 1 86 1-15 1-30 1 13 1-48 1 47 1-15 1 25 1-47 1 50 1-41 1-8 1-16 1 46 1 13 1-21 1-2 1-25 1 69 1-74 1 93 1-55 1 39 1-5 1-39 1 40 1-18 1-34 1 20 1 42 1-4 1-49 1-18 1 20 1 42 1-37 1-1 1-22 1 21 1 27 1-39 1 29 1-2 1 5 1-12 1 0 1 30 1-51 1 4 1-26 1-4 1 23 1 21 1 22 1-27 1 29 1 11 1-23 1 2 1-28 1 27 1 0 1 5 1 9 1-37 1 10 1-7 1 27 1 0 1 13 1-59 1 43 1-27 1 23 1-10 1-12 1 37 1-22 1 14 1-31 1-32 1 115 1-20 1 3 1-21 1-45 1-26 1 61 1-35 1 95 1-89 1 28 1-1 1-38 1 21 1 2 1 26 1-9 1-30 1 32 1 15 1 16 1-71 1 40 1-13 1-15 1 57 1-59 1 47 1 2 1-47 1 26 1-12 1-10 1 57 1-48 1-7 1 10 1-9 1 37 1-20 1-21 1 27 1-21 1 43 1 12 1-56 1 78 1-23 1-11 1 31 1-51 1 14 1 32 1-72 1 40 1-82 1 68 1-5 1 11 1 8 1 45 1-113 1 75 1-48 1 68 1-22 1-19 1 5 1-35 1 55 1-28 1 47 1-42 1 10 1-74 1 83 1-20 1-22 1 43 1-6 1 9 1-5 1-20 1 41 1-36 1-34 1-16 1 17 1 83 1-57 1 1 1 29 1 29 1-38 1-29 1 25 1 10 1 6 1-18 1-22 1 35 1-16 1-42 1 61 1-41 1 13 1 43 1-59 1-18 1 79 1-32 1-17 1 2 1-14 1 28 1-10 1-24 1 19 1 11 1-16 1 18 1-34 1 75 1-56 1 57 1-39 1 20 1-21 1 45 1-28 1-48 1 23 1 18 1-15 1-3 1 19 1-11 1 27 1 4 1 31 1-46 1 13 1 32 1-81 1 14 1-20 1 70 1 0 1-54 1 18 1 2 1-44 1 22 1 5 1-25 1-18 1 55 1-91 1 18 1-14 1 23 1-30 1 26 1 11 1-27 1 89 1-51 1 27 1-13 1 14 1 33 1 10 1 10 1-40 1 43 1 11 1-37 1-14 1 42 1-32 1 3 1 4 1-43 1 52 1 29 1-62 1 39 1-51 1 28 1 51 1-89 1 82 1-9 1-38 1 55 1-29 1-30 1 28 1-22 1-9 1-6 1 30 1-8 1 6 1 41 1-44 1 24 1-6 1-29 1 10 1 21 1 56 1-61 1-22 1 44 1-29 1 6 1-19 1 49 1-31 1 12 1-11 1 24 1 4 1-44 1 76 1-24 1 16 1-33 1-6 1 28 1-68 1-3 1 95 1-23 1-4 1-2 1-19 1 6 1 1 1-7 1-29 1 21 1 6 1 72 1-59 1-33 1 81 1-31 1-57 1 43 1 9 1-21 1-7 1 52 1-91 1 66 1 7 1-28 1-12 1 83 1-89 1 27 1-19 1 28 1-4 1 10 1-33 1 27 1 9 1-6 1-4 1-15 1 34 1-31 1 30 1-63 1 44 1 9 1-21 1 23 1-32 1-41 1 16 1 92 1-43 1-5 1 25 1-50 1-5 1 60 1-41 1 29 1-9 1-10 1-12 1 30 1-6 1 17 1-31 1 44 1-16 1 8 1 18 1-10 1 0 1 4 1-27 1 42 1-26 1 25 1-20 1-24 1 25 1-11 1 3 1-37 1 22 1-29 1 12 1 30 1-21 1 35 1-15 1-10 1-6 1 16 1 10 1 12 1-2 1 6 1-31 1 5 1 48 1-45 1-18 1 37 1-41 1 39 1-3 1 28 1-56 1 27 1 9 1-28 1 6 1 42 1-14 1-25 1-16 1-18 1 7 1-14 1 7 1 30 1 46 1-52 1 38 1-43 1 47 1 8 1-1 1 5 1-50 1 40 1-24 1 10 1-7 1 11 1 8 1-19 1-23 1 12 1-7 1 35 1-87 1 134 1-72 1 0 1-2 1 8 1-17 1 29 1 28 1-47 1 15 1-19 1 13 1 22 1-69 1 45 1 9 1-15 1-11 1 28 1-30 1-16 1 11 1 7 1-7 1-32 1 21 1-50 1 7 1 77 1-56 1 30 1 52 1-15 1 19 1-30 1 36 1-18 1 16 1 2 1-12 1 21 1-2 1-37 1 18 1-5 1 48 1-34 1-15 1 20 1-30 1 25 1 33 1-30 1 7 1 13 1-9 1-33 1 49 1-42 1 17 1 7 1 12 1 5 1 1 1-25 1 42 1-24 1 2 1 13 1-39 1 28 1-12 1 10 1-21 1 11 1 14 1 13 1 9 1-78 1 79 1-6 1-47 1 16 1 2 1 34 1-6 1 17 1-28 1-9 1-10 1 33 1-19 1-12 1 40 1-37 1 40 1-19 1 58 1-54 1 2 1-43 1 20 1 27 1-15 1 1 1 3 1 8 1-11 1 29 1 17 1-44 1 7 1 3 1-20 1 46 1-13 1 15 1-45 1 4 1 16 1-5 1-54 1 21 1 66 1-66 1 56 1-45 1 53 1-69 1 48 1 23 1-31 1 11 1 29 1 0 1-46 1 43 1-22 1-12 1-24 1 42 1-34 1 17 1-1 1 24 1-22 1 6 1 13 1-10 1-5 1 0 1 30 1-27 1 8 1-17 1-21 1 2 1 0 1 9 1 8 1-7 1 29 1-46 1 38 1-18 1-1 1-58 1 17 1-44 1 0 1-36 1-34 1-61 1-53 1-11 1 30 1-19 1 69 1 71 1 38 1-4 1 49 1 7 1 10 1 14 1 0 1 10 1 29 1 14 1-17 1-26 1 44 1 12 1-16 1-25 1-23 1 75 1-27 1 32 1-59 1 40 1 17 1-22 1-25 1 26 1-29 1 2 1 28 1 9 1-20 1 22 1-5 1 4 1-32 1 32 1-46 1 27 1-22 1 3 1 7 1 21 1-34 1-7 1 61 1-23 1 18 1 23 1-2 1-8 1-44 1-22 1 44 1-4 1-18 1 73 1-92 1 17 1-16 1 36 1-23 1 26 1-29 1-9 1 79 1-48 1 3 1-34 1 49 1-3 1-35 1 7 1 21 1 20 1-4 1-19 1 27 1-14 1-13 1-18 1 15 1 17 1 12 1-24 1 1 1 19 1 4 1 11 1-30 1-23 1 21 1 14 1 2 1-19 1 21 1 5 1 10 1-20 1 44 1-63 1-13 1 21 1-18 1 35 1-31 1 24 1-12 1 14 1-24 1 1 1 7 1-3 1 15 1-46 1 64 1 16 1-58 1 32 1-61 1 57 1 25 1-19 1-45 1 53 1-42 1 8 1 7 1-14 1-24 1 62 1-23 1 31 1-18 1-30 1 40 1-44 1 45 1-26 1 7 1-69 1 112 1-33 1 3 1 5 1 1 1-22 1 44 1-24 1 12 1-17 1 16 1-16 1-14 1 43 1-50 1 13 1-32 1 17 1 25 1 25 1-53 1 14 1-6 1 23 1 8 1-21 1 5 1 9 1-36 1 51 1 16 1-19 1-14 1-17 1-3 1 16 1 9 1-29 1-6 1 45 1-14 1-51 1 57 1 13 1-38 1-11 1 71 1-53 1-30 1 27 1 7 1-4 1 19 1-33 1 15 1 41 1-24 1-28 1-8 1-21 1-30 1 11 1 8 1-49 1 14 1 29 1-2 1 11 1-2 1 26 1-6 1 12 1-31 1 42 1-3 1 12 1 23 1-62 1 47 1 27 1-31 1 1 1 6 1-14 1 16 1-16 1 22 1 39 1-52 1-32 1-9 1 24 1 34 1-13 1-53 1 21 1-6 1 16 1-44 1 22 1-9 1-32 1-59 1-41 1 25 1-140 1-43 1-44 1-43 1 14 1 19 1 36 1 112 1 31 1 30 1 91 1 21 1-15 1 16 1 0 1-1 1 44 1-1 1-6 1 23 1 29 1-35 1 0 1-4 1 27 1 15 1 1 1 6 1-16 1 19 1-8 1-11 1 2 1 37 1-56 1 10 1 52 1-48 1 24 1-23 1 21 1 3 1-47 1 31 1 6 1 20 1-43 1 21 1 12 1-7 1 13 1-8 1-43 1 48 1-69 1 53 1-16 1 12 1 26 1 3 1-22 1-38 1 53 1-48 1 1 1 27 1-19 1 30 1-9 1-13 1 8 1-28 1 14 1 13 1-38 1 17 1 11 1-26 1 29 1-7 1-13 1 1 1-11 1 16 1-23 1 9 1 35 1-34 1 14 1 0 1-39 1-4 1 15 1-9 1 24 1-35 1-14 1 13 1 2 1 34 1-109 1-7 1 20 1-72 1 8 1-7 1-63 1-51 1-47 1-78 1-104 1-158 1-163 1-203 1-197 1-277 1-241 1-126 1-114 1 97 1 134 1 282 1 198 1 302 1 107 1 209 1 129 1 130 1 60 1 39 1 59 1 44 1 41 1 36 1-10 1 22 1 23 1 8 1 37 1-16 1 23 1 11 1 4 1 14 1-7 1 7 1-24 1 53 1 0 1-36 1-20 1 42 1 27 1-40 1-3 1 11 1-8 1-18 1 41 1-5 1 8 1-8 1 45 1-25 1-17 1 32 1-35 1 10 1-36 1 20 1 6 1-28 1-7 1-32 1-44 1 33 1 14 1 6 1 11 1 16 1 35 1 4 1-3 1 16 1-30 1 33 1-39 1 30 1 10 1-9 1-29 1 21 1 2 1-8 1 12 1 23 1-34 1 14 1-48 1 64 1-11 1-16 1-16 1 6 1 4 1-7 1-19 1-11 1 44 1-14 1-1 1 17 1-36 1 0 1-34 1-6 1-54 1-43 1 4 1-73 1-80 1 40 1-48 1-3 1 45 1-3 1 11 1 71 1 26 1 69 1-10 1 16 1-14 1 28 1-1 1 1 1 4 1-37 1 11 1-10 1 0 1-13 1-2 1 2 1 44 1 11 1-13 1-5 1 33 1 25 1-16 1 46 1-1 1 22 1 14 1-39 1 37 1-26 1-24 1 61 1 4 1-5 1 2 1 0 1 14 1-12 1 27 1-32 1-21 1 33 1-7 1-11 1 47 1 11 1-16 1-31 1 13 1 11 1-5 1 8 1 5 1 1 1-31 1 11 1 2 1-33 1 42 1 7 1-24 1-14 1 32 1 19 1-21 1-16 1-3 1-5 1 51 1-43 1 33 1 9 1-13 1 8 1-4 1-3 1-9 1-9 1-16 1 19 1 3 1-17 1 9 1-13 1 9 1-1 1 10 1 12 1-17 1-34 1 35 1 24 1-14 1-19 1 2 1-33 1 18 1-4 1 4 1-27 1 8 1 1 1 4 1-28 1-9 1-6 1 15 1 32 1 4 1-22 1 26 1-5 1 21 1 18 1-14 1-16 1 5 1 20 1 11 1 4 1 19 1-38 1 9 1-1 1 17 1-29 1 46 1-27 1-20 1 12 1 7 1-19 1 15 1 6 1-18 1 3 1-7 1 11 1-3 1 21 1-21 1-5 1 14 1-33 1 42 1-47 1-32 1 18 1-20 1-22 1 13 1-8 1-31 1-13 1-44 1-22 1-20 1-16 1-13 1 22 1-1 1 26 1-5 1 49 1 32 1 9 1 44 1-35 1 49 1 22 1-12 1 15 1-14 1 20 1 3 1-8 1-8 1 3 1 12 1-9 1 7 1-5 1-6 1-18 1 5 1 29 1-25 1-43 1 20 1-14 1-28 1 1 1-38 1-55 1 6 1-26 1 7 1-28 1 31 1-6 1 19 1 35 1 37 1 12 1 22 1 11 1 28 1 17 1-9 1 5 1 20 1-3 1 15 1 2 1-9 1-15 1 53 1-9 1-23 1-2 1 31 1-8 1-16 1 9 1 0 1 13 1-1 1-8 1-20 1 23 1-5 1 37 1-24 1-26 1 16 1 19 1-25 1 11 1 24 1-18 1 3 1-3 1-31 1-3 1-2 1 22 1-20 1 38 1-11 1-20 1 3 1 39 1-34 1 3 1-5 1-6 1 4 1-1 1 9 1-10 1-13 1 23 1-6 1-12 1 5 1-9 1 6 1 9 1-22 1 3 1-18 1 13 1-7 1-44 1 21 1 0 1-37 1-11 1-27 1-10 1-6 1 9 1 22 1-39 1 33 1 0 1 0 1 8 1 8 1 15 1 14 1 18 1 30 1-3 1 20 1-7 1-15 1-21 1 37 1 12 1-4 1-5 1 5 1-3 1 22 1-14 1 17 1-1 1-3 1 25 1-40 1-3 1 35 1-3 1-12 1 13 1-11 1 2 1 3 1 6 1 12 1 4 1-30 1 48 1-70 1 50 1-10 1-16 1 8 1 24 1-25 1 20 1-7 1 10 1 0 1-41 1 26 1 24 1-34 1 6 1 15 1 18 1-15 1-36 1 30 1 20 1-8 1-6 1-25 1 25 1-38 1 14 1 27 1-4 1-35 1 35 1-22 1-6 1 6 1-1 1-45 1 8 1-18 1 18 1-6 1-3 1 30 1-9 1 28 1 10 1-17 1 16 1 22 1-24 1 12 1-7 1-36 1 40 1-33 1 21 1-30 1 26 1 28 1-23 1-21 1 31 1-7 1-14 1 28 1-16 1 16 1-17 1 26 1-31 1 28 1-18 1-1 1 4 1-26 1 24 1 27 1-36 1 7 1 23 1 3 1-42 1 37 1-2 1-13 1 5 1 30 1-39 1 10 1 9 1 8 1 3 1-19 1 16 1-20 1 4 1-16 1 12 1-12 1 2 1 19 1-23 1 22 1 4 1 6 1-18 1-4 1 26 1-7 1-14 1-7 1 18 1 0 1-16 1-32 1 27 1 13 1-11 1 4 1 4 1 11 1-31 1 50 1-41 1 6 1-22 1 11 1 11 1-44 1 52 1-36 1 16 1-5 1-11 1-7 1 26 1-15 1 2 1-4 1-40 1-10 1 27 1-45 1-55 1 23 1-14 1-3 1-22 1 45 1 24 1 23 1 24 1-10 1 27 1-30 1 25 1-17 1 29 1-10 1 38 1-10 1-18 1 10 1 13 1-7 1-11 1 24 1-24 1 12 1-11 1 17 1 4 1-14 1 35 1 6 1-41 1 8 1-3 1-20 1 38 1-18 1 1 1-3 1 14 1-12 1-1 1-5 1-1 1 0 1-4 1 0 1 7 1 7 1 11 1-26 1 19 1-4 1 3 1-11 1-7 1 3 1 22 1-26 1-11 1 12 1 9 1-4 1-11 1-16 1-1 1 13 1-32 1 0 1-18 1 7 1-16 1-21 1-55 1-17 1-25 1-19 1-29 1 1 1-24 1 14 1 19 1 41 1 22 1 43 1 11 1 45 1 4 1-11 1 19 1 23 1-7 1 1 1 24 1-15 1 24 1-4 1 13 1 1 1-10 1-1 1 1 1-5 1 16 1-22 1 11 1 10 1 15 1 8 1 5 1-15 1-1 1-16 1 3 1 9 1-2 1 14 1-21 1 8 1 9 1 2 1 12 1-45 1 17 1 6 1 0 1 6 1-19 1 25 1-13 1-2 1 10 1-7 1 7 1-9 1-3 1 18 1-9 1 15 1-17 1-12 1 5 1-6 1 9 1 22 1-25 1 13 1 11 1-25 1 4 1 7 1 8 1 4 1-16 1-4 1 3 1-4 1-1 1 2 1-17 1 20 1-8 1 1 1-10 1 27 1-12 1 9 1-9 1 9 1-3 1 16 1-22 1 5 1 23 1-21 1 11 1-23 1 8 1-5 1 19 1-5 1 0 1 17 1-27 1-6 1 21 1-26 1 14 1-13 1 11 1 6 1-11 1 0 1 1 1-21 1 3 1-8 1 16 1-8 1 9 1-19 1-22 1 20 1-15 1-4 1-17 1 25 1 2 1 18 1 1 1-8 1 44 1-24 1-6 1-14 1 5 1-5 1 6 1 20 1 0 1-3 1 1 1-11 1 4 1 5 1-7 1 14 1 1 1-37 1-13 1 10 1-20 1-4 1-6 1-27 1 34 1 9 1-15 1 34 1-4 1 7 1 5 1 9 1 9 1 19 1-1 1 2 1-13 1 9 1 13 1-13 1 1 1-7 1 4 1 14 1-24 1-3 1 7 1 10 1-17 1 9 1 6 1 14 1-14 1 8 1-5 1-13 1 12 1-24 1 0 1 16 1-15 1 10 1-18 1-4 1-15 1-11 1-17 1-9 1-7 1 19 1 15 1 7 1-11 1 21 1 20 1-6 1 23 1-3 1-24 1 24 1 0 1 8 1 17 1-36 1 49 1-26 1-7 1-16 1 13 1 11 1-48 1 44 1-20 1 20 1-10 1-3 1 21 1-32 1-6 1 12 1-40 1 7 1-17 1 17 1-15 1 2 1 6 1 50 1-6 1 5 1 20 1-23 1-3 1 3 1-4 1 12 1-4 1-7 1 13 1-15 1 1 1 5 1 6 1-15 1 6 1-12 1 6 1 5 1-29 1 2 1-39 1 20 1 12 1-37 1-9 1-10 1 0 1 14 1-18 1-13 1 56 1-24 1 15 1 10 1 4 1 23 1-23 1-4 1 8 1 37 1-2 1 17 1-7 1 27 1-42 1 21 1 2 1 1 1 20 1-25 1 12 1 12 1-11 1 22 1-15 1-11 1-8 1 20 1 3 1-33 1 32 1-12 1 6 1-19 1 20 1 4 1-11 1-1 1 0 1-5 1 24 1-12 1 14 1-12 1-6 1 9 1-19 1 8 1 22 1-15 1 17 1-31 1 26 1 8 1-14 1 2 1 10 1-7 1-2 1-3 1 0 1-2 1 2 1-6 1 3 1-1 1-11 1 11 1-13 1-7 1 17 1-1 1 0 1 18 1-29 1 17 1 10 1-16 1-18 1 11 1-9 1 25 1-23 1 14 1-10 1-27 1 3 1 14 1-5 1-17 1 1 1-9 1 12 1-15 1-18 1 3 1-10 1-19 1-12 1-32 1-12 1-54 1-24 1-54 1-33 1-49 1-17 1-41 1-29 1 24 1 15 1 54 1 51 1 32 1 68 1 45 1 17 1 44 1-19 1 26 1 15 1 22 1 7 1-6 1 18 1 2 1-9 1 9 1-15 1 7 1-17 1 30 1-20 1 4 1 11 1-1 1-9 1 6 1-8 1 7 1-2 1 9 1-8 1 3 1-16 1 6 1-24 1 17 1 19 1-2 1-6 1-5 1-16 1 9 1 11 1 11 1-10 1 6 1 10 1-4 1 18 1-1 1 3 1 15 1 1 1-1 1-8 1-21 1 29 1 0 1 1 1 6 1-19 1 21 1 0 1-1 1 12 1 28 1-17 1-12 1-8 1-15 1-7 1 24 1-2 1-11 1 14 1-7 1 8 1-2 1-1 1 33 1-37 1 18 1 6 1-12 1-1 1 2 1-12 1 22 1-14 1 17 1-1 1-15 1 0 1 11 1-13 1 23 1-38 1 4 1 29 1-3 1-6 1-11 1-15 1-1 1-3 1 17 1 0 1 3 1 1 1 4 1 11 1-28 1 10 1 20 1 7 1-14 1-17 1 24 1 18 1-36 1-7 1 7 1-2 1-2 1 14 1 6 1-14 1 19 1-14 1 9 1-2 1-3 1-4 1-9 1 15 1 2 1-25 1 5 1 8 1-1 1-18 1 34 1-13 1 4 1 16 1-12 1-7 1 2 1-2 1 14 1-6 1 11 1-12 1-17 1 14 1-6 1 10 1-10 1 9 1-17 1-1 1 12 1-18 1 16 1 2 1-22 1 31 1-8 1-26 1 7 1-9 1 12 1 6 1-3 1 20 1-3 1-25 1 11 1-10 1 19 1-34 1-8 1 28 1-9 1-2 1-13 1 8 1-5 1-4 1 17 1-12 1 20 1-11 1 6 1 7 1-3 1 0 1-6 1 10 1 25 1-2 1-24 1 15 1-4 1 4 1 4 1-5 1 18 1-6 1-4 1 0 1 3 1-21 1-6 1 14 1-13 1 5 1-9 1 17 1 17 1 4 1-22 1 2 1 22 1-13 1 0 1-15 1 10 1-29 1 10 1 23 1-47 1 46 1 19 1-24 1-17 1 3 1 8 1 3 1 15 1-11 1 1 1 9 1 16 1-33 1 6 1 7 1-12 1 6 1 6 1-24 1 23 1-30 1 16 1 20 1 3 1-29 1 8 1 11 1 12 1 6 1-19 1-8 1 15 1-22 1 20 1-5 1-10 1 5 1 6 1-1 1 2 1-11 1 3 1 2 1-13 1 26 1-16 1-16 1 18 1-3 1-1 1 16 1-4 1-10 1 10 1-14 1 5 1-18 1 23 1 22 1-22 1-12 1 18 1-34 1 21 1 4 1-6 1 5 1-2 1 8 1 13 1-20 1 2 1-9 1 23 1-4 1-6 1 13 1 11 1-22 1 22 1-21 1 11 1 11 1-28 1 1 1 28 1-26 1 9 1-24 1 13 1-9 1 21 1-10 1 20 1-28 1 26 1-21 1 1 1-2 1 32 1-30 1-3 1 7 1 24 1-8 1-12 1-6 1-14 1 27 1 9 1-14 1-35 1 9 1 20 1-8 1-14 1 3 1 25 1 20 1-17 1-36 1 31 1-9 1 4 1 10 1-30 1 13 1 12 1 3 1-5 1 19 1-29 1 5 1-3 1 25 1-25 1 5 1 1 1-3 1 2 1 0 1-39 1 33 1 3 1 10 1 10 1-34 1 35 1-16 1-5 1 5 1-9 1 9 1-2 1 2 1-11 1-2 1-7 1 11 1-13 1-16 1 30 1 6 1-24 1 20 1 20 1-32 1 16 1-9 1 14 1-5 1 18 1-14 1 0 1-8 1-26 1 29 1-4 1-13 1 11 1 9 1 6 1-16 1-6 1 19 1-15 1 12 1-8 1 13 1-20 1 32 1-31 1-15 1-23 1 53 1 1 1-26 1 22 1 6 1 8 1-53 1 30 1 6 1-16 1 8 1-11 1-5 1 9 1-7 1 17 1-32 1-1 1 9 1-11 1 5 1-14 1 2 1-24 1-14 1-6 1 13 1-23 1-12 1-4 1-9 1-5 1 0 1 38 1 2 1 15 1 12 1-13 1 17 1 3 1 24 1 4 1-6 1 5 1 19 1-19 1 16 1 0 1 1 1-1 1 3 1-6 1 10 1 9 1-21 1 1 1 5 1 12 1-11 1 7 1 1 1-9 1 8 1-24 1 7 1 10 1 20 1-23 1 7 1-29 1 3 1 3 1 14 1 4 1 1 1-24 1-12 1-3 1-14 1 3 1 27 1-22 1 33 1-19 1-10 1 25 1-14 1 9 1 20 1 24 1-31 1-15 1 13 1 13 1-25 1 54 1-5 1-31 1-7 1 16 1 20 1 0 1 0 1-23 1 14 1 0 1-13 1 28 1-4 1-14 1-29 1 16 1 22 1-28 1 12 1 30 1-30 1 22 1-9 1-3 1-9 1 22 1-8 1-25 1 5 1 27 1-23 1 13 1-1 1-15 1 45 1-16 1-30 1 22 1-3 1-10 1-10 1 8 1 7 1 3 1-10 1 34 1-27 1 7 1-10 1 8 1-2 1-2 1-5 1 29 1-37 1 16 1 27 1-29 1 14 1 2 1-3 1 7 1 7 1-13 1-22 1 20 1-5 1-5 1 14 1-26 1 12 1 20 1-12 1-13 1 12 1 18 1-23 1-14 1-11 1 50 1-41 1 8 1 2 1-6 1 1 1-4 1 15 1-15 1 9 1-10 1 6 1-1 1-5 1 20 1-24 1 13 1 7 1 8 1-4 1 1 1-16 1-2 1 12 1-1 1-13 1 21 1-16 1 0 1 8 1 16 1-26 1-18 1 11 1 21 1-31 1-7 1 8 1 3 1 5 1-34 1 8 1-41 1-6 1-26 1-41 1-25 1 36 1-32 1 24 1-6 1 35 1 16 1 16 1 41 1 4 1-13 1 29 1 2 1 34 1-30 1 10 1-7 1 27 1-12 1-16 1 8 1 15 1 5 1-3 1-13 1-7 1 48 1-32 1 8 1-2 1-15 1-6 1 31 1-12 1-5 1 16 1-14 1-34 1 38 1-29 1 31 1 12 1-11 1 9 1 9 1-34 1-4 1-4 1 31 1-31 1 38 1-17 1-5 1-17 1 36 1-51 1 51 1-10 1 21 1-31 1 5 1-4 1 24 1-14 1 4 1 18 1-24 1-5 1-6 1 13 1 16 1-15 1-32 1 10 1-1 1 25 1-34 1 13 1 3 1 1 1 10 1 17 1-18 1 17 1-20 1-1 1 5 1 13 1-19 1-19 1 51 1-38 1 0 1-7 1 44 1-11 1-12 1-15 1-30 1 39 1-22 1-3 1 23 1 2 1-29 1 11 1 4 1-11 1 22 1 3 1-3 1-42 1 22 1 9 1-18 1-3 1-17 1-11 1 13 1-13 1-5 1 23 1-25 1-18 1 0 1 4 1-22 1-19 1 20 1 10 1-26 1 0 1 35 1-17 1 8 1 51 1-37 1 14 1 9 1-11 1 24 1-2 1-3 1-5 1 28 1-12 1 1 1-13 1 24 1 8 1-12 1 29 1-28 1-5 1 10 1 31 1-8 1 0 1-16 1 3 1 0 1 17 1-14 1 11 1-2 1-3 1 10 1-7 1 0 1 16 1-12 1 9 1-16 1-8 1 24 1-32 1 4 1 26 1-6 1-10 1-7 1 31 1-9 1 16 1-30 1 5 1-9 1 13 1 18 1-4 1-9 1-7 1 10 1-13 1-6 1 16 1-12 1 9 1 9 1-30 1 14 1-7 1 10 1-3 1 31 1-24 1-1 1-3 1 3 1 21 1-11 1 3 1-10 1 2 1-1 1 20 1-39 1 23 1 13 1 0 1-29 1 14 1-8 1 28 1-28 1 14 1-4 1 5 1-30 1 8 1 19 1-27 1 8 1 6 1 9 1-4 1-6 1 8 1-2 1-7 1 20 1-27 1 21 1 4 1-1 1-11 1 13 1-18 1 36 1-43 1-4 1 20 1-17 1 17 1-14 1-2 1 4 1 10 1-14 1 39 1-12 1-18 1 15 1-12 1 4 1-18 1-1 1 19 1 9 1-17 1-4 1 23 1-2 1-4 1 3 1 1 1 19 1-43 1 4 1-4 1-2 1-5 1 35 1-40 1 24 1 13 1-17 1-15 1 11 1-5 1 15 1-6 1-6 1-10 1 4 1 25 1-25 1 19 1-23 1-4 1 5 1 6 1-10 1-9 1-7 1-9 1 7 1 9 1 7 1-38 1 30 1-12 1-5 1-4 1 20 1-8 1 16 1-14 1 18 1 11 1 24 1-61 1 47 1 19 1-11 1-22 1 12 1 20 1-1 1-19 1 21 1-2 1-9 1-27 1 27 1-14 1 2 1 19 1 11 1-13 1 2 1-12 1 38 1-35 1 4 1-6 1 6 1 5 1-17 1 15 1 3 1-7 1-3 1-26 1 43 1-7 1-36 1 10 1-1 1 31 1-18 1 18 1-15 1-9 1-2 1 7 1-16 1 36 1 15 1-35 1-11 1 33 1-17 1 0 1 10 1-34 1 41 1 2 1-7 1-15 1-2 1-19 1 7 1 25 1-1 1-5 1 1 1-22 1 27 1-5 1-16 1-12 1 19 1-5 1-1 1 12 1 6 1 0 1-2 1-12 1 9 1-1 1-19 1-1 1 29 1-23 1 23 1-22 1 20 1-12 1 25 1-25 1-3 1 13 1-8 1 13 1-3 1 11 1-6 1-2 1-9 1 17 1-1 1-16 1-4 1 2 1 3 1-2 1-12 1-28 1 40 1-5 1 25 1-26 1-4 1 5 1-9 1-9 1-1 1 17 1 1 1-13 1 3 1 38 1-14 1-12 1-4 1 8 1 5 1-15 1 29 1-6 1 2 1-23 1-6 1 19 1-4 1 6 1-32 1 17 1 9 1 11 1-3 1-8 1-8 1-6 1 4 1 1 1 26 1 5 1-31 1 15 1 6 1 2 1 18 1-21 1-24 1 5 1 35 1-14 1-13 1-9 1 21 1-36 1 26 1-7 1 26 1-26 1 28 1-22 1-14 1-1 1 24 1-9 1-9 1 0 1 8 1-36 1 28 1-3 1-6 1 6 1-6 1 7 1 3 1 12 1-8 1 29 1-20 1-7 1-6 1-12 1 23 1-7 1-18 1 31 1-28 1 15 1 9 1 3 1-16 1 12 1 6 1-32 1 16 1 5 1-14 1-29 1 14 1 4 1 41 1-34 1-7 1-4 1-12 1 11 1-7 1 26 1-57 1 43 1-38 1-1 1 8 1-2 1-17 1 18 1 12 1 5 1-10 1 0 1 26 1-23 1 19 1 2 1 8 1-12 1-3 1 22 1 7 1-8 1-19 1 4 1-4 1 16 1 0 1 16 1-27 1-8 1 18 1 9 1 4 1-1 1 29 1-15 1 1 1-18 1 8 1-8 1 22 1 3 1-16 1 24 1-10 1-3 1-39 1 4 1 2 1 0 1 9 1 19 1-22 1 2 1 12 1 21 1-20 1 20 1-20 1 17 1-32 1 3 1-4 1 28 1-25 1-4 1 19 1-12 1 17 1-6 1 6 1-21 1-3 1 15 1 2 1 14 1-1 1-31 1 36 1-23 1 3 1 0 1 5 1-7 1-8 1 9 1 1 1 5 1 1 1-6 1-17 1 10 1 23 1-25 1 43 1-21 1-4 1 7 1-4 1-13 1 1 1-6 1 8 1 3 1-30 1 8 1 20 1 12 1-20 1 20 1-17 1 3 1 6 1 10 1-9 1-18 1 4 1-6 1 17 1-11 1-12 1 27 1-20 1 20 1-20 1 14 1 3 1-11 1-8 1 15 1-4 1 2 1 16 1-9 1-12 1 13 1-11 1 18 1 1 1-18 1 12 1-33 1 21 1-12 1 14 1 41 1-48 1 12 1-9 1 38 1-16 1-16 1 9 1 6 1-13 1-4 1-13 1 24 1-2 1 7 1 0 1 13 1-26 1 14 1 3 1-6 1-17 1 4 1 5 1 11 1-8 1-23 1 35 1-20 1-7 1 1 1 15 1-16 1 9 1 8 1-2 1 2 1-26 1 15 1 13 1 12 1-36 1 17 1-6 1 4 1 1 1 3 1 11 1-8 1-3 1-22 1 13 1 2 1 0 1 16 1-20 1 10 1-9 1 31 1-15 1 7 1-23 1-2 1-4 1 6 1 4 1 20 1-16 1 8 1-16 1 9 1-8 1-7 1 7 1-11 1 28 1-17 1 0 1 9 1-1 1-6 1-5 1-10 1 5 1 22 1-14 1-3 1 27 1-19 1 14 1 5 1-17 1 3 1 10 1-18 1-2 1 22 1-17 1 15 1-7 1-23 1 9 1-2 1 9 1 6 1-4 1 4 1 0 1-30 1 21 1 16 1-19 1-4 1-33 1 35 1 7 1-8 1 22 1-20 1-13 1 16 1-12 1 19 1 9 1-14 1-1 1 9 1-16 1 19 1-32 1-4 1 21 1-2 1 22 1-23 1 10 1 13 1-18 1-2 1 1 1 20 1-14 1-5 1-5 1-9 1 10 1 9 1 13 1-17 1-13 1 17 1-16 1 19 1-10 1 12 1-6 1-17 1 11 1-3 1 25 1-53 1 39 1 14 1-24 1 27 1-4 1-22 1 8 1-15 1 14 1 12 1-18 1 11 1-16 1 23 1 20 1-57 1 34 1-15 1 19 1-7 1-16 1 8 1-11 1 11 1-3 1 25 1-29 1-7 1 20 1-9 1 4 1 2 1 8 1-24 1 23 1-9 1 17 1 0 1-38 1 26 1 12 1-51 1 36 1 4 1-7 1-2 1 7 1 0 1-12 1-4 1 26 1-31 1 40 1-23 1-6 1 15 1 7 1-5 1-27 1 31 1-26 1-4 1 30 1-7 1 0 1 17 1-20 1-2 1-14 1 13 1-21 1 3 1 10 1 3 1 16 1 7 1-22 1 19 1-12 1 22 1-10 1-2 1-26 1-2 1 27 1-8 1-17 1 6 1 7 1 3 1-17 1 10 1 34 1-42 1 21 1 1 1 0 1 7 1-13 1-27 1 31 1-9 1 3 1-21 1 39 1-22 1 0 1 2 1-14 1 29 1-9 1-33 1 18 1-8 1-9 1 15 1 8 1 9 1 3 1-7 1-13 1 21 1 0 1 4 1-12 1 13 1-15 1 24 1-21 1-8 1 14 1-9 1 9 1-5 1 3 1-7 1-6 1 7 1 2 1 27 1-41 1 16 1-11 1 19 1 1 1-17 1 3 1 1 1 0 1-3 1 15 1 3 1-20 1-11 1 33 1-21 1 15 1-14 1-8 1 4 1 6 1 1 1-12 1 8 1 1 1 6 1-17 1 24 1-21 1 3 1 10 1 5 1-11 1 6 1 10 1-31 1 28 1-3 1-12 1-7 1 25 1-38 1 19 1 21 1-31 1 23 1-3 1 16 1-25 1-4 1 7 1 1 1 1 1 13 1-15 1 29 1-29 1 7 1 11 1-19 1-6 1 16 1-16 1 5 1-2 1-4 1 12 1 3 1 3 1-8 1 31 1-30 1-3 1-1 1-4 1-9 1 14 1-20 1 32 1-14 1 8 1-14 1-8 1 33 1-16 1-10 1 23 1-9 1-9 1 1 1 20 1-17 1-13 1 24 1 2 1-18 1 5 1-25 1 31 1 15 1-28 1 8 1-2 1-16 1 16 1-3 1 17 1-33 1 42 1-25 1 15 1-20 1 0 1 10 1 22 1-2 1-7 1-15 1-2 1-11 1 10 1 14 1-37 1 9 1 21 1 9 1-10 1-4 1 15 1-7 1 6 1-10 1-12 1 20 1-20 1 10 1-7 1 11 1-3 1 22 1-13 1 6 1-15 1 11 1-35 1 25 1 12 1-22 1 14 1 18 1-31 1 3 1 12 1 18 1-42 1 13 1 9 1-17 1 7 1 7 1-12 1 12 1-19 1 12 1-4 1 14 1-21 1 6 1-1 1 22 1-26 1 21 1-18 1 20 1-7 1 7 1-10 1 1 1 4 1-15 1 7 1 10 1-34 1 30 1-6 1 21 1-22 1 6 1-6 1-7 1 15 1-4 1-7 1 28 1-31 1 14 1 11 1 4 1-7 1-15 1-10 1 16 1-21 1 32 1-3 1-17 1 0 1 15 1-4 1-16 1 22 1-11 1 18 1-9 1-8 1-5 1 15 1-10 1-11 1 2 1 21 1-28 1 13 1 5 1-33 1 46 1-28 1 12 1 14 1-9 1-10 1-1 1-5 1 19 1 2 1 2 1 10 1-34 1 31 1-21 1 7 1-5 1 1 1 6 1-4 1 13 1-9 1 6 1 12 1-6 1 0 1-6 1-3 1-21 1 32 1-9 1-6 1 1 1 5 1-13 1 30 1-5 1-9 1-13 1 2 1-1"/>
<path transform="translate(164.00 0) scale(0.52560 0.1)" vector-effect="non-scaling-stroke" fill="none" stroke="#000000" stroke-width="2.3" stroke-linejoin="round" d="M0 14907l1 15 1 22 1-75 1 9 1 13 1-11 1 20 1-40 1 22 1-49 1 91 1-77 1 41 1 27 1-7 1 40 1-55 1-17 1 46 1-22 1-3 1-35 1 65 1-22 1 2 1-38 1 88 1-96 1 93 1-74 1 27 1 12 1-34 1-5 1 41 1-5 1-53 1 75 1-43 1 31 1-42 1 15 1-6 1-3 1 11 1 14 1 26 1-31 1-26 1 32 1 1 1-14 1 19 1-34 1 12 1-2 1-4 1 10 1-13 1 36 1-27 1 23 1-29 1-23 1 47 1-29 1 3 1 1 1-9 1 11 1 26 1 41 1-28 1-51 1 4 1 7 1 57 1-26 1-91 1 27 1-7 1 35 1 17 1-45 1 2 1 19 1 7 1 10 1 4 1 11 1-43 1 37 1-8 1-18 1 20 1 0 1 18 1 19 1-36 1-2 1 32 1-49 1 32 1-35 1 75 1-98 1 10 1 48 1-26 1 2 1-15 1 28 1-10 1 23 1 37 1-48 1 6 1 7 1-43 1 23 1 23 1-41 1 20 1 33 1-73 1 71 1 11 1-44 1 21 1-12 1 21 1 4 1-11 1 52 1-78 1 83 1-45 1-44 1 20 1 46 1-29 1 20 1-42 1-3 1-10 1 5 1-13 1 0 1 18 1-13 1 27 1-1 1-27 1 37 1-34 1 44 1-30 1 13 1-36 1-4 1 43 1 14 1-39 1-29 1 23 1 30 1-37 1 26 1-18 1 36 1-12 1 29 1-33 1 11 1-17 1 15 1-17 1 7 1-17 1 12 1 30 1-24 1-3 1 32 1-59 1 46 1-16 1 27 1-30 1 40 1-39 1 21 1 9 1-45 1-1 1 13 1 2 1 26 1-28 1-45 1 74 1-62 1 50 1-59 1 71 1-28 1 28 1-30 1-15 1-30 1 40 1 18 1-27 1 8 1 54 1-81 1 65 1-14 1-24 1 46 1-62 1 55 1-44 1 65 1-31 1-45 1 26 1 8 1-18 1-12 1 21 1 37 1-13 1 9 1-7 1-2 1-22 1-9 1 0 1 23 1-33 1 43 1-19 1-2 1 40 1-68 1 2 1 16 1-1 1 40 1-18 1-5 1 29 1-40 1-37 1 46 1-12 1-4 1-46 1 71 1 12 1 23 1-41 1 22 1-13 1-2 1-12 1 51 1-81 1 17 1 52 1-47 1 14 1 27 1-108 1 100 1 9 1-18 1 22 1-66 1 1 1 67 1-3 1-63 1 63 1-27 1-65 1 40 1-10 1-1 1 57 1-16 1-10 1 35 1-33 1 4 1 1 1-10 1-10 1-11 1-24 1 64 1-18 1 21 1 11 1-26 1-6 1-19 1 79 1-63 1 31 1-28 1-18 1 12 1-2 1 61 1-47 1 59 1-6 1-29 1-11 1 1 1 13 1-26 1-28 1 13 1 27 1 21 1-42 1 6 1 34 1-44 1 12 1 36 1-9 1 23 1-34 1-21 1 46 1-11 1-10 1 28 1-21 1-12 1-23 1 25 1 36 1-2 1-37 1 17 1 12 1-27 1-10 1 57 1-30 1-4 1-24 1 29 1 17 1-19 1 55 1-75 1 63 1-21 1-14 1-18 1 2 1-2 1-9 1-52 1 56 1 28 1 0 1-52 1 29 1 31 1 18 1-9 1-13 1-7 1 7 1 58 1-66 1 39 1-61 1 24 1-23 1 37 1-15 1 3 1 23 1 4 1-81 1 68 1-6 1-13 1-34 1 20 1 1 1 33 1-18 1 29 1-23 1-10 1-11 1-12 1-6 1 21 1-2 1 42 1-49 1 35 1-35 1 42 1-11 1 16 1-78 1 29 1 67 1-10 1-39 1 26 1 10 1-37 1 10 1 12 1-31 1 24 1-7 1 0 1 40 1-14 1 1 1-55 1 50 1-25 1 55 1-33 1-16 1-10 1-8 1 43 1-9 1-25 1-2 1 17 1 38 1 14 1-68 1 33 1-34 1 34 1-10 1 0 1-6 1 39 1-35 1-2 1-35 1 40 1-36 1 52 1 26 1-56 1 39 1-34 1 18 1 17 1-17 1 28 1-26 1 21 1-34 1-12 1 18 1 2 1 58 1-39 1 30 1-68 1 1 1-6 1 9 1 20 1-16 1 46 1-15 1-3 1 8 1-3 1 8 1-5 1 51 1-30 1-17 1-30 1-13 1 53 1 9 1-15 1 2 1-10 1-4 1-6 1-47 1 87 1-57 1 11 1-8 1 4 1-15 1 21 1 24 1-59 1 63 1-19 1 3 1 11 1-3 1 21 1-55 1 30 1 16 1-20 1 16 1 6 1-49 1 46 1-11 1 7 1-33 1 43 1-45 1 37 1 34 1-52 1 20 1 24 1-62 1 12 1-6 1 0 1 51 1-16 1-26 1-20 1 15 1 8 1 7 1 2 1 12 1 48 1-43 1-25 1 74 1-61 1-6 1-17 1 74 1-37 1-48 1 67 1-39 1 36 1 6 1-61 1 36 1-26 1 13 1 11 1 32 1-7 1 1 1 3 1-34 1 4 1 4 1-25 1 24 1 32 1 21 1-34 1-57 1 66 1-3 1-42 1 60 1-80 1 41 1 24 1-46 1 17 1 16 1-6 1-40 1 69 1-62 1 31 1 20 1-13 1 22 1 3 1 7 1-16 1 25 1-63 1 59 1 37 1-81 1-6 1 23 1-26 1-1 1 2 1 25 1 14 1 9 1-57 1 33 1 34 1-16 1 11 1-21 1-13 1-45 1 27 1 36 1-10 1 8 1-34 1-8 1 14 1 66 1-12 1-18 1 3 1-18 1-20 1 2 1 2 1 27 1-4 1-18 1 30 1 54 1-67 1 31 1-39 1 6 1 17 1-16 1 31 1-23 1-6 1-6 1-10 1 28 1 14 1 23 1-63 1 21 1 23 1-47 1 45 1-32 1 11 1-42 1 3 1 66 1-35 1 13 1-1 1-5 1 6 1 21 1-47 1 39 1-13 1-6 1-14 1-4 1-9 1-17 1 33 1 25 1-20 1 18 1-30 1 9 1-13 1 6 1 63 1-43 1-52 1 4 1-42 1-22 1 8 1 48 1 25 1 12 1-2 1-5 1 22 1-15 1 0 1-34 1 49 1-38 1 64 1-25 1-17 1 24 1 25 1-49 1 34 1 17 1 16 1-8 1-73 1-4 1 43 1-31 1 49 1-10 1 17 1 7 1 2 1-38 1 9 1-25 1 36 1 9 1-17 1-3 1 10 1 14 1-7 1-18 1-35 1 40 1 16 1-7 1-36 1-3 1-13 1 17 1 31 1-18 1 13 1 0 1 2 1-6 1 27 1 9 1-65 1 57 1-5 1 19 1-58 1 23 1 16 1-3 1-26 1-19 1 30 1 6 1-15 1-15 1-1 1-2 1 5 1 34 1 8 1-27 1 14 1 26 1-28 1-23 1-9 1 40 1-46 1 9 1 23 1 23 1 4 1-48 1 7 1-4 1 1 1 31 1-4 1-15 1 15 1 10 1-36 1 30 1-1 1 6 1-34 1 4 1 14 1-25 1 15 1-4 1-5 1 1 1 37 1-21 1-10 1 12 1 5 1 22 1-44 1 9 1 39 1-37 1 31 1-31 1-9 1 22 1-10 1 24 1-27 1 34 1-6 1-3 1-14 1 58 1-71 1-31 1 46 1 36 1-31 1 1 1-28 1 14 1 6 1-10 1-7 1 28 1 1 1 10 1-43 1 14 1-12 1 54 1-37 1 24 1 4 1-61 1 26 1 6 1 0 1-20 1 26 1 1 1-8 1-30 1 1 1 66 1-18 1-18 1-12 1 28 1-21 1 16 1-4 1-23 1 39 1-20 1-16 1-66 1 20 1 26 1-30 1 34 1 50 1-47 1-35 1 64 1 21 1-36 1-25 1 29 1 12 1 2 1-19 1-45 1 49 1 37 1-30 1 18 1-24 1 25 1 10 1-42 1 28 1 17 1-40 1 50 1-56 1-11 1 34 1 30 1-32 1 14 1-26 1-3 1 27 1-11 1-6 1-8 1-24 1 42 1-25 1 22 1 16 1-24 1 43 1-48 1 18 1-24 1 9 1 26 1-27 1 15 1 6 1-35 1-11 1 21 1-1 1 30 1-48 1 30 1-10 1 6 1-2 1 1 1-25 1 1 1 11 1 27 1-7 1-26 1-22 1 14 1-35 1-33 1 7 1 8 1-3 1-8 1 45 1-15 1 61 1-17 1 36 1-8 1-17 1 24 1-19 1 31 1-12 1 6 1-38 1 35 1 1 1-1 1 22 1 14 1-27 1 29 1-20 1-15 1 12 1 10 1-21 1 38 1-33 1-27 1 45 1-8 1-73 1 78 1-10 1-17 1 20 1 16 1-26 1 20 1-4 1-11 1-15 1 7 1 29 1-42 1 46 1-11 1 19 1-55 1 32 1-2 1 12 1-43 1-7 1 26 1 21 1-36 1 14 1-4 1 25 1-31 1-13 1 15 1 10 1-13 1 31 1-11 1-5 1 0 1 5 1-39 1 30 1 52 1-51 1-26 1 11 1-5 1 39 1-39 1 27 1-55 1 31 1 36 1 0 1-42 1-3 1 0 1 2 1-14 1 40 1-41 1 13 1 2 1 19 1-27 1-24 1 0 1 24 1-58 1 22 1-5 1-17 1 0 1-23 1-63 1-45 1-36 1-113 1-49 1-96 1-51 1-82 1 78 1 38 1 111 1 56 1 126 1 24 1 20 1 33 1 50 1 6 1 36 1 20 1 17 1-12 1-38 1 54 1 1 1 27 1-53 1 28 1-37 1 19 1 10 1-21 1-21 1 34 1 10 1-10 1 6 1-33 1 34 1 24 1-28 1 29 1-22 1-38 1 4 1 11 1 1 1-3 1-10 1 10 1-14 1-5 1 24 1 2 1-53 1 14 1 14 1-8 1-1 1-20 1 17 1-16 1 9 1-28 1-34 1-20 1 7 1 14 1-9 1 26 1-42 1 57 1-7 1 50 1-6 1-4 1 17 1-24 1-24 1-9 1-3 1-27 1-3 1 5 1 2 1 60 1 5 1 7 1-14 1 31 1 10 1-15 1 46 1-15 1-11 1 26 1-7 1-16 1-19 1-5 1 29 1-18 1-36 1-25 1-38 1-27 1-29 1-55 1-45 1-19 1-21 1 6 1 43 1 52 1 8 1 56 1 21 1-11 1 47 1-53 1 21 1 26 1-55 1 40 1 9 1-11 1 4 1 17 1 16 1 17 1-12 1 42 1-9 1 46 1-18 1 33 1-31 1 24 1 11 1 18 1-30 1 13 1 10 1 5 1 8 1-21 1 12 1-6 1-1 1-3 1 42 1-27 1-8 1 37 1-26 1 9 1-14 1 7 1 8 1-11 1-22 1 41 1-45 1 32 1 0 1 19 1 15 1-28 1-8 1 12 1 12 1-22 1 10 1 12 1 5 1-9 1 8 1-29 1-8 1 27 1 27 1-42 1-13 1 13 1 25 1 19 1-29 1 15 1-6 1 9 1-33 1 8 1 9 1-16 1-5 1 5 1 22 1 3 1-31 1 29 1 18 1-31 1-6 1 24 1-16 1 10 1-8 1-15 1 19 1-14 1 12 1-7 1 32 1 6 1-46 1 38 1-29 1-16 1 1 1-1 1 40 1-15 1 4 1-26 1-7 1 21 1 46 1-24 1-22 1-10 1 12 1-3 1-17 1 21 1-15 1-7 1 25 1 6 1-3 1-7 1 3 1-22 1 12 1-31 1 41 1 19 1-15 1 14 1 3 1-21 1-6 1 18 1 1 1-11 1 23 1-13 1-17 1 17 1-31 1 46 1-30 1-4 1-13 1 17 1-41 1-4 1 6 1-1 1-25 1-9 1 23 1 2 1-31 1 36 1-33 1 0 1 34 1-18 1 7 1 18 1-3 1 45 1-49 1 39 1 3 1 25 1-23 1 0 1-14 1 17 1-7 1 33 1-28 1 14 1-50 1 38 1-11 1 15 1 11 1-14 1-2 1-38 1 34 1-3 1 5 1-17 1-16 1 1 1-3 1 17 1-18 1-27 1-16 1 55 1-19 1-1 1-20 1 32 1 9 1-10 1 9 1 6 1-1 1 14 1-6 1 24 1-8 1 2 1-17 1 26 1-28 1 26 1-7 1 1 1 1 1 15 1-12 1-7 1 39 1-47 1 9 1 1 1-1 1 4 1 6 1 14 1 4 1-29 1-16 1 22 1 2 1-4 1-11 1 20 1 27 1 0 1-28 1 3 1-11 1 5 1-25 1 43 1-11 1-20 1 13 1-12 1 32 1-3 1-35 1 30 1-14 1-12 1 26 1-20 1-10 1-9 1 37 1 3 1-7 1-18 1 13 1-34 1 29 1-5 1-13 1 45 1-48 1 8 1 16 1-10 1-28 1 12 1 0 1 30 1-40 1 14 1-28 1 15 1-12 1-8 1 17 1 0 1 11 1-48 1 65 1-21 1-11 1 34 1 8 1-32 1 39 1-22 1 37 1-23 1 5 1 7 1-14 1-13 1 26 1-4 1-22 1 22 1-39 1 32 1 13 1-14 1-3 1-1 1 19 1-19 1 26 1-5 1-30 1 5 1 15 1-6 1-7 1 0 1 21 1 14 1-4 1-35 1 23 1-12 1-19 1 32 1 5 1 14 1-4 1-21 1 17 1-8 1 13 1-4 1-18 1 24 1-24 1 20 1-15 1-15 1 30 1-17 1 9 1-8 1-29 1 11 1 16 1 3 1-19 1 13 1-2 1 15 1 9 1-27 1 26 1-15 1-3 1 13 1-20 1 20 1 6 1-32 1 31 1-4 1-31 1 10 1 33 1-12 1-26 1-17 1 38 1-16 1 30 1-16 1 7 1-17 1 10 1 7 1 17 1-32 1 29 1-38 1 8 1 24 1-36 1 6 1 28 1-9 1-37 1 25 1-27 1 18 1 26 1-14 1-14 1-6 1-6 1 25 1-6 1 21 1-10 1-4 1-11 1 10 1 22 1-18 1-6 1 6 1 4 1 1 1-12 1-5 1-7 1 9 1 19 1-1 1-4 1-10 1 10 1 12 1-49 1 39 1-7 1 9 1-5 1-21 1-15 1 29 1-5 1 20 1-27 1-7 1 23 1-3 1 9 1-9 1 23 1-28 1-3 1 22 1-13 1-3 1 5 1 1 1-6 1 19 1-35 1 27 1-21 1 33 1-21 1 12 1-5 1-18 1 18 1-15 1-14 1 30 1-12 1-16 1 27 1 6 1-18 1 5 1-1 1-1 1-11 1 8 1 23 1-11 1 2 1 8 1-20 1 17 1-33 1 15 1-1 1 1 1 7 1 2 1-14 1-8 1 29 1-48 1 44 1-41 1 30 1-10 1-22 1 24 1 12 1 7 1-4 1-3 1-31 1 37 1-6 1-7 1-7 1 13 1 0 1-4 1-7 1-4 1 17 1 0 1 3 1-11 1-7 1 1 1 7 1-17 1 27 1-21 1 26 1-15 1-2 1-11 1-2 1-18 1 24 1-26 1 36 1-25 1 21 1-9 1-8 1-2 1 16 1-17 1 21 1-22 1-10 1 3 1 0 1-21 1 6 1-8 1-46 1 55 1-33 1-2 1-21 1-4 1 8 1-22 1-21 1-32 1-56 1-33 1-51 1-39 1-86 1-79 1-60 1-123 1-30 1-73 1-8 1 64 1 64 1 83 1 94 1 57 1 101 1 64 1 22 1 37 1 50 1-2 1 51 1 26 1 18 1-4 1 25 1-5 1-7 1 23 1 5 1-3 1 10 1 16 1-16 1-3 1 6 1 8 1 2 1-13 1 10 1-6 1 29 1-18 1 10 1 1 1-20 1 6 1 5 1 22 1-1 1-33 1 13 1-7 1 9 1 3 1-13 1 7 1 1 1-2 1 13 1 0 1-7 1-4 1-7 1 9 1-38 1 39 1-12 1 36 1-14 1 10 1-15 1 17 1-40 1 42 1 5 1-12 1-6 1-6 1 25 1-1 1-23 1 2 1 17 1-9 1-11 1 8 1-3 1 4 1-4 1 23 1-29 1 13 1 4 1-3 1-17 1 5 1 1 1 6 1-17 1 2 1-7 1 53 1-16 1-4 1-8 1-8 1 11 1 20 1-29 1 8 1 6 1-14 1 17 1-6 1 12 1-20 1 2 1-11 1 25 1 9 1-5 1 18 1-25 1-6 1 8 1-11 1 17 1 3 1-23 1 1 1 21 1-17 1 2 1 27 1-41 1 10 1-1 1-5 1 10 1-6 1 21 1-15 1-32 1 3 1 3 1-24 1-33 1-6 1-15 1-4 1 48 1-3 1 40 1-1 1-1 1 11 1 10 1-1 1-16 1 40 1-12 1-6 1 3 1 1 1 1 1-20 1 33 1-29 1 27 1 3 1 1 1-10 1 18 1-14 1-5 1 17 1-16 1-4 1-6 1-6 1-2 1 4 1-23 1 22 1-18 1-1 1-4 1-4 1-6 1 0 1-4 1 1 1 6 1 38 1-17 1 5 1 9 1-20 1 20 1 3 1 5 1-13 1 3 1 7 1 4 1 2 1-13 1-5 1 22 1 9 1-26 1 25 1-25 1 20 1 1 1-15 1 2 1-12 1 25 1-33 1 13 1-17 1 19 1 18 1-21 1 10 1-27 1 18 1 7 1-6 1 25 1-35 1 11 1 5 1-9 1-4 1 16 1-7 1-2 1 5 1-3 1 18 1-8 1-18 1 26 1-14 1 24 1-55 1 20 1 2 1 28 1-27 1 14 1 17 1-34 1 10 1 4 1 18 1-20 1-30 1 25 1-7 1-10 1 22 1-21 1 28 1-1 1-6 1 7 1-11 1 19 1-9 1 5 1-16 1 14 1-11 1-23 1 29 1-2 1 2 1-9 1 8 1 0 1 3 1-3 1-1 1 4 1-23 1 39 1 1 1-11 1 4 1-18 1 6 1-10 1 34 1-32 1 15 1 5 1-13 1 5 1-8 1-10 1 32 1-13 1-21 1-7 1 19 1-2 1 4 1-14 1 9 1 38 1-30 1-3 1 33 1-34 1 18 1-30 1 8 1-15 1 28 1-14 1 5 1 9 1-4 1-7 1 7 1 1 1 3 1-12 1-3 1 12 1 5 1-4 1-10 1 32 1-25 1 2 1 11 1-3 1-32 1 16 1-5 1 16 1 0 1-16 1 7 1 11 1-9 1 4 1-17 1-6 1 10 1 21 1-27 1-5 1 12 1 12 1-19 1 6 1 2 1-23 1 8 1 21 1 2 1-14 1-11 1 10 1-11 1-9 1-12 1-25 1-22 1 6 1-14 1-16 1-9 1 6 1-7 1 11 1 3 1 28 1 11 1 14 1-2 1 28 1-5 1 10 1 11 1 8 1-19 1 32 1-5 1 18 1-11 1 5 1-1 1-12 1-8 1 12 1 5 1-3 1-18 1 6 1 20 1-21 1 0 1 26 1-18 1 8 1 2 1-10 1 20 1-11 1-1 1-11 1 12 1 3 1 1 1-4 1 0 1 6 1-1 1-16 1-9 1 51 1-13 1-13 1-31 1 10 1 2 1 26 1-14 1 9 1-28 1 36 1-9 1-11 1 17 1-17 1 23 1-16 1-3 1 11 1 1 1-28 1 4 1 12 1-12 1-3 1 17 1-11 1 5 1-2 1 17 1-8 1 6 1-7 1-5 1 10 1-6 1 7 1-23 1 20 1-5 1-21 1 23 1-3 1-15 1 23 1-38 1 16 1 11 1-5 1-4 1 13 1 25 1-18 1-6 1-12 1 17 1-9 1-4 1 25 1-23 1 6 1 8 1-18 1 28 1-17 1 11 1-27 1 23 1-20 1 16 1 1 1-26 1 21 1 0 1 16 1 2 1-36 1 24 1-5 1-12 1 6 1-7 1 14 1-13 1 19 1-13 1-4 1 15 1 1 1 4 1-28 1 28 1 0 1-12 1-7 1 11 1-1 1 27 1-25 1 1 1-20 1 25 1 8 1-29 1 7 1-7 1 10 1 13 1-21 1-4 1 25 1 10 1-35 1 21 1-8 1-8 1-14 1 23 1-30 1 30 1-7 1-10 1 16 1-20 1 33 1-19 1 5 1 2 1 5 1-3 1 18 1-16 1-19 1 25 1-3 1-12 1 7 1 13 1-1 1 3 1-24 1-17 1 35 1-23 1 7 1-24 1 29 1-15 1 11 1 10 1-3 1-15 1-3 1 19 1-14 1-4 1 19 1 8 1-1 1-23 1 30 1-12 1-13 1-3 1-22 1 24 1-2 1-8 1 27 1-29 1 30 1-25 1 16 1-8 1-2 1 18 1-3 1-15 1-10 1 20 1-7 1 16 1-23 1 1 1-1 1 20 1-25 1 13 1 14 1-17 1 12 1-4 1 7 1 5 1-7 1-5 1 7 1-8 1 9 1-1 1-11 1-6 1-12 1 21 1-8 1 16 1 5 1 1 1-7 1 9 1-17 1-1 1-9 1 12 1-7 1 0 1 6 1 4 1-20 1 28 1-7 1-9 1 16 1-31 1 25 1-16 1-2 1 17 1 0 1-9 1 4 1 17 1-12 1 10 1-21 1 14 1 6 1 16 1-11 1-30 1 27 1-5 1-16 1 4 1-5 1-9 1 6 1-6 1 24 1-18 1 16 1 8 1-17 1-4 1-2 1-1 1 4 1 5 1 25 1-21 1 12 1-23 1 39 1-27 1-4 1 9 1-29 1 27 1-6 1 22 1-39 1 41 1-36 1-12 1 5 1-4 1-1 1 5 1 11 1-1 1 1 1 30 1-31 1 16 1-8 1-3 1 13 1-11 1 2 1 16 1-20 1-7 1 7 1 9 1 14 1-25 1 32 1-35 1-9 1 6 1-14 1 49 1-27 1-14 1 30 1 7 1-20 1 2 1 6 1-3 1 15 1-8 1-1 1-18 1 8 1 2 1 1 1-8 1 1 1 26 1 12 1-21 1-2 1 6 1-3 1-20 1 7 1-14 1 11 1-1 1-31 1 43 1-5 1-5 1 26 1-20 1 9 1 1 1-20 1-3 1 7 1 2 1-10 1 3 1 3 1 3 1 6 1-5 1 0 1-7 1 21 1-27 1 7 1-8 1 11 1 16 1-26 1 9 1 11 1-13 1-10 1 23 1 2 1-7 1 18 1-25 1 9 1 9 1-21 1 3 1 8 1 11 1-29 1 15 1-11 1 16 1-7 1 11 1-37 1 26 1 2 1 3 1-9 1 26 1-8 1-20 1 8 1-12 1 6 1 7 1 1 1 12 1-26 1 1 1 11 1 5 1-30 1 8 1 3 1 6 1 3 1-23 1 7 1 7 1 25 1-25 1 4 1-1 1-3 1 14 1-6 1 9 1-6 1 1 1-6 1-5 1 14 1 5 1-5 1 13 1-12 1-16 1 12 1 6 1-11 1 0 1 16 1-22 1 7 1 7 1 8 1-7 1 32 1-35 1 2 1 0 1-12 1 23 1-16 1-14 1 24 1-23 1 25 1-23 1 3 1 13 1 4 1 13 1-10 1-10 1 11 1-14 1 15 1-20 1 26 1-5 1-15 1 7 1-11 1-28 1 32 1-14 1 24 1-14 1 12 1-16 1 1 1 5 1 11 1-38 1 32 1-7 1 31 1-7 1-20 1-6 1 27 1-33 1 13 1-2 1-12 1-7 1 21 1 0 1-2 1 18 1-5 1-12 1-10 1 26 1-13 1 0 1-2 1 14 1-15 1 15 1 11 1-36 1 8 1 13 1-22 1-2 1 5 1 23 1 14 1-28 1 1 1 3 1 4 1-28 1 12 1 6 1-9 1 9 1 18 1-13 1 17 1-24 1 10 1-7 1 5 1 5 1-15 1 9 1 5 1 5 1-24 1 18 1 0 1-14 1-10 1 21 1-16 1 15 1-13 1-11 1 25 1-29 1 31 1-8 1 1 1 10 1-12 1 7 1 23 1-31 1-11 1 3 1 13 1-9 1 19 1-19 1 2 1 28 1-12 1 0 1 3 1 8 1-21 1 12 1-1 1 2 1-8 1-29 1 21 1-2 1 15 1 18 1-21 1-2 1 0 1 11 1-29 1 8 1 1 1 0 1-7 1 41 1-30 1 15 1-25 1 0 1-12 1 12 1 22 1-29 1 2 1-10 1 31 1-22 1 0 1-24 1 30 1-35 1-9 1 4 1 9 1-22 1 2 1-13 1-24 1 7 1 0 1-15 1 8 1 33 1-16 1 30 1 2 1-14 1 7 1 21 1 25 1-24 1 9 1 18 1-12 1-1 1 10 1-3 1 0 1 5 1 0 1 3 1-14 1 14 1 26 1-17 1 23 1-27 1-6 1 19 1-27 1 24 1-14 1 10 1-11 1 5 1-7 1 26 1-32 1 13 1 14 1 10 1-16 1 17 1-13 1-6 1 9 1 10 1-36 1 18 1-2 1 13 1-7 1-18 1 1 1 5 1 17 1-2 1-10 1 3 1 5 1-18 1 7 1-11 1 10 1 15 1-12 1-14 1 15 1-18 1 15 1 0 1-14 1 10 1-8 1 8 1 11 1-8 1 17 1-1 1 6 1-24 1 18 1 0 1-4 1-3 1-17 1 11 1-2 1 11 1-4 1 0 1 6 1 1 1-20 1 15 1-4 1 5 1 9 1-5 1 0 1 16 1-29 1 10 1-3 1 22 1-5 1-6 1 7 1-13 1-2 1-2 1 19 1-13 1 10 1-8 1 10 1-39 1 34 1-11 1-5 1 1 1 2 1 14 1 7 1-20 1 9 1 7 1-9 1-7 1-8 1-2 1 14 1-10 1 13 1-17 1 17 1-11 1 9 1-23 1 1 1-10 1 9 1-4 1 19 1 14 1-30 1 10 1-4 1 17 1-9 1-8 1-3 1 18 1 0 1 4 1 5 1-18 1 17 1-43 1 39 1-23 1-4 1 3 1 16 1-7 1-8 1 33 1-10 1-19 1 32 1-11 1-2 1 8 1 1 1-9 1 23 1-31 1-12 1 37 1-47 1 22 1 2 1-11 1 1 1 16 1-2 1 18 1-24 1 2 1-13 1 18 1-11 1-4 1-22 1 38 1 4 1-16 1 20 1-33 1 0 1 10 1 2 1 6 1 4 1-20 1 7 1 5 1 19 1-17 1-1 1 5 1 7 1-1 1-7 1 1 1-1 1-14 1 22 1-16 1-8 1 20 1-19 1 14 1-12 1 24 1-9 1-7 1 17 1-26 1 2 1 6 1 7 1-10 1 15 1-8 1-20 1 29 1-16 1 0 1-7 1 12 1-27 1 16 1 20 1-8 1 7 1-11 1 16 1-3 1 6 1-12 1-6 1-9 1 10 1 11 1-19 1 20 1-19 1 0 1 5 1-11 1-2 1 25 1-5 1 1 1-6 1 10 1-6 1 2 1-1 1-7 1 9 1-1 1-9 1 23 1-36 1 28 1-12 1-4 1-9 1 7 1-4 1 18 1-30 1 35 1-6 1 1 1-33 1 21 1-19 1 19 1 14 1-13 1 11 1-13 1 16 1 21 1-33 1-14 1 15 1 0 1-1 1 3 1 12 1 5 1-17 1-3 1 3 1-11 1 5 1 0 1-7 1 10 1 24 1-33 1 24 1 4 1-16 1 6 1-10 1 0 1 19 1-19 1-10 1 18 1-5 1 8 1-5 1 18 1 1 1-29 1 10 1-11 1 5 1-7 1 19 1-6 1 1 1-10 1-11 1 24 1-3 1 4 1 8 1-9 1-2 1 14 1-8 1-14 1 19 1 1 1-17 1-3 1 10 1-22 1-4 1 5 1 17 1 6 1-9 1-7 1 28 1-5 1-23 1-5 1-1 1 11 1-7 1 12 1-5 1-3 1 16 1-30 1 19 1 8 1-17 1 10 1 7 1-22 1 7 1 2 1 14 1 3 1-20 1 5 1-7 1 16 1-1 1 0 1-4 1 5 1 0 1 0 1 3 1 8 1-10 1-9 1 3 1-2 1 17 1-23 1 5 1-8 1 15 1-7 1 28 1-17 1-10 1-12 1 5 1 4 1 10 1 10 1-26 1 20 1 5 1-21 1 16 1 7 1-3 1-18 1 8 1-6 1 16 1-16 1 32 1-33 1 25 1-11 1-14 1-5 1 2 1-30 1 25 1 28 1-24 1 10 1-31 1 25 1 19 1 0 1-8 1 3 1 5 1-12 1 13 1 2 1-8 1-8 1-16 1 8 1 3 1-3 1 9 1 14 1-27 1 1 1 10 1 13 1 11 1-52 1 23 1 17 1 0 1-12 1-2 1 5 1 1 1 12 1-17 1 0 1-7 1 16 1 0 1-12 1-11 1 25 1-18 1 5 1-13 1 11 1-3 1 24 1-16 1 6 1-34 1 25 1 20 1-30 1 9 1 26 1-34 1 18 1-2 1-16 1 17 1-5 1-1 1 20 1 0 1-33 1 6 1 10 1 5 1-8 1-4 1 8 1-5 1-1 1 15 1-12 1-20 1 32 1-15 1 3 1 6 1-10 1-18 1 17 1 8 1-19 1 23 1-12 1 9 1 1 1-7 1 29 1-34 1 6 1 5 1 2 1 15 1-43 1 11 1 17 1-11 1-12 1 51 1-33 1 4 1-7 1-10 1-4 1 3 1 20 1-4 1 0 1 1 1-15 1 18 1-17 1 33 1-35 1 16 1-11 1 13 1-15 1 20 1-3 1 6 1-17 1-5 1-2 1 10 1 16 1-26 1 10 1 17 1-26 1 41 1-13 1-20 1-2 1 4 1-3 1 2 1-4 1-2 1 12 1 7 1-25 1 31 1-29 1 16 1-3 1 7 1-11 1 8 1 8 1 9 1 1 1-20 1 17 1-4 1-9 1-17 1 16 1-6 1-2 1-2 1 1 1-4 1-6 1 8 1 8 1 0 1 27 1-30 1 17 1 0 1-33 1 4 1 20 1-11 1-27 1 43 1-28 1 28 1-10 1-29 1 32 1-30 1 14 1 8 1 12 1 4 1-24 1 17 1-11 1 3 1 6 1-3 1-2 1 12 1-20 1 23 1-19 1 13 1-16 1-9 1 4 1 0 1 9 1-1 1-9 1 5 1 4 1 10 1 3 1-23 1 15 1-10 1 4 1 0 1 4 1-12 1-7 1 22 1-20 1 2 1 2 1 1 1 18 1 5 1 1 1-29 1 42 1-5 1-29 1 13 1 5 1 14 1-23 1 17 1-28 1 15 1 17 1-33 1-12 1 12 1 7 1 19 1-19 1-22 1 19 1-10 1 1 1-9 1 43 1-24 1 35 1-38 1 8 1-7 1 9 1-9 1 8 1 0 1-5 1 21 1-7 1-50 1 41 1-14 1 11 1 4 1-15 1 19 1-16 1 0 1-2 1 18 1-9 1 22 1-8 1-9 1-19 1 40 1-55 1 26 1 33 1-36 1 0 1 16 1-6 1 9 1-13 1 16 1-8 1 17 1-12 1-21 1-2 1 26 1-13 1 8 1-2 1-8 1-7 1 31 1-19 1 7 1-13 1 4 1 1 1-10 1 22 1-9 1 3 1 6 1 4 1-20 1 10 1-10 1-20 1 10 1 17 1-39 1 27 1 11 1-5 1 11 1-9 1-4 1-6 1 9 1-34 1 2 1 27 1 12 1 6 1 4 1-37 1 4 1 11 1-16 1 27 1-6 1-13 1 10 1 23 1-16 1 3 1-4 1-17 1 12 1-2 1-7 1 19 1-9 1-2 1-3 1-2 1-6 1 5 1-5 1 13 1 5 1-8 1 13 1-4 1 0 1-12 1 9 1-10 1 4 1-9 1 11 1-1 1-6 1-23 1 18 1 0 1 10 1 1 1-4 1 5 1-16 1 20 1-5 1-7 1 5 1 11 1-32 1 30 1-10 1 8 1-4 1-16 1-2 1 6 1 3 1-18 1 37 1-30 1-3 1 17 1 8 1-8 1 14 1-30 1 0 1-3 1 13 1-12 1 20 1-17 1-9 1-16 1 9 1-12 1-1 1-7 1-1 1-18 1 1 1-2 1-26 1 8 1-6 1-3 1-15 1-1 1-22 1 29 1 2 1 7 1-4 1 13 1 27 1 10 1 1 1-3 1 19 1-23 1 26 1-10 1 6 1 18 1-4 1 27 1-3 1-1 1 11 1-27 1-5 1 10 1 15 1-4 1-26 1 28 1-2 1-9 1 9 1 1 1-11 1 13 1-17 1 18 1-14 1 20 1-35 1 5 1 30 1-32 1-6 1 14 1-6 1 22 1 2 1-4 1 1 1-15 1 6 1-7 1 15 1 1 1-3 1-4 1-7 1 8 1 18 1-14 1 5 1-11 1-5 1 18 1-12 1 0 1 6 1-4 1 10 1-17 1-3 1-5 1-7 1 19 1 7 1-4 1-18 1 37 1-4 1-17 1 2 1 7 1 14 1-10 1-14 1 2 1 23 1-1 1-9 1-2 1 2 1-18 1 0 1 30 1-22 1 13 1-3 1-3 1 0 1-22 1 22 1 30 1-37 1 15 1 18 1-34 1 8 1 14 1-22 1 15 1-31 1 15 1 7 1-17 1 9 1 16 1-14 1 14 1-24 1 26 1 3 1-12 1-20 1-7 1 9 1 26 1-20 1 2 1 34 1-30 1 1 1 0 1-4 1-12 1 16 1-14 1-9 1 32 1-14 1-4 1 5 1 15 1-27 1 25 1-1 1 12 1-12 1 10 1-17 1 2 1 1 1 8 1-4 1 1 1 4 1 9 1-40 1 29 1 0 1-6 1-17 1 14 1 3 1-4 1 19 1-31 1 8 1 17 1-20 1 3 1-7 1 7 1 9 1-29 1 40 1-13 1-5 1 14 1-15 1 27 1-33 1 9 1 30 1-12 1-18 1 12 1 2 1 4 1-21 1 11 1 6 1-18 1-6 1 14 1 6 1-12 1-11 1 12 1-2 1 4 1-3 1 1 1 21 1-35 1 17 1 13 1-26 1 0 1 16 1-3 1 7 1 14 1-15 1-12 1 35 1-46 1 0 1 21 1-20 1 24 1 0 1-3 1-11 1 11 1 8 1-10 1 7 1-12 1-16 1 15 1 5 1-26 1 0 1 34 1-15 1-10 1 15 1 14 1-2 1-1 1-20 1 33 1-8 1-12 1-12 1-2 1 1 1-7 1 6 1 1 1 2 1 32 1-33 1 18 1-18 1-1 1 14 1-17 1 13 1 0 1-21 1 27 1-18 1-2 1 2 1 3 1 12 1-16 1 25 1-16 1-6 1 8 1-5 1-1 1 4 1-7 1-14 1 28 1-3 1-11 1-7 1 4 1 6 1-9 1 24 1 1 1-1 1-25 1 37 1-28 1 9 1 23 1-52 1 9 1 34 1 1 1-21 1-18 1 10 1 17 1-5 1-3 1-8 1 21 1-26 1 15 1-10 1 18 1-17 1 12 1-15 1 25 1-14 1 3 1-21 1 15 1 23 1 3 1-16 1 3 1 3 1 2 1-17 1-3 1 20 1-20 1-6 1 7 1 6 1 4 1-6 1 14 1-5 1-6 1-12 1 30 1-26 1 1 1-14 1 28 1-5 1-6 1-6 1 5 1 12 1 2 1 9 1-12 1 11 1-42 1 6 1 22 1-1 1-10 1 12 1-16 1 14 1-7 1 2 1 9 1-36 1 31 1-34 1 19 1 26 1-19 1 11 1-4 1-5 1 1 1 14 1-4 1-29 1 5 1 23 1-22 1 1 1 15 1-2 1 4 1-23 1 13"/>
<g fill="#000"><path d="M526.4 233.8L543.8 268.6L509.0 268.6Z"/><path d="M549.7 262.2L554.5 276.1L569.3 276.4L557.5 285.3L561.8 299.5L549.7 291.0L537.6 299.5L541.9 285.3L530.1 276.4L544.9 276.1Z"/><path d="M664.9 247.4L682.3 282.2L647.5 282.2Z"/><path d="M721.0 118.0L738.4 152.8L703.6 152.8Z"/><circle cx="756.4" cy="288.7" r="14.8"/><circle cx="777.9" cy="268.1" r="14.8"/><path d="M815.3 268.1L820.1 282.0L834.9 282.3L823.1 291.2L827.4 305.4L815.3 296.9L803.2 305.4L807.5 291.2L795.7 282.3L810.5 282.0Z"/><path d="M859.3 262.2L874.2 292.5L844.4 292.5Z"/><path d="M889.8 262.2L904.7 292.5L874.9 292.5Z"/><path d="M1064.6 267.6L1082.0 302.4L1047.2 302.4Z"/><path d="M1264.0 254.4L1281.4 289.2L1246.6 289.2Z"/><path d="M526.4 473.0L543.8 507.8L509.0 507.8Z"/><path d="M664.9 468.2L682.3 503.0L647.5 503.0Z"/><path d="M721.0 330.5L738.4 365.3L703.6 365.3Z"/><circle cx="756.5" cy="521.0" r="14.8"/><circle cx="777.5" cy="500.7" r="14.8"/><path d="M859.3 495.1L874.2 525.4L844.4 525.4Z"/><path d="M889.8 489.6L904.7 519.9L874.9 519.9Z"/><path d="M1064.6 493.2L1082.0 528.0L1047.2 528.0Z"/><path d="M1264.0 472.5L1281.4 507.3L1246.6 507.3Z"/><path d="M526.4 715.9L543.8 750.7L509.0 750.7Z"/><path d="M664.9 711.4L682.3 746.2L647.5 746.2Z"/><path d="M721.0 560.5L738.4 595.3L703.6 595.3Z"/><circle cx="756.5" cy="763.9" r="14.8"/><circle cx="777.5" cy="763.9" r="14.8"/><path d="M859.3 739.1L874.2 769.4L844.4 769.4Z"/><path d="M889.8 733.6L904.7 763.9L874.9 763.9Z"/><path d="M1064.6 729.3L1082.0 764.1L1047.2 764.1Z"/><path d="M1264.0 722.0L1281.4 756.8L1246.6 756.8Z"/><path d="M526.4 1007.4L543.8 1042.2L509.0 1042.2Z"/><path d="M549.7 1035.9L554.5 1049.8L569.3 1050.1L557.5 1059.0L561.8 1073.2L549.7 1064.7L537.6 1073.2L541.9 1059.0L530.1 1050.1L544.9 1049.8Z"/><path d="M664.9 1027.7L682.3 1062.5L647.5 1062.5Z"/><path d="M720.7 897.7L738.1 932.5L703.3 932.5Z"/><path d="M783.1 1003.7L787.9 1017.6L802.7 1017.9L790.9 1026.8L795.2 1041.0L783.1 1032.5L771.0 1041.0L775.3 1026.8L763.5 1017.9L778.3 1017.6Z"/><circle cx="750.2" cy="1076.9" r="14.8"/><circle cx="777.5" cy="1063.6" r="14.8"/><path d="M815.6 1051.7L820.4 1065.6L835.2 1065.9L823.4 1074.8L827.7 1089.0L815.6 1080.5L803.5 1089.0L807.8 1074.8L796.0 1065.9L810.8 1065.6Z"/><path d="M859.3 1049.2L874.2 1079.5L844.4 1079.5Z"/><path d="M889.8 1043.6L904.7 1073.9L874.9 1073.9Z"/><path d="M1064.6 1046.9L1082.0 1081.7L1047.2 1081.7Z"/><path d="M1264.0 1025.6L1281.4 1060.4L1246.6 1060.4Z"/><path d="M526.4 1270.7L543.8 1305.5L509.0 1305.5Z"/><path d="M664.9 1264.0L682.3 1298.8L647.5 1298.8Z"/><path d="M721.0 1107.1L738.4 1141.9L703.6 1141.9Z"/><circle cx="777.5" cy="1292.9" r="14.8"/><path d="M859.3 1291.7L874.2 1322.0L844.4 1322.0Z"/><path d="M889.8 1286.2L904.7 1316.5L874.9 1316.5Z"/><path d="M1064.6 1290.5L1082.0 1325.3L1047.2 1325.3Z"/><path d="M1264.0 1275.8L1281.4 1310.6L1246.6 1310.6Z"/><path d="M526.4 1453.1L543.8 1487.9L509.0 1487.9Z"/><path d="M664.9 1460.5L682.3 1495.3L647.5 1495.3Z"/><path d="M720.7 1404.0L738.1 1438.8L703.3 1438.8Z"/><circle cx="777.5" cy="1455.0" r="14.8"/><path d="M859.3 1467.5L874.2 1497.8L844.4 1497.8Z"/><path d="M889.8 1462.0L904.7 1492.3L874.9 1492.3Z"/><rect x="1058.7" y="1398.2" width="32.6" height="32.7"/><path d="M1264.0 1464.8L1281.4 1499.6L1246.6 1499.6Z"/><rect x="1596.0" y="1470.0" width="33.0" height="32.0"/></g>
<rect x="164.0" y="18.5" width="2102.5" height="1568.0" fill="none" stroke="#000" stroke-width="6" stroke-linejoin="round"/>
<path d="M295.4 1586.5V1568.5M426.8 1586.5V1552.0M558.2 1586.5V1568.5M689.6 1586.5V1552.0M821.0 1586.5V1568.5M952.4 1586.5V1552.0M1083.8 1586.5V1568.5M1215.2 1586.5V1552.0M1346.6 1586.5V1568.5M1478.0 1586.5V1552.0M1609.4 1586.5V1568.5M1740.8 1586.5V1552.0M1872.2 1586.5V1568.5M2003.6 1586.5V1552.0M2135.0 1586.5V1568.5" stroke="#000" stroke-width="5.5" stroke-linecap="butt" fill="none"/>
<g font-family="'Liberation Serif', serif" font-size="84" text-anchor="middle"><text x="164.0" y="1657.5">10</text><text x="426.8" y="1657.5">20</text><text x="689.6" y="1657.5">30</text><text x="952.4" y="1657.5">40</text><text x="1215.2" y="1657.5">50</text><text x="1478.0" y="1657.5">60</text><text x="1740.8" y="1657.5">70</text><text x="2003.6" y="1657.5">80</text><text x="2266.4" y="1657.5">90</text></g>
<path d="M164.5 837.5H2258" stroke="#000" stroke-width="4.5" stroke-dasharray="11.4 5.25" fill="none"/>
<g fill="#000"><text transform="translate(1110.56 1789.90) scale(1.0092 1)" font-size="98">2θ (°)</text><text transform="translate(83.60 1178.30) rotate(-90) scale(1.0010 1)" font-size="99.5">Intensity (a.u.)</text><rect x="305.5" y="61.8" width="33.0" height="33.5"/><text transform="translate(358.22 99.10) scale(1.0400 1)" font-size="68">Iron</text><path d="M572.6 58.5L589.3 92.8L555.9 92.8Z"/><text transform="translate(608.37 94.30) scale(1.0340 1)" font-size="68">Akermanite</text><circle cx="1006.7" cy="80.6" r="14.9"/><text transform="translate(1043.42 94.30) scale(1.0376 1)" font-size="68">Merwinite</text><path d="M1407.3 53.2L1412.2 67.3L1427.1 67.6L1415.2 76.6L1419.5 90.8L1407.3 82.3L1395.1 90.8L1399.4 76.6L1387.5 67.6L1402.4 67.3Z"/><text transform="translate(1449.24 94.30) scale(1.0311 1)" font-size="68">Monticellite</text><text transform="translate(1665.35 208.90) scale(1.0454 1)" font-size="68" font-style="italic">Dripped slag of</text><text transform="translate(2114.20 208.90)" font-size="57" font-style="italic" font-weight="bold">:</text><text transform="translate(1620.03 944.80) scale(1.0344 1)" font-size="68">Residual slag of</text><text transform="translate(2078.30 944.80)" font-size="57" font-weight="bold">:</text><text transform="translate(2111.79 301.30) scale(1.1081 1)" font-size="78.5" font-style="italic" fill="#0000ff">S</text><text transform="translate(2153.50 332.00) scale(0.9000 1)" font-size="54" font-style="italic" fill="#0000ff">3</text><text transform="translate(2177.50 301.30) scale(1.0435 1)" font-size="78.5" font-style="italic" fill="#0000ff">P</text><text transform="translate(2112.00 510.60)" font-size="78.5" fill="#ff0000">S</text><text transform="translate(2155.60 540.50)" font-size="54" fill="#ff0000">2</text><text transform="translate(2182.20 510.60)" font-size="78.5" fill="#ff0000">P</text><text transform="translate(2111.79 752.80) scale(1.1081 1)" font-size="78.5" font-style="italic" fill="#000">S</text><text transform="translate(2152.25 782.70) scale(1.0263 1)" font-size="54" font-style="italic" fill="#000">1</text><text transform="translate(2177.50 752.80) scale(1.0435 1)" font-size="78.5" font-style="italic" fill="#000">P</text><text transform="translate(2112.00 1063.50)" font-size="78.5" fill="#0000ff">S</text><text transform="translate(2155.00 1093.20)" font-size="54" fill="#0000ff">3</text><text transform="translate(2182.20 1063.50)" font-size="78.5" fill="#0000ff">P</text><text transform="translate(2112.00 1323.90)" font-size="78.5" fill="#ff0000">S</text><text transform="translate(2155.60 1345.70)" font-size="54" fill="#ff0000">2</text><text transform="translate(2182.20 1323.90)" font-size="78.5" fill="#ff0000">P</text><text transform="translate(2112.00 1471.70)" font-size="78.5" fill="#000">S</text><text transform="translate(2155.00 1502.70)" font-size="54" fill="#000">1</text><text transform="translate(2182.20 1471.70)" font-size="78.5" fill="#000">P</text></g>
</svg>
</body></html>
